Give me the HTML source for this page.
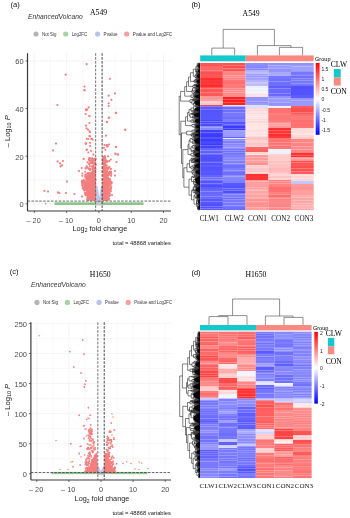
<!DOCTYPE html><html><head><meta charset="utf-8"><style>html,body{margin:0;padding:0;background:#fff;}svg{display:block;filter:blur(0.35px);}</style></head><body><svg width="350" height="518" viewBox="0 0 350 518"><rect width="350" height="518" fill="#fff"/><text x="10.5" y="7.3" font-size="7.6" font-family='"Liberation Sans", sans-serif' text-anchor="start" fill="#222" >(a)</text><text x="28" y="18.8" font-size="6.7" font-family='"Liberation Sans", sans-serif' text-anchor="start" fill="#333" font-style="italic" letter-spacing="0.05">EnhancedVolcano</text><text x="90" y="15.3" font-size="7.7" font-family='"Liberation Serif", serif' text-anchor="start" fill="#000" >A549</text><circle cx="36" cy="34" r="2.6" fill="#b5b5b5"/><text x="42" y="35.9" font-size="5.3" font-family='"Liberation Sans", sans-serif' text-anchor="start" fill="#333" textLength="14.4" lengthAdjust="spacingAndGlyphs">Not Sig</text><circle cx="65.7" cy="34" r="2.6" fill="#a6d2a6"/><text x="71.7" y="35.9" font-size="5.3" font-family='"Liberation Sans", sans-serif' text-anchor="start" fill="#333" textLength="15.5" lengthAdjust="spacingAndGlyphs">Log2FC</text><circle cx="97.6" cy="34" r="2.6" fill="#b6c4f2"/><text x="103.6" y="35.9" font-size="5.3" font-family='"Liberation Sans", sans-serif' text-anchor="start" fill="#333" textLength="13.9" lengthAdjust="spacingAndGlyphs">Pvalue</text><circle cx="126.7" cy="34" r="2.6" fill="#f5a0a0"/><text x="132.7" y="35.9" font-size="5.3" font-family='"Liberation Sans", sans-serif' text-anchor="start" fill="#333" textLength="39.4" lengthAdjust="spacingAndGlyphs">Pvalue and Log2FC</text><line x1="34.3" y1="53.2" x2="34.3" y2="211" stroke="#ebebeb" stroke-width="0.5" /><line x1="50.45" y1="53.2" x2="50.45" y2="211" stroke="#ebebeb" stroke-width="0.35" /><line x1="66.6" y1="53.2" x2="66.6" y2="211" stroke="#ebebeb" stroke-width="0.5" /><line x1="82.75" y1="53.2" x2="82.75" y2="211" stroke="#ebebeb" stroke-width="0.35" /><line x1="98.9" y1="53.2" x2="98.9" y2="211" stroke="#ebebeb" stroke-width="0.5" /><line x1="115.05" y1="53.2" x2="115.05" y2="211" stroke="#ebebeb" stroke-width="0.35" /><line x1="131.2" y1="53.2" x2="131.2" y2="211" stroke="#ebebeb" stroke-width="0.5" /><line x1="147.35" y1="53.2" x2="147.35" y2="211" stroke="#ebebeb" stroke-width="0.35" /><line x1="163.5" y1="53.2" x2="163.5" y2="211" stroke="#ebebeb" stroke-width="0.5" /><line x1="27.5" y1="203.8" x2="171" y2="203.8" stroke="#ebebeb" stroke-width="0.5" /><line x1="27.5" y1="180" x2="171" y2="180" stroke="#ebebeb" stroke-width="0.35" /><line x1="27.5" y1="156.2" x2="171" y2="156.2" stroke="#ebebeb" stroke-width="0.5" /><line x1="27.5" y1="132.4" x2="171" y2="132.4" stroke="#ebebeb" stroke-width="0.35" /><line x1="27.5" y1="108.6" x2="171" y2="108.6" stroke="#ebebeb" stroke-width="0.5" /><line x1="27.5" y1="84.8" x2="171" y2="84.8" stroke="#ebebeb" stroke-width="0.35" /><line x1="27.5" y1="61" x2="171" y2="61" stroke="#ebebeb" stroke-width="0.5" /><rect x="54.5" y="202.3" width="89" height="2.7" fill="#8cc48c"/><circle cx="45.6" cy="203.6" r="0.9" fill="#8cc48c"/><rect x="96" y="200.4" width="6.4" height="5" fill="#c6c6c6"/><polygon points="96.2,200.4 96.4,185.5 97.4,185.5 99.3,197.5 101.2,185.5 102.2,185.5 102.4,200.4" fill="#b8c6f2"/><polygon points="92.5,170 88,175 85,182 85.5,188 88,194 90.5,200 95.8,200 95.8,170" fill="#f47f7f"/><polygon points="105,166 107.5,172 109,180 108.5,190 106.5,200 102.8,200 102.8,166" fill="#f47f7f"/><circle cx="82.4" cy="185.02" r="1.05" fill="#f47f7f"/><circle cx="89.58" cy="184.45" r="1.05" fill="#f47f7f"/><circle cx="91.24" cy="195.33" r="1.05" fill="#f47f7f"/><circle cx="94.8" cy="168.93" r="1.05" fill="#f47f7f"/><circle cx="88.06" cy="198.15" r="1.05" fill="#f47f7f"/><circle cx="87.38" cy="199.32" r="1.05" fill="#f47f7f"/><circle cx="87.35" cy="175.82" r="1.05" fill="#f47f7f"/><circle cx="95.48" cy="199.82" r="1.05" fill="#f47f7f"/><circle cx="95.58" cy="195.14" r="1.05" fill="#f47f7f"/><circle cx="86.88" cy="184.52" r="1.05" fill="#f47f7f"/><circle cx="83.86" cy="182.09" r="1.05" fill="#f47f7f"/><circle cx="93.58" cy="175.41" r="1.05" fill="#f47f7f"/><circle cx="89.43" cy="158.13" r="1.05" fill="#f47f7f"/><circle cx="94.38" cy="173.2" r="1.05" fill="#f47f7f"/><circle cx="89.07" cy="191.63" r="1.05" fill="#f47f7f"/><circle cx="84.77" cy="187.22" r="1.05" fill="#f47f7f"/><circle cx="92.5" cy="160.28" r="1.05" fill="#f47f7f"/><circle cx="87.31" cy="194.49" r="1.05" fill="#f47f7f"/><circle cx="95.56" cy="159.07" r="1.05" fill="#f47f7f"/><circle cx="86.48" cy="176.99" r="1.05" fill="#f47f7f"/><circle cx="89.98" cy="198.24" r="1.05" fill="#f47f7f"/><circle cx="94.83" cy="170.7" r="1.05" fill="#f47f7f"/><circle cx="90.87" cy="197.87" r="1.05" fill="#f47f7f"/><circle cx="87.82" cy="195.56" r="1.05" fill="#f47f7f"/><circle cx="88.35" cy="195.13" r="1.05" fill="#f47f7f"/><circle cx="92.28" cy="176.31" r="1.05" fill="#f47f7f"/><circle cx="88.38" cy="194.38" r="1.05" fill="#f47f7f"/><circle cx="92.88" cy="168.4" r="1.05" fill="#f47f7f"/><circle cx="89.3" cy="194.45" r="1.05" fill="#f47f7f"/><circle cx="87.49" cy="176.4" r="1.05" fill="#f47f7f"/><circle cx="89.89" cy="194.37" r="1.05" fill="#f47f7f"/><circle cx="95.11" cy="190.1" r="1.05" fill="#f47f7f"/><circle cx="89.42" cy="198.16" r="1.05" fill="#f47f7f"/><circle cx="91.62" cy="178.32" r="1.05" fill="#f47f7f"/><circle cx="93.9" cy="160.22" r="1.05" fill="#f47f7f"/><circle cx="95.29" cy="165.14" r="1.05" fill="#f47f7f"/><circle cx="91.84" cy="162.93" r="1.05" fill="#f47f7f"/><circle cx="85.76" cy="195.16" r="1.05" fill="#f47f7f"/><circle cx="85.93" cy="194.93" r="1.05" fill="#f47f7f"/><circle cx="94.85" cy="178.21" r="1.05" fill="#f47f7f"/><circle cx="89.94" cy="199.39" r="1.05" fill="#f47f7f"/><circle cx="90.59" cy="173.36" r="1.05" fill="#f47f7f"/><circle cx="94.17" cy="178.55" r="1.05" fill="#f47f7f"/><circle cx="94.52" cy="172.58" r="1.05" fill="#f47f7f"/><circle cx="83.68" cy="180.26" r="1.05" fill="#f47f7f"/><circle cx="86.92" cy="191.96" r="1.05" fill="#f47f7f"/><circle cx="93.4" cy="199.8" r="1.05" fill="#f47f7f"/><circle cx="93.68" cy="198.91" r="1.05" fill="#f47f7f"/><circle cx="92.25" cy="179.67" r="1.05" fill="#f47f7f"/><circle cx="89.18" cy="163.85" r="1.05" fill="#f47f7f"/><circle cx="88.6" cy="174.01" r="1.05" fill="#f47f7f"/><circle cx="90.77" cy="199.46" r="1.05" fill="#f47f7f"/><circle cx="89.3" cy="173.54" r="1.05" fill="#f47f7f"/><circle cx="89.58" cy="176.67" r="1.05" fill="#f47f7f"/><circle cx="86.49" cy="190.49" r="1.05" fill="#f47f7f"/><circle cx="81.98" cy="180.87" r="1.05" fill="#f47f7f"/><circle cx="85.18" cy="171.75" r="1.05" fill="#f47f7f"/><circle cx="93.54" cy="162.58" r="1.05" fill="#f47f7f"/><circle cx="90.95" cy="163.33" r="1.05" fill="#f47f7f"/><circle cx="88.92" cy="169.06" r="1.05" fill="#f47f7f"/><circle cx="90.7" cy="177.2" r="1.05" fill="#f47f7f"/><circle cx="90" cy="177.96" r="1.05" fill="#f47f7f"/><circle cx="90" cy="158.36" r="1.05" fill="#f47f7f"/><circle cx="84.21" cy="187.72" r="1.05" fill="#f47f7f"/><circle cx="85.23" cy="185.53" r="1.05" fill="#f47f7f"/><circle cx="93.22" cy="171.09" r="1.05" fill="#f47f7f"/><circle cx="88.36" cy="183.78" r="1.05" fill="#f47f7f"/><circle cx="82.12" cy="183.06" r="1.05" fill="#f47f7f"/><circle cx="93.31" cy="192.86" r="1.05" fill="#f47f7f"/><circle cx="94.53" cy="174.65" r="1.05" fill="#f47f7f"/><circle cx="90.83" cy="163.07" r="1.05" fill="#f47f7f"/><circle cx="93.6" cy="163.81" r="1.05" fill="#f47f7f"/><circle cx="89.8" cy="194.87" r="1.05" fill="#f47f7f"/><circle cx="91.2" cy="162.62" r="1.05" fill="#f47f7f"/><circle cx="94.49" cy="179.17" r="1.05" fill="#f47f7f"/><circle cx="82.49" cy="183.1" r="1.05" fill="#f47f7f"/><circle cx="88.82" cy="173.03" r="1.05" fill="#f47f7f"/><circle cx="93.86" cy="195.83" r="1.05" fill="#f47f7f"/><circle cx="91.01" cy="194.34" r="1.05" fill="#f47f7f"/><circle cx="86.82" cy="183.21" r="1.05" fill="#f47f7f"/><circle cx="95.55" cy="158.98" r="1.05" fill="#f47f7f"/><circle cx="90.29" cy="199.53" r="1.05" fill="#f47f7f"/><circle cx="88.53" cy="173.16" r="1.05" fill="#f47f7f"/><circle cx="95.35" cy="169.01" r="1.05" fill="#f47f7f"/><circle cx="87.04" cy="184.92" r="1.05" fill="#f47f7f"/><circle cx="95.42" cy="193.52" r="1.05" fill="#f47f7f"/><circle cx="90.35" cy="177" r="1.05" fill="#f47f7f"/><circle cx="82.27" cy="175.77" r="1.05" fill="#f47f7f"/><circle cx="92.38" cy="174.34" r="1.05" fill="#f47f7f"/><circle cx="92.42" cy="195.52" r="1.05" fill="#f47f7f"/><circle cx="94.19" cy="172.89" r="1.05" fill="#f47f7f"/><circle cx="85.05" cy="189.44" r="1.05" fill="#f47f7f"/><circle cx="85.66" cy="177.7" r="1.05" fill="#f47f7f"/><circle cx="92.32" cy="168.99" r="1.05" fill="#f47f7f"/><circle cx="92.29" cy="161.64" r="1.05" fill="#f47f7f"/><circle cx="82.46" cy="184.97" r="1.05" fill="#f47f7f"/><circle cx="83.14" cy="188.19" r="1.05" fill="#f47f7f"/><circle cx="89.98" cy="168.74" r="1.05" fill="#f47f7f"/><circle cx="89.88" cy="175.95" r="1.05" fill="#f47f7f"/><circle cx="87.72" cy="167.64" r="1.05" fill="#f47f7f"/><circle cx="85.24" cy="194.36" r="1.05" fill="#f47f7f"/><circle cx="93.19" cy="159.23" r="1.05" fill="#f47f7f"/><circle cx="84.18" cy="190.44" r="1.05" fill="#f47f7f"/><circle cx="91.5" cy="189.33" r="1.05" fill="#f47f7f"/><circle cx="84.22" cy="180.68" r="1.05" fill="#f47f7f"/><circle cx="90.29" cy="199.59" r="1.05" fill="#f47f7f"/><circle cx="94.69" cy="168.58" r="1.05" fill="#f47f7f"/><circle cx="95.31" cy="169.19" r="1.05" fill="#f47f7f"/><circle cx="82.4" cy="182.21" r="1.05" fill="#f47f7f"/><circle cx="86.67" cy="174.1" r="1.05" fill="#f47f7f"/><circle cx="95.07" cy="160.75" r="1.05" fill="#f47f7f"/><circle cx="88.01" cy="181.75" r="1.05" fill="#f47f7f"/><circle cx="88.66" cy="176.54" r="1.05" fill="#f47f7f"/><circle cx="91.97" cy="180.24" r="1.05" fill="#f47f7f"/><circle cx="91.89" cy="166.25" r="1.05" fill="#f47f7f"/><circle cx="89.86" cy="165.96" r="1.05" fill="#f47f7f"/><circle cx="90.55" cy="179.64" r="1.05" fill="#f47f7f"/><circle cx="85.06" cy="182.8" r="1.05" fill="#f47f7f"/><circle cx="94.48" cy="159.66" r="1.05" fill="#f47f7f"/><circle cx="89.77" cy="168.52" r="1.05" fill="#f47f7f"/><circle cx="92.07" cy="174.02" r="1.05" fill="#f47f7f"/><circle cx="82.65" cy="186.66" r="1.05" fill="#f47f7f"/><circle cx="94.72" cy="192.37" r="1.05" fill="#f47f7f"/><circle cx="82.64" cy="185.82" r="1.05" fill="#f47f7f"/><circle cx="93.76" cy="183.98" r="1.05" fill="#f47f7f"/><circle cx="86.71" cy="177.54" r="1.05" fill="#f47f7f"/><circle cx="95.16" cy="169.63" r="1.05" fill="#f47f7f"/><circle cx="87.46" cy="193.88" r="1.05" fill="#f47f7f"/><circle cx="85.86" cy="189.06" r="1.05" fill="#f47f7f"/><circle cx="93.17" cy="172.06" r="1.05" fill="#f47f7f"/><circle cx="91.45" cy="193.05" r="1.05" fill="#f47f7f"/><circle cx="91.46" cy="185.69" r="1.05" fill="#f47f7f"/><circle cx="93.63" cy="181.63" r="1.05" fill="#f47f7f"/><circle cx="85.2" cy="176.9" r="1.05" fill="#f47f7f"/><circle cx="86.72" cy="165.93" r="1.05" fill="#f47f7f"/><circle cx="85.73" cy="193.69" r="1.05" fill="#f47f7f"/><circle cx="94.76" cy="163.23" r="1.05" fill="#f47f7f"/><circle cx="92.51" cy="162.17" r="1.05" fill="#f47f7f"/><circle cx="95.01" cy="164.03" r="1.05" fill="#f47f7f"/><circle cx="95.28" cy="172.27" r="1.05" fill="#f47f7f"/><circle cx="93.19" cy="166.92" r="1.05" fill="#f47f7f"/><circle cx="91.36" cy="197.16" r="1.05" fill="#f47f7f"/><circle cx="92.12" cy="199.78" r="1.05" fill="#f47f7f"/><circle cx="92.31" cy="162.77" r="1.05" fill="#f47f7f"/><circle cx="83.92" cy="182.69" r="1.05" fill="#f47f7f"/><circle cx="95.3" cy="174.28" r="1.05" fill="#f47f7f"/><circle cx="92.35" cy="197.72" r="1.05" fill="#f47f7f"/><circle cx="84.86" cy="182.28" r="1.05" fill="#f47f7f"/><circle cx="89.71" cy="195.33" r="1.05" fill="#f47f7f"/><circle cx="92.4" cy="158.53" r="1.05" fill="#f47f7f"/><circle cx="89.16" cy="198.87" r="1.05" fill="#f47f7f"/><circle cx="94.11" cy="170.37" r="1.05" fill="#f47f7f"/><circle cx="89.32" cy="182.26" r="1.05" fill="#f47f7f"/><circle cx="88.15" cy="199.85" r="1.05" fill="#f47f7f"/><circle cx="90.48" cy="195.44" r="1.05" fill="#f47f7f"/><circle cx="94.09" cy="187.02" r="1.05" fill="#f47f7f"/><circle cx="86.18" cy="182.38" r="1.05" fill="#f47f7f"/><circle cx="85.82" cy="168.49" r="1.05" fill="#f47f7f"/><circle cx="90.61" cy="176.99" r="1.05" fill="#f47f7f"/><circle cx="82.65" cy="182.75" r="1.05" fill="#f47f7f"/><circle cx="85.62" cy="192.77" r="1.05" fill="#f47f7f"/><circle cx="90.37" cy="169.7" r="1.05" fill="#f47f7f"/><circle cx="88.94" cy="163.56" r="1.05" fill="#f47f7f"/><circle cx="90.15" cy="170.24" r="1.05" fill="#f47f7f"/><circle cx="93.91" cy="172.47" r="1.05" fill="#f47f7f"/><circle cx="92.03" cy="184.31" r="1.05" fill="#f47f7f"/><circle cx="86.8" cy="176.55" r="1.05" fill="#f47f7f"/><circle cx="91.57" cy="161" r="1.05" fill="#f47f7f"/><circle cx="85.63" cy="175.54" r="1.05" fill="#f47f7f"/><circle cx="83.98" cy="187.67" r="1.05" fill="#f47f7f"/><circle cx="82.48" cy="173.52" r="1.05" fill="#f47f7f"/><circle cx="88.52" cy="199.69" r="1.05" fill="#f47f7f"/><circle cx="95.38" cy="192.83" r="1.05" fill="#f47f7f"/><circle cx="95.07" cy="194.97" r="1.05" fill="#f47f7f"/><circle cx="86.45" cy="193.04" r="1.05" fill="#f47f7f"/><circle cx="83.66" cy="182.6" r="1.05" fill="#f47f7f"/><circle cx="89.57" cy="158.27" r="1.05" fill="#f47f7f"/><circle cx="87.95" cy="198.52" r="1.05" fill="#f47f7f"/><circle cx="90.03" cy="199.25" r="1.05" fill="#f47f7f"/><circle cx="90.54" cy="184.18" r="1.05" fill="#f47f7f"/><circle cx="87.27" cy="177.86" r="1.05" fill="#f47f7f"/><circle cx="89.56" cy="186.37" r="1.05" fill="#f47f7f"/><circle cx="89.23" cy="188.65" r="1.05" fill="#f47f7f"/><circle cx="88.61" cy="180.21" r="1.05" fill="#f47f7f"/><circle cx="93.62" cy="191.37" r="1.05" fill="#f47f7f"/><circle cx="91.58" cy="199.3" r="1.05" fill="#f47f7f"/><circle cx="83.57" cy="187.65" r="1.05" fill="#f47f7f"/><circle cx="87.4" cy="199.14" r="1.05" fill="#f47f7f"/><circle cx="89.14" cy="198.59" r="1.05" fill="#f47f7f"/><circle cx="84.81" cy="183.93" r="1.05" fill="#f47f7f"/><circle cx="82.94" cy="181.9" r="1.05" fill="#f47f7f"/><circle cx="82.81" cy="184.33" r="1.05" fill="#f47f7f"/><circle cx="90.07" cy="178.21" r="1.05" fill="#f47f7f"/><circle cx="95.25" cy="184.88" r="1.05" fill="#f47f7f"/><circle cx="91.08" cy="181.69" r="1.05" fill="#f47f7f"/><circle cx="93.74" cy="175.15" r="1.05" fill="#f47f7f"/><circle cx="88.33" cy="179.21" r="1.05" fill="#f47f7f"/><circle cx="81.73" cy="181.57" r="1.05" fill="#f47f7f"/><circle cx="95.23" cy="171.89" r="1.05" fill="#f47f7f"/><circle cx="89.45" cy="163.76" r="1.05" fill="#f47f7f"/><circle cx="89" cy="188.9" r="1.05" fill="#f47f7f"/><circle cx="83.61" cy="180.01" r="1.05" fill="#f47f7f"/><circle cx="94.77" cy="170.94" r="1.05" fill="#f47f7f"/><circle cx="88.86" cy="159.1" r="1.05" fill="#f47f7f"/><circle cx="94.29" cy="199.37" r="1.05" fill="#f47f7f"/><circle cx="85.27" cy="186.18" r="1.05" fill="#f47f7f"/><circle cx="94.9" cy="181.07" r="1.05" fill="#f47f7f"/><circle cx="85.27" cy="174.74" r="1.05" fill="#f47f7f"/><circle cx="93.66" cy="188.34" r="1.05" fill="#f47f7f"/><circle cx="83.87" cy="189.52" r="1.05" fill="#f47f7f"/><circle cx="91.03" cy="198.57" r="1.05" fill="#f47f7f"/><circle cx="86.58" cy="177.26" r="1.05" fill="#f47f7f"/><circle cx="87.34" cy="186.22" r="1.05" fill="#f47f7f"/><circle cx="82.76" cy="188.51" r="1.05" fill="#f47f7f"/><circle cx="88.81" cy="190.24" r="1.05" fill="#f47f7f"/><circle cx="94.58" cy="162.27" r="1.05" fill="#f47f7f"/><circle cx="89.61" cy="197.98" r="1.05" fill="#f47f7f"/><circle cx="88.87" cy="198.35" r="1.05" fill="#f47f7f"/><circle cx="90.24" cy="174.3" r="1.05" fill="#f47f7f"/><circle cx="91.88" cy="198.52" r="1.05" fill="#f47f7f"/><circle cx="91.47" cy="198.38" r="1.05" fill="#f47f7f"/><circle cx="94.83" cy="173.88" r="1.05" fill="#f47f7f"/><circle cx="85.3" cy="188.96" r="1.05" fill="#f47f7f"/><circle cx="88.2" cy="197.41" r="1.05" fill="#f47f7f"/><circle cx="87.41" cy="162.39" r="1.05" fill="#f47f7f"/><circle cx="84.83" cy="185.64" r="1.05" fill="#f47f7f"/><circle cx="87.16" cy="190.54" r="1.05" fill="#f47f7f"/><circle cx="94.61" cy="163.65" r="1.05" fill="#f47f7f"/><circle cx="91.83" cy="188.65" r="1.05" fill="#f47f7f"/><circle cx="89.98" cy="187.75" r="1.05" fill="#f47f7f"/><circle cx="93.04" cy="168.72" r="1.05" fill="#f47f7f"/><circle cx="88.22" cy="180.11" r="1.05" fill="#f47f7f"/><circle cx="95.73" cy="164.38" r="1.05" fill="#f47f7f"/><circle cx="89.68" cy="182.25" r="1.05" fill="#f47f7f"/><circle cx="89.12" cy="159.82" r="1.05" fill="#f47f7f"/><circle cx="91.24" cy="198.82" r="1.05" fill="#f47f7f"/><circle cx="91.38" cy="198.32" r="1.05" fill="#f47f7f"/><circle cx="93.71" cy="163.43" r="1.05" fill="#f47f7f"/><circle cx="87.59" cy="196.62" r="1.05" fill="#f47f7f"/><circle cx="89.59" cy="193.24" r="1.05" fill="#f47f7f"/><circle cx="84.22" cy="181.98" r="1.05" fill="#f47f7f"/><circle cx="84.64" cy="189.75" r="1.05" fill="#f47f7f"/><circle cx="88.09" cy="183.22" r="1.05" fill="#f47f7f"/><circle cx="87.87" cy="173.18" r="1.05" fill="#f47f7f"/><circle cx="86.33" cy="167.23" r="1.05" fill="#f47f7f"/><circle cx="85.54" cy="168.27" r="1.05" fill="#f47f7f"/><circle cx="90.73" cy="160.29" r="1.05" fill="#f47f7f"/><circle cx="87.86" cy="173.09" r="1.05" fill="#f47f7f"/><circle cx="88.07" cy="186.38" r="1.05" fill="#f47f7f"/><circle cx="95.25" cy="158.49" r="1.05" fill="#f47f7f"/><circle cx="93.6" cy="194.67" r="1.05" fill="#f47f7f"/><circle cx="94.78" cy="159.64" r="1.05" fill="#f47f7f"/><circle cx="87.45" cy="197.48" r="1.05" fill="#f47f7f"/><circle cx="92.51" cy="195.5" r="1.05" fill="#f47f7f"/><circle cx="86.21" cy="179.12" r="1.05" fill="#f47f7f"/><circle cx="94.44" cy="197.65" r="1.05" fill="#f47f7f"/><circle cx="86.52" cy="193.59" r="1.05" fill="#f47f7f"/><circle cx="93.61" cy="194" r="1.05" fill="#f47f7f"/><circle cx="88.25" cy="195.72" r="1.05" fill="#f47f7f"/><circle cx="84.23" cy="180.77" r="1.05" fill="#f47f7f"/><circle cx="84.86" cy="192.69" r="1.05" fill="#f47f7f"/><circle cx="86.58" cy="189.59" r="1.05" fill="#f47f7f"/><circle cx="95.27" cy="183.71" r="1.05" fill="#f47f7f"/><circle cx="91.37" cy="160.84" r="1.05" fill="#f47f7f"/><circle cx="92.87" cy="181.71" r="1.05" fill="#f47f7f"/><circle cx="92.08" cy="158.53" r="1.05" fill="#f47f7f"/><circle cx="93.81" cy="199.88" r="1.05" fill="#f47f7f"/><circle cx="88.64" cy="168.74" r="1.05" fill="#f47f7f"/><circle cx="93.59" cy="196.21" r="1.05" fill="#f47f7f"/><circle cx="86.43" cy="192.73" r="1.05" fill="#f47f7f"/><circle cx="86.63" cy="176.63" r="1.05" fill="#f47f7f"/><circle cx="87.68" cy="181.39" r="1.05" fill="#f47f7f"/><circle cx="88.2" cy="199.99" r="1.05" fill="#f47f7f"/><circle cx="94.91" cy="167.44" r="1.05" fill="#f47f7f"/><circle cx="93.02" cy="172.77" r="1.05" fill="#f47f7f"/><circle cx="83.79" cy="184.32" r="1.05" fill="#f47f7f"/><circle cx="93.2" cy="165.62" r="1.05" fill="#f47f7f"/><circle cx="85.31" cy="186.53" r="1.05" fill="#f47f7f"/><circle cx="94.01" cy="167.22" r="1.05" fill="#f47f7f"/><circle cx="86.89" cy="181.8" r="1.05" fill="#f47f7f"/><circle cx="95.11" cy="190.78" r="1.05" fill="#f47f7f"/><circle cx="89.33" cy="191" r="1.05" fill="#f47f7f"/><circle cx="85.79" cy="188.88" r="1.05" fill="#f47f7f"/><circle cx="85.8" cy="187.48" r="1.05" fill="#f47f7f"/><circle cx="92.49" cy="167.05" r="1.05" fill="#f47f7f"/><circle cx="85.27" cy="188.18" r="1.05" fill="#f47f7f"/><circle cx="95.7" cy="180.05" r="1.05" fill="#f47f7f"/><circle cx="92.16" cy="158.46" r="1.05" fill="#f47f7f"/><circle cx="92.44" cy="177.62" r="1.05" fill="#f47f7f"/><circle cx="92.28" cy="181.16" r="1.05" fill="#f47f7f"/><circle cx="85.12" cy="187.56" r="1.05" fill="#f47f7f"/><circle cx="87.83" cy="194.82" r="1.05" fill="#f47f7f"/><circle cx="89.35" cy="160.98" r="1.05" fill="#f47f7f"/><circle cx="86.27" cy="190" r="1.05" fill="#f47f7f"/><circle cx="91.28" cy="196.72" r="1.05" fill="#f47f7f"/><circle cx="93.32" cy="173.18" r="1.05" fill="#f47f7f"/><circle cx="92.34" cy="166.68" r="1.05" fill="#f47f7f"/><circle cx="94.83" cy="193.9" r="1.05" fill="#f47f7f"/><circle cx="86.24" cy="186.95" r="1.05" fill="#f47f7f"/><circle cx="89.03" cy="186.11" r="1.05" fill="#f47f7f"/><circle cx="107.39" cy="168.84" r="1.05" fill="#f47f7f"/><circle cx="102.89" cy="189.53" r="1.05" fill="#f47f7f"/><circle cx="111.35" cy="186.6" r="1.05" fill="#f47f7f"/><circle cx="108.36" cy="167.63" r="1.05" fill="#f47f7f"/><circle cx="104.08" cy="199.75" r="1.05" fill="#f47f7f"/><circle cx="104.78" cy="174.83" r="1.05" fill="#f47f7f"/><circle cx="111" cy="181.69" r="1.05" fill="#f47f7f"/><circle cx="107.09" cy="176.79" r="1.05" fill="#f47f7f"/><circle cx="103.58" cy="161.47" r="1.05" fill="#f47f7f"/><circle cx="107.15" cy="182.11" r="1.05" fill="#f47f7f"/><circle cx="104.37" cy="156.75" r="1.05" fill="#f47f7f"/><circle cx="104.88" cy="165.17" r="1.05" fill="#f47f7f"/><circle cx="103.25" cy="176.01" r="1.05" fill="#f47f7f"/><circle cx="109.39" cy="192.95" r="1.05" fill="#f47f7f"/><circle cx="109.05" cy="189.62" r="1.05" fill="#f47f7f"/><circle cx="108.65" cy="183.83" r="1.05" fill="#f47f7f"/><circle cx="108.12" cy="196.72" r="1.05" fill="#f47f7f"/><circle cx="109.22" cy="179.26" r="1.05" fill="#f47f7f"/><circle cx="109.41" cy="161.11" r="1.05" fill="#f47f7f"/><circle cx="107.49" cy="177.28" r="1.05" fill="#f47f7f"/><circle cx="108.52" cy="191.25" r="1.05" fill="#f47f7f"/><circle cx="108.96" cy="178.64" r="1.05" fill="#f47f7f"/><circle cx="103" cy="179.88" r="1.05" fill="#f47f7f"/><circle cx="109.8" cy="195.26" r="1.05" fill="#f47f7f"/><circle cx="106.26" cy="174.45" r="1.05" fill="#f47f7f"/><circle cx="105.18" cy="170.37" r="1.05" fill="#f47f7f"/><circle cx="103.31" cy="166.87" r="1.05" fill="#f47f7f"/><circle cx="105.13" cy="183.6" r="1.05" fill="#f47f7f"/><circle cx="105.91" cy="178.84" r="1.05" fill="#f47f7f"/><circle cx="108.51" cy="192.22" r="1.05" fill="#f47f7f"/><circle cx="106.37" cy="175.28" r="1.05" fill="#f47f7f"/><circle cx="108.35" cy="196.43" r="1.05" fill="#f47f7f"/><circle cx="106.56" cy="183.52" r="1.05" fill="#f47f7f"/><circle cx="110.43" cy="172.87" r="1.05" fill="#f47f7f"/><circle cx="110.99" cy="182.79" r="1.05" fill="#f47f7f"/><circle cx="103.75" cy="164.1" r="1.05" fill="#f47f7f"/><circle cx="109.93" cy="179.01" r="1.05" fill="#f47f7f"/><circle cx="108.36" cy="180.96" r="1.05" fill="#f47f7f"/><circle cx="106.94" cy="189.97" r="1.05" fill="#f47f7f"/><circle cx="107.69" cy="161.62" r="1.05" fill="#f47f7f"/><circle cx="105" cy="169.63" r="1.05" fill="#f47f7f"/><circle cx="104.58" cy="198.62" r="1.05" fill="#f47f7f"/><circle cx="103.12" cy="182.01" r="1.05" fill="#f47f7f"/><circle cx="103.95" cy="172.59" r="1.05" fill="#f47f7f"/><circle cx="104.12" cy="190.55" r="1.05" fill="#f47f7f"/><circle cx="109.16" cy="198.65" r="1.05" fill="#f47f7f"/><circle cx="108.95" cy="174.08" r="1.05" fill="#f47f7f"/><circle cx="104.69" cy="166.8" r="1.05" fill="#f47f7f"/><circle cx="108.88" cy="178.97" r="1.05" fill="#f47f7f"/><circle cx="104.32" cy="167.49" r="1.05" fill="#f47f7f"/><circle cx="103.34" cy="158.78" r="1.05" fill="#f47f7f"/><circle cx="103.15" cy="190.83" r="1.05" fill="#f47f7f"/><circle cx="106.4" cy="161.9" r="1.05" fill="#f47f7f"/><circle cx="108.6" cy="188.49" r="1.05" fill="#f47f7f"/><circle cx="106.98" cy="199.52" r="1.05" fill="#f47f7f"/><circle cx="111.62" cy="182.2" r="1.05" fill="#f47f7f"/><circle cx="104.58" cy="183.39" r="1.05" fill="#f47f7f"/><circle cx="105.44" cy="160.37" r="1.05" fill="#f47f7f"/><circle cx="103.84" cy="165.04" r="1.05" fill="#f47f7f"/><circle cx="109.96" cy="195.54" r="1.05" fill="#f47f7f"/><circle cx="107.79" cy="194.5" r="1.05" fill="#f47f7f"/><circle cx="103.03" cy="162.73" r="1.05" fill="#f47f7f"/><circle cx="106.65" cy="170.99" r="1.05" fill="#f47f7f"/><circle cx="105.25" cy="163.31" r="1.05" fill="#f47f7f"/><circle cx="108.81" cy="172.53" r="1.05" fill="#f47f7f"/><circle cx="104.04" cy="198.38" r="1.05" fill="#f47f7f"/><circle cx="103.63" cy="171.78" r="1.05" fill="#f47f7f"/><circle cx="109.65" cy="193.29" r="1.05" fill="#f47f7f"/><circle cx="110.86" cy="187.81" r="1.05" fill="#f47f7f"/><circle cx="104.54" cy="177.85" r="1.05" fill="#f47f7f"/><circle cx="105.77" cy="160.14" r="1.05" fill="#f47f7f"/><circle cx="108.04" cy="175.37" r="1.05" fill="#f47f7f"/><circle cx="105.96" cy="184.85" r="1.05" fill="#f47f7f"/><circle cx="106.99" cy="199.21" r="1.05" fill="#f47f7f"/><circle cx="108.01" cy="192.71" r="1.05" fill="#f47f7f"/><circle cx="108.51" cy="191.39" r="1.05" fill="#f47f7f"/><circle cx="103.8" cy="191.63" r="1.05" fill="#f47f7f"/><circle cx="105.03" cy="161.8" r="1.05" fill="#f47f7f"/><circle cx="109.41" cy="183.89" r="1.05" fill="#f47f7f"/><circle cx="103.2" cy="160" r="1.05" fill="#f47f7f"/><circle cx="109.49" cy="179.49" r="1.05" fill="#f47f7f"/><circle cx="109.42" cy="174.45" r="1.05" fill="#f47f7f"/><circle cx="110.45" cy="181.87" r="1.05" fill="#f47f7f"/><circle cx="109.11" cy="181.17" r="1.05" fill="#f47f7f"/><circle cx="104.69" cy="168.16" r="1.05" fill="#f47f7f"/><circle cx="106.7" cy="193.29" r="1.05" fill="#f47f7f"/><circle cx="106.33" cy="167.8" r="1.05" fill="#f47f7f"/><circle cx="106.32" cy="182.63" r="1.05" fill="#f47f7f"/><circle cx="106.44" cy="182.18" r="1.05" fill="#f47f7f"/><circle cx="111.02" cy="171.57" r="1.05" fill="#f47f7f"/><circle cx="102.88" cy="195.26" r="1.05" fill="#f47f7f"/><circle cx="105.49" cy="182.31" r="1.05" fill="#f47f7f"/><circle cx="108.09" cy="192.25" r="1.05" fill="#f47f7f"/><circle cx="107.3" cy="161.23" r="1.05" fill="#f47f7f"/><circle cx="103.21" cy="167.53" r="1.05" fill="#f47f7f"/><circle cx="104.57" cy="190.36" r="1.05" fill="#f47f7f"/><circle cx="104.26" cy="176.31" r="1.05" fill="#f47f7f"/><circle cx="107.57" cy="177.9" r="1.05" fill="#f47f7f"/><circle cx="103.53" cy="195.55" r="1.05" fill="#f47f7f"/><circle cx="110.63" cy="172.8" r="1.05" fill="#f47f7f"/><circle cx="104.23" cy="198.84" r="1.05" fill="#f47f7f"/><circle cx="107.72" cy="193.99" r="1.05" fill="#f47f7f"/><circle cx="111.63" cy="182.61" r="1.05" fill="#f47f7f"/><circle cx="106.09" cy="196.44" r="1.05" fill="#f47f7f"/><circle cx="106.21" cy="199.35" r="1.05" fill="#f47f7f"/><circle cx="104.11" cy="196.54" r="1.05" fill="#f47f7f"/><circle cx="103" cy="185.56" r="1.05" fill="#f47f7f"/><circle cx="108.08" cy="156.22" r="1.05" fill="#f47f7f"/><circle cx="105.56" cy="193.49" r="1.05" fill="#f47f7f"/><circle cx="107.55" cy="193.06" r="1.05" fill="#f47f7f"/><circle cx="108.48" cy="188.17" r="1.05" fill="#f47f7f"/><circle cx="105.06" cy="176.81" r="1.05" fill="#f47f7f"/><circle cx="104.6" cy="174.88" r="1.05" fill="#f47f7f"/><circle cx="109.51" cy="172.6" r="1.05" fill="#f47f7f"/><circle cx="103.66" cy="162.39" r="1.05" fill="#f47f7f"/><circle cx="104.52" cy="164.76" r="1.05" fill="#f47f7f"/><circle cx="103.7" cy="194.02" r="1.05" fill="#f47f7f"/><circle cx="104.05" cy="179.79" r="1.05" fill="#f47f7f"/><circle cx="104.31" cy="194.05" r="1.05" fill="#f47f7f"/><circle cx="110.28" cy="184.55" r="1.05" fill="#f47f7f"/><circle cx="103.64" cy="163.68" r="1.05" fill="#f47f7f"/><circle cx="107.29" cy="198.54" r="1.05" fill="#f47f7f"/><circle cx="103.77" cy="191.8" r="1.05" fill="#f47f7f"/><circle cx="107.64" cy="192.27" r="1.05" fill="#f47f7f"/><circle cx="104.43" cy="171.54" r="1.05" fill="#f47f7f"/><circle cx="107.77" cy="196.15" r="1.05" fill="#f47f7f"/><circle cx="110.92" cy="168.9" r="1.05" fill="#f47f7f"/><circle cx="104.24" cy="199.72" r="1.05" fill="#f47f7f"/><circle cx="107.27" cy="198.26" r="1.05" fill="#f47f7f"/><circle cx="102.98" cy="168.64" r="1.05" fill="#f47f7f"/><circle cx="103.04" cy="186.89" r="1.05" fill="#f47f7f"/><circle cx="107.26" cy="196.24" r="1.05" fill="#f47f7f"/><circle cx="105.87" cy="190.31" r="1.05" fill="#f47f7f"/><circle cx="107.46" cy="196.71" r="1.05" fill="#f47f7f"/><circle cx="107.31" cy="171.01" r="1.05" fill="#f47f7f"/><circle cx="106.24" cy="194.4" r="1.05" fill="#f47f7f"/><circle cx="107.89" cy="186.4" r="1.05" fill="#f47f7f"/><circle cx="104.52" cy="193.63" r="1.05" fill="#f47f7f"/><circle cx="102.92" cy="194.01" r="1.05" fill="#f47f7f"/><circle cx="111.01" cy="175.85" r="1.05" fill="#f47f7f"/><circle cx="104.28" cy="157.39" r="1.05" fill="#f47f7f"/><circle cx="104.32" cy="160.57" r="1.05" fill="#f47f7f"/><circle cx="111.27" cy="174.03" r="1.05" fill="#f47f7f"/><circle cx="107.89" cy="193.32" r="1.05" fill="#f47f7f"/><circle cx="103.16" cy="185.41" r="1.05" fill="#f47f7f"/><circle cx="105.7" cy="187.35" r="1.05" fill="#f47f7f"/><circle cx="104.97" cy="191.6" r="1.05" fill="#f47f7f"/><circle cx="106.82" cy="183.27" r="1.05" fill="#f47f7f"/><circle cx="104.53" cy="193.12" r="1.05" fill="#f47f7f"/><circle cx="106.25" cy="185.65" r="1.05" fill="#f47f7f"/><circle cx="110.05" cy="172.25" r="1.05" fill="#f47f7f"/><circle cx="104.17" cy="199.67" r="1.05" fill="#f47f7f"/><circle cx="103.02" cy="198.79" r="1.05" fill="#f47f7f"/><circle cx="109.72" cy="182.34" r="1.05" fill="#f47f7f"/><circle cx="102.93" cy="189.77" r="1.05" fill="#f47f7f"/><circle cx="109.65" cy="188.88" r="1.05" fill="#f47f7f"/><circle cx="108.22" cy="192.29" r="1.05" fill="#f47f7f"/><circle cx="111.43" cy="183.55" r="1.05" fill="#f47f7f"/><circle cx="111.07" cy="188.23" r="1.05" fill="#f47f7f"/><circle cx="108.7" cy="168.6" r="1.05" fill="#f47f7f"/><circle cx="104.43" cy="186.15" r="1.05" fill="#f47f7f"/><circle cx="106.38" cy="165.49" r="1.05" fill="#f47f7f"/><circle cx="103.1" cy="161.1" r="1.05" fill="#f47f7f"/><circle cx="105" cy="181.8" r="1.05" fill="#f47f7f"/><circle cx="103.22" cy="157.31" r="1.05" fill="#f47f7f"/><circle cx="108.05" cy="193.54" r="1.05" fill="#f47f7f"/><circle cx="104.26" cy="199.99" r="1.05" fill="#f47f7f"/><circle cx="106.1" cy="193.14" r="1.05" fill="#f47f7f"/><circle cx="110.12" cy="179.86" r="1.05" fill="#f47f7f"/><circle cx="106.11" cy="165.41" r="1.05" fill="#f47f7f"/><circle cx="108.98" cy="188.9" r="1.05" fill="#f47f7f"/><circle cx="109.83" cy="171.5" r="1.05" fill="#f47f7f"/><circle cx="105.29" cy="158.05" r="1.05" fill="#f47f7f"/><circle cx="105.9" cy="176.28" r="1.05" fill="#f47f7f"/><circle cx="107.15" cy="187.94" r="1.05" fill="#f47f7f"/><circle cx="104.34" cy="180.54" r="1.05" fill="#f47f7f"/><circle cx="105.73" cy="189.79" r="1.05" fill="#f47f7f"/><circle cx="103.1" cy="197.02" r="1.05" fill="#f47f7f"/><circle cx="107.03" cy="197.73" r="1.05" fill="#f47f7f"/><circle cx="109.65" cy="184.35" r="1.05" fill="#f47f7f"/><circle cx="109.4" cy="195.85" r="1.05" fill="#f47f7f"/><circle cx="104.78" cy="199.02" r="1.05" fill="#f47f7f"/><circle cx="104.75" cy="167.27" r="1.05" fill="#f47f7f"/><circle cx="108.41" cy="192.67" r="1.05" fill="#f47f7f"/><circle cx="110.59" cy="189.43" r="1.05" fill="#f47f7f"/><circle cx="106.61" cy="165.54" r="1.05" fill="#f47f7f"/><circle cx="110.81" cy="171.97" r="1.05" fill="#f47f7f"/><circle cx="103.79" cy="167.01" r="1.05" fill="#f47f7f"/><circle cx="103.73" cy="173.89" r="1.05" fill="#f47f7f"/><circle cx="108.8" cy="199.83" r="1.05" fill="#f47f7f"/><circle cx="104.31" cy="157.68" r="1.05" fill="#f47f7f"/><circle cx="109.34" cy="185.79" r="1.05" fill="#f47f7f"/><circle cx="105.05" cy="159.77" r="1.05" fill="#f47f7f"/><circle cx="102.99" cy="171.64" r="1.05" fill="#f47f7f"/><circle cx="110.87" cy="191.35" r="1.05" fill="#f47f7f"/><circle cx="102.91" cy="197.2" r="1.05" fill="#f47f7f"/><circle cx="105.11" cy="180.13" r="1.05" fill="#f47f7f"/><circle cx="110.44" cy="190.43" r="1.05" fill="#f47f7f"/><circle cx="106.14" cy="191.44" r="1.05" fill="#f47f7f"/><circle cx="107.43" cy="168.92" r="1.05" fill="#f47f7f"/><circle cx="106.66" cy="172.63" r="1.05" fill="#f47f7f"/><circle cx="103.27" cy="196.36" r="1.05" fill="#f47f7f"/><circle cx="103.87" cy="159.76" r="1.05" fill="#f47f7f"/><circle cx="102.88" cy="197.19" r="1.05" fill="#f47f7f"/><circle cx="106.56" cy="179.01" r="1.05" fill="#f47f7f"/><circle cx="105.37" cy="191.82" r="1.05" fill="#f47f7f"/><circle cx="103.1" cy="188.09" r="1.05" fill="#f47f7f"/><circle cx="107.14" cy="198.76" r="1.05" fill="#f47f7f"/><circle cx="104.74" cy="198.39" r="1.05" fill="#f47f7f"/><circle cx="104.71" cy="156.16" r="1.05" fill="#f47f7f"/><circle cx="107.69" cy="182.86" r="1.05" fill="#f47f7f"/><circle cx="106.03" cy="186.81" r="1.05" fill="#f47f7f"/><circle cx="108.51" cy="174.52" r="1.05" fill="#f47f7f"/><circle cx="110.81" cy="159.46" r="1.05" fill="#f47f7f"/><circle cx="110.43" cy="184.72" r="1.05" fill="#f47f7f"/><circle cx="103.58" cy="195.41" r="1.05" fill="#f47f7f"/><circle cx="104.33" cy="197.24" r="1.05" fill="#f47f7f"/><circle cx="104.69" cy="169.54" r="1.05" fill="#f47f7f"/><circle cx="106.37" cy="199.88" r="1.05" fill="#f47f7f"/><circle cx="105.82" cy="199.87" r="1.05" fill="#f47f7f"/><circle cx="107" cy="167.49" r="1.05" fill="#f47f7f"/><circle cx="109.42" cy="166.91" r="1.05" fill="#f47f7f"/><circle cx="104.89" cy="156.8" r="1.05" fill="#f47f7f"/><circle cx="108.97" cy="186.53" r="1.05" fill="#f47f7f"/><circle cx="104.07" cy="161.1" r="1.05" fill="#f47f7f"/><circle cx="104.64" cy="193.59" r="1.05" fill="#f47f7f"/><circle cx="108.81" cy="174.52" r="1.05" fill="#f47f7f"/><circle cx="104.29" cy="175.47" r="1.05" fill="#f47f7f"/><circle cx="103.01" cy="161.35" r="1.05" fill="#f47f7f"/><circle cx="108.76" cy="189.39" r="1.05" fill="#f47f7f"/><circle cx="105.45" cy="170.09" r="1.05" fill="#f47f7f"/><circle cx="103.46" cy="195.36" r="1.05" fill="#f47f7f"/><circle cx="102.85" cy="188.75" r="1.05" fill="#f47f7f"/><circle cx="104.76" cy="182.01" r="1.05" fill="#f47f7f"/><circle cx="109.21" cy="180.39" r="1.05" fill="#f47f7f"/><circle cx="104.46" cy="162.71" r="1.05" fill="#f47f7f"/><circle cx="107.65" cy="197.55" r="1.05" fill="#f47f7f"/><circle cx="103.7" cy="158.12" r="1.05" fill="#f47f7f"/><circle cx="104.09" cy="172.01" r="1.05" fill="#f47f7f"/><circle cx="108.48" cy="173.49" r="1.05" fill="#f47f7f"/><circle cx="88.35" cy="152.5" r="1.05" fill="#f47f7f"/><circle cx="86.53" cy="128.32" r="1.05" fill="#f47f7f"/><circle cx="88.33" cy="138.96" r="1.05" fill="#f47f7f"/><circle cx="86.93" cy="138.68" r="1.05" fill="#f47f7f"/><circle cx="92.69" cy="139.51" r="1.05" fill="#f47f7f"/><circle cx="90.12" cy="132.31" r="1.05" fill="#f47f7f"/><circle cx="90.1" cy="142.85" r="1.05" fill="#f47f7f"/><circle cx="93.44" cy="154.58" r="1.05" fill="#f47f7f"/><circle cx="106.92" cy="144.96" r="1.05" fill="#f47f7f"/><circle cx="106.7" cy="145.35" r="1.05" fill="#f47f7f"/><circle cx="105.43" cy="149.85" r="1.05" fill="#f47f7f"/><circle cx="107.81" cy="146.39" r="1.05" fill="#f47f7f"/><circle cx="103.99" cy="147.76" r="1.05" fill="#f47f7f"/><circle cx="106.91" cy="145.96" r="1.05" fill="#f47f7f"/><circle cx="86.7" cy="64.2" r="1.1" fill="#f47f7f"/><circle cx="65.7" cy="74.7" r="1.1" fill="#f47f7f"/><circle cx="84.5" cy="86.6" r="1.1" fill="#f47f7f"/><circle cx="84.5" cy="90" r="1.1" fill="#f47f7f"/><circle cx="109.8" cy="78.8" r="1.1" fill="#f47f7f"/><circle cx="114.9" cy="93.4" r="1.1" fill="#f47f7f"/><circle cx="108.7" cy="95.7" r="1.1" fill="#f47f7f"/><circle cx="111.4" cy="99.8" r="1.1" fill="#f47f7f"/><circle cx="108.7" cy="103.3" r="1.1" fill="#f47f7f"/><circle cx="108.7" cy="106" r="1.1" fill="#f47f7f"/><circle cx="88.6" cy="107.4" r="1.1" fill="#f47f7f"/><circle cx="86" cy="109.4" r="1.1" fill="#f47f7f"/><circle cx="87.2" cy="109.6" r="1.1" fill="#f47f7f"/><circle cx="85.6" cy="114" r="1.1" fill="#f47f7f"/><circle cx="89.4" cy="116" r="1.1" fill="#f47f7f"/><circle cx="116" cy="112.9" r="1.1" fill="#f47f7f"/><circle cx="108.7" cy="117.9" r="1.1" fill="#f47f7f"/><circle cx="106.9" cy="122" r="1.1" fill="#f47f7f"/><circle cx="89.4" cy="123" r="1.1" fill="#f47f7f"/><circle cx="86" cy="125.6" r="1.1" fill="#f47f7f"/><circle cx="88" cy="129.6" r="1.1" fill="#f47f7f"/><circle cx="125.1" cy="129.5" r="1.1" fill="#f47f7f"/><circle cx="57.4" cy="105" r="1.1" fill="#f47f7f"/><circle cx="84.4" cy="90.4" r="1.1" fill="#f47f7f"/><circle cx="89.4" cy="131.4" r="1.1" fill="#f47f7f"/><circle cx="90" cy="136.4" r="1.1" fill="#f47f7f"/><circle cx="91.6" cy="139" r="1.1" fill="#f47f7f"/><circle cx="56" cy="143.6" r="1.1" fill="#f47f7f"/><circle cx="85.6" cy="143.6" r="1.1" fill="#f47f7f"/><circle cx="86.3" cy="110.3" r="1.1" fill="#f47f7f"/><circle cx="89.4" cy="116" r="1.1" fill="#f47f7f"/><circle cx="115.8" cy="112.9" r="1.1" fill="#f47f7f"/><circle cx="109.1" cy="117.7" r="1.1" fill="#f47f7f"/><circle cx="107.2" cy="122" r="1.1" fill="#f47f7f"/><circle cx="125.4" cy="130" r="1.1" fill="#f47f7f"/><circle cx="106" cy="135.7" r="1.1" fill="#f47f7f"/><circle cx="89.4" cy="136" r="1.1" fill="#f47f7f"/><circle cx="91.4" cy="139.1" r="1.1" fill="#f47f7f"/><circle cx="86" cy="143.4" r="1.1" fill="#f47f7f"/><circle cx="116" cy="146.9" r="1.1" fill="#f47f7f"/><circle cx="90.2" cy="146" r="1.1" fill="#f47f7f"/><circle cx="86.6" cy="149.8" r="1.1" fill="#f47f7f"/><circle cx="91" cy="151" r="1.1" fill="#f47f7f"/><circle cx="115.4" cy="153.7" r="1.1" fill="#f47f7f"/><circle cx="118" cy="154.6" r="1.1" fill="#f47f7f"/><circle cx="83.7" cy="158.9" r="1.1" fill="#f47f7f"/><circle cx="53" cy="150.4" r="1.1" fill="#f47f7f"/><circle cx="57.6" cy="161.4" r="1.1" fill="#f47f7f"/><circle cx="60" cy="163.4" r="1.1" fill="#f47f7f"/><circle cx="63" cy="161" r="1.1" fill="#f47f7f"/><circle cx="62" cy="165.4" r="1.1" fill="#f47f7f"/><circle cx="60.6" cy="166.4" r="1.1" fill="#f47f7f"/><circle cx="67" cy="181.6" r="1.1" fill="#f47f7f"/><circle cx="44.4" cy="191" r="1.1" fill="#f47f7f"/><circle cx="48" cy="191.6" r="1.1" fill="#f47f7f"/><circle cx="58" cy="192.4" r="1.1" fill="#f47f7f"/><circle cx="59.4" cy="193" r="1.1" fill="#f47f7f"/><circle cx="66" cy="193" r="1.1" fill="#f47f7f"/><circle cx="74.4" cy="194" r="1.1" fill="#f47f7f"/><circle cx="82" cy="196.6" r="1.1" fill="#f47f7f"/><circle cx="79" cy="171" r="1.1" fill="#f47f7f"/><circle cx="81.6" cy="168" r="1.1" fill="#f47f7f"/><circle cx="86" cy="143.6" r="1.1" fill="#f47f7f"/><circle cx="87" cy="149.6" r="1.1" fill="#f47f7f"/><circle cx="116" cy="147" r="1.1" fill="#f47f7f"/><circle cx="115.6" cy="154" r="1.1" fill="#f47f7f"/><circle cx="118" cy="154.4" r="1.1" fill="#f47f7f"/><circle cx="116.6" cy="162" r="1.1" fill="#f47f7f"/><circle cx="115" cy="171" r="1.1" fill="#f47f7f"/><circle cx="115" cy="175.6" r="1.1" fill="#f47f7f"/><circle cx="112" cy="195" r="1.1" fill="#f47f7f"/><circle cx="104.5" cy="145" r="1.1" fill="#f47f7f"/><circle cx="107" cy="146.5" r="1.1" fill="#f47f7f"/><circle cx="109" cy="144.5" r="1.1" fill="#f47f7f"/><line x1="95.67" y1="53.2" x2="95.67" y2="211" stroke="#5a5a5a" stroke-width="0.85" stroke-dasharray="2.6 1.3"/><line x1="102.13" y1="53.2" x2="102.13" y2="211" stroke="#262626" stroke-width="0.85" stroke-dasharray="2.6 1.3"/><line x1="27.5" y1="201.1" x2="171" y2="201.1" stroke="#444" stroke-width="0.8" stroke-dasharray="2.6 1.3"/><line x1="27.5" y1="53.2" x2="27.5" y2="211" stroke="#3a3a3a" stroke-width="1.2" /><line x1="27.5" y1="211" x2="171" y2="211" stroke="#3a3a3a" stroke-width="1.2" /><line x1="34.3" y1="211" x2="34.3" y2="213" stroke="#333" stroke-width="0.7" /><text x="33.6" y="223.1" font-size="7.3" font-family='"Liberation Sans", sans-serif' text-anchor="middle" fill="#4d4d4d" >&#8211; 20</text><line x1="66.6" y1="211" x2="66.6" y2="213" stroke="#333" stroke-width="0.7" /><text x="65.9" y="223.1" font-size="7.3" font-family='"Liberation Sans", sans-serif' text-anchor="middle" fill="#4d4d4d" >&#8211; 10</text><line x1="98.9" y1="211" x2="98.9" y2="213" stroke="#333" stroke-width="0.7" /><text x="98.9" y="223.1" font-size="7.3" font-family='"Liberation Sans", sans-serif' text-anchor="middle" fill="#4d4d4d" >0</text><line x1="131.2" y1="211" x2="131.2" y2="213" stroke="#333" stroke-width="0.7" /><text x="131.2" y="223.1" font-size="7.3" font-family='"Liberation Sans", sans-serif' text-anchor="middle" fill="#4d4d4d" >10</text><line x1="163.5" y1="211" x2="163.5" y2="213" stroke="#333" stroke-width="0.7" /><text x="163.5" y="223.1" font-size="7.3" font-family='"Liberation Sans", sans-serif' text-anchor="middle" fill="#4d4d4d" >20</text><line x1="25.5" y1="203.8" x2="27.5" y2="203.8" stroke="#333" stroke-width="0.7" /><text x="23.6" y="207.2" font-size="7.5" font-family='"Liberation Sans", sans-serif' text-anchor="end" fill="#4d4d4d" >0</text><line x1="25.5" y1="156.2" x2="27.5" y2="156.2" stroke="#333" stroke-width="0.7" /><text x="23.6" y="159.6" font-size="7.5" font-family='"Liberation Sans", sans-serif' text-anchor="end" fill="#4d4d4d" >20</text><line x1="25.5" y1="108.6" x2="27.5" y2="108.6" stroke="#333" stroke-width="0.7" /><text x="23.6" y="112" font-size="7.5" font-family='"Liberation Sans", sans-serif' text-anchor="end" fill="#4d4d4d" >40</text><line x1="25.5" y1="61" x2="27.5" y2="61" stroke="#333" stroke-width="0.7" /><text x="23.6" y="64.4" font-size="7.5" font-family='"Liberation Sans", sans-serif' text-anchor="end" fill="#4d4d4d" >60</text><text x="72.5" y="230.8" font-size="7.3" font-family='"Liberation Sans", sans-serif' text-anchor="start" fill="#222" >Log<tspan font-size="5" dy="1.5">2</tspan><tspan dy="-1.5"> fold change</tspan></text><text transform="translate(9.9,131.3) rotate(-90)" font-size="7.6" font-family='"Liberation Sans", sans-serif' text-anchor="middle" fill="#222">&#8211; Log<tspan font-size="5.4" dy="1.3">10</tspan><tspan dy="-1.3"> </tspan><tspan font-style="italic">P</tspan></text><text x="171" y="245.3" font-size="5.8" font-family='"Liberation Sans", sans-serif' text-anchor="end" fill="#222" >total = 48868 variables</text><text x="9.8" y="274.1" font-size="7.6" font-family='"Liberation Sans", sans-serif' text-anchor="start" fill="#222" >(c)</text><text x="30.9" y="287.3" font-size="6.7" font-family='"Liberation Sans", sans-serif' text-anchor="start" fill="#333" font-style="italic" letter-spacing="0.05">EnhancedVolcano</text><text x="89.7" y="277.4" font-size="7.7" font-family='"Liberation Serif", serif' text-anchor="start" fill="#000" >H1650</text><circle cx="37" cy="302.4" r="2.6" fill="#b5b5b5"/><text x="43" y="304.3" font-size="5.3" font-family='"Liberation Sans", sans-serif' text-anchor="start" fill="#333" textLength="15" lengthAdjust="spacingAndGlyphs">Not Sig</text><circle cx="67.4" cy="302.4" r="2.6" fill="#a6d2a6"/><text x="73.4" y="304.3" font-size="5.3" font-family='"Liberation Sans", sans-serif' text-anchor="start" fill="#333" textLength="15.5" lengthAdjust="spacingAndGlyphs">Log2FC</text><circle cx="99.1" cy="302.4" r="2.6" fill="#b6c4f2"/><text x="105.1" y="304.3" font-size="5.3" font-family='"Liberation Sans", sans-serif' text-anchor="start" fill="#333" textLength="13.6" lengthAdjust="spacingAndGlyphs">Pvalue</text><circle cx="128.2" cy="302.4" r="2.6" fill="#f5a0a0"/><text x="134.2" y="304.3" font-size="5.3" font-family='"Liberation Sans", sans-serif' text-anchor="start" fill="#333" textLength="37.8" lengthAdjust="spacingAndGlyphs">Pvalue and Log2FC</text><line x1="36.8" y1="322.3" x2="36.8" y2="480" stroke="#ebebeb" stroke-width="0.5" /><line x1="52.85" y1="322.3" x2="52.85" y2="480" stroke="#ebebeb" stroke-width="0.35" /><line x1="68.9" y1="322.3" x2="68.9" y2="480" stroke="#ebebeb" stroke-width="0.5" /><line x1="84.95" y1="322.3" x2="84.95" y2="480" stroke="#ebebeb" stroke-width="0.35" /><line x1="101" y1="322.3" x2="101" y2="480" stroke="#ebebeb" stroke-width="0.5" /><line x1="117.05" y1="322.3" x2="117.05" y2="480" stroke="#ebebeb" stroke-width="0.35" /><line x1="133.1" y1="322.3" x2="133.1" y2="480" stroke="#ebebeb" stroke-width="0.5" /><line x1="149.15" y1="322.3" x2="149.15" y2="480" stroke="#ebebeb" stroke-width="0.35" /><line x1="165.2" y1="322.3" x2="165.2" y2="480" stroke="#ebebeb" stroke-width="0.5" /><line x1="30.9" y1="473.8" x2="171" y2="473.8" stroke="#ebebeb" stroke-width="0.5" /><line x1="30.9" y1="458.76" x2="171" y2="458.76" stroke="#ebebeb" stroke-width="0.35" /><line x1="30.9" y1="443.72" x2="171" y2="443.72" stroke="#ebebeb" stroke-width="0.5" /><line x1="30.9" y1="428.68" x2="171" y2="428.68" stroke="#ebebeb" stroke-width="0.35" /><line x1="30.9" y1="413.64" x2="171" y2="413.64" stroke="#ebebeb" stroke-width="0.5" /><line x1="30.9" y1="398.6" x2="171" y2="398.6" stroke="#ebebeb" stroke-width="0.35" /><line x1="30.9" y1="383.56" x2="171" y2="383.56" stroke="#ebebeb" stroke-width="0.5" /><line x1="30.9" y1="368.52" x2="171" y2="368.52" stroke="#ebebeb" stroke-width="0.35" /><line x1="30.9" y1="353.48" x2="171" y2="353.48" stroke="#ebebeb" stroke-width="0.5" /><line x1="30.9" y1="338.44" x2="171" y2="338.44" stroke="#ebebeb" stroke-width="0.35" /><line x1="30.9" y1="323.4" x2="171" y2="323.4" stroke="#ebebeb" stroke-width="0.5" /><rect x="51.5" y="471.9" width="96" height="2.2" fill="#8cc48c"/><rect x="98" y="471.5" width="6" height="3" fill="#a9a9a9"/><polygon points="97.6,472.4 97.8,466 98.6,466 100.9,471 103.2,466 104,466 104.2,472.4" fill="#c2ccf2"/><polygon points="97.2,452 95.5,454 91.5,460 89.5,466 90,472 97.2,472" fill="#f47f7f"/><polygon points="104.6,452 106.5,454 110,460 111.5,466 111,472 104.6,472" fill="#f47f7f"/><circle cx="86.11" cy="462.33" r="0.9" fill="#f47f7f"/><circle cx="88.39" cy="435.6" r="0.9" fill="#f47f7f"/><circle cx="89.94" cy="472" r="0.9" fill="#f47f7f"/><circle cx="89.17" cy="460.97" r="0.9" fill="#f47f7f"/><circle cx="92.78" cy="468.1" r="0.9" fill="#f47f7f"/><circle cx="95.11" cy="464.56" r="0.9" fill="#f47f7f"/><circle cx="86.52" cy="471.26" r="0.9" fill="#f47f7f"/><circle cx="89.3" cy="471.88" r="0.9" fill="#f47f7f"/><circle cx="96.66" cy="462.59" r="0.9" fill="#f47f7f"/><circle cx="93.75" cy="443.68" r="0.9" fill="#f47f7f"/><circle cx="90.29" cy="430.43" r="0.9" fill="#f47f7f"/><circle cx="91.5" cy="433.2" r="0.9" fill="#f47f7f"/><circle cx="86.99" cy="471.72" r="0.9" fill="#f47f7f"/><circle cx="90.33" cy="432.54" r="0.9" fill="#f47f7f"/><circle cx="95.98" cy="470.31" r="0.9" fill="#f47f7f"/><circle cx="92.56" cy="471.99" r="0.9" fill="#f47f7f"/><circle cx="88.71" cy="472" r="0.9" fill="#f47f7f"/><circle cx="88.04" cy="470.96" r="0.9" fill="#f47f7f"/><circle cx="91.71" cy="470.9" r="0.9" fill="#f47f7f"/><circle cx="89.49" cy="472" r="0.9" fill="#f47f7f"/><circle cx="89.94" cy="454.49" r="0.9" fill="#f47f7f"/><circle cx="92.55" cy="451.49" r="0.9" fill="#f47f7f"/><circle cx="95.81" cy="472" r="0.9" fill="#f47f7f"/><circle cx="91.36" cy="434.01" r="0.9" fill="#f47f7f"/><circle cx="90.35" cy="437.16" r="0.9" fill="#f47f7f"/><circle cx="91.13" cy="470.4" r="0.9" fill="#f47f7f"/><circle cx="86.37" cy="471.96" r="0.9" fill="#f47f7f"/><circle cx="90.87" cy="444.88" r="0.9" fill="#f47f7f"/><circle cx="92.5" cy="471.98" r="0.9" fill="#f47f7f"/><circle cx="91.16" cy="438.53" r="0.9" fill="#f47f7f"/><circle cx="94.4" cy="465.69" r="0.9" fill="#f47f7f"/><circle cx="96.04" cy="471.83" r="0.9" fill="#f47f7f"/><circle cx="89.31" cy="458.63" r="0.9" fill="#f47f7f"/><circle cx="87.85" cy="472" r="0.9" fill="#f47f7f"/><circle cx="92.48" cy="469.54" r="0.9" fill="#f47f7f"/><circle cx="93.23" cy="448.11" r="0.9" fill="#f47f7f"/><circle cx="89.48" cy="472" r="0.9" fill="#f47f7f"/><circle cx="89.04" cy="467.41" r="0.9" fill="#f47f7f"/><circle cx="87.86" cy="455.81" r="0.9" fill="#f47f7f"/><circle cx="93.36" cy="451.47" r="0.9" fill="#f47f7f"/><circle cx="88.86" cy="471.9" r="0.9" fill="#f47f7f"/><circle cx="85.8" cy="468.51" r="0.9" fill="#f47f7f"/><circle cx="91.8" cy="431.29" r="0.9" fill="#f47f7f"/><circle cx="94.42" cy="455.96" r="0.9" fill="#f47f7f"/><circle cx="94.16" cy="469.58" r="0.9" fill="#f47f7f"/><circle cx="89.54" cy="429.61" r="0.9" fill="#f47f7f"/><circle cx="96.25" cy="467.23" r="0.9" fill="#f47f7f"/><circle cx="85.87" cy="471.32" r="0.9" fill="#f47f7f"/><circle cx="86.4" cy="470.31" r="0.9" fill="#f47f7f"/><circle cx="86.86" cy="458.29" r="0.9" fill="#f47f7f"/><circle cx="88.8" cy="470.27" r="0.9" fill="#f47f7f"/><circle cx="86.74" cy="467.64" r="0.9" fill="#f47f7f"/><circle cx="87.19" cy="471.13" r="0.9" fill="#f47f7f"/><circle cx="92.53" cy="464.27" r="0.9" fill="#f47f7f"/><circle cx="88.15" cy="471.47" r="0.9" fill="#f47f7f"/><circle cx="87.77" cy="448.98" r="0.9" fill="#f47f7f"/><circle cx="86.64" cy="470.5" r="0.9" fill="#f47f7f"/><circle cx="91.19" cy="447.93" r="0.9" fill="#f47f7f"/><circle cx="87.44" cy="443.83" r="0.9" fill="#f47f7f"/><circle cx="91.91" cy="433.83" r="0.9" fill="#f47f7f"/><circle cx="85.43" cy="471.86" r="0.9" fill="#f47f7f"/><circle cx="86.58" cy="467.88" r="0.9" fill="#f47f7f"/><circle cx="91.24" cy="455.9" r="0.9" fill="#f47f7f"/><circle cx="87.89" cy="464.27" r="0.9" fill="#f47f7f"/><circle cx="87.03" cy="462.28" r="0.9" fill="#f47f7f"/><circle cx="95.29" cy="456.59" r="0.9" fill="#f47f7f"/><circle cx="88.9" cy="468.79" r="0.9" fill="#f47f7f"/><circle cx="89.49" cy="458.83" r="0.9" fill="#f47f7f"/><circle cx="96.56" cy="468.03" r="0.9" fill="#f47f7f"/><circle cx="95.8" cy="471.93" r="0.9" fill="#f47f7f"/><circle cx="93.6" cy="471.77" r="0.9" fill="#f47f7f"/><circle cx="87.44" cy="470.01" r="0.9" fill="#f47f7f"/><circle cx="89.47" cy="471.56" r="0.9" fill="#f47f7f"/><circle cx="93.9" cy="469.55" r="0.9" fill="#f47f7f"/><circle cx="88.56" cy="471.96" r="0.9" fill="#f47f7f"/><circle cx="89.4" cy="472" r="0.9" fill="#f47f7f"/><circle cx="92.35" cy="465.68" r="0.9" fill="#f47f7f"/><circle cx="90.1" cy="433.61" r="0.9" fill="#f47f7f"/><circle cx="89.58" cy="449.32" r="0.9" fill="#f47f7f"/><circle cx="87.7" cy="471.91" r="0.9" fill="#f47f7f"/><circle cx="89.58" cy="433.75" r="0.9" fill="#f47f7f"/><circle cx="89.4" cy="470.46" r="0.9" fill="#f47f7f"/><circle cx="87.43" cy="471.96" r="0.9" fill="#f47f7f"/><circle cx="85.75" cy="471.92" r="0.9" fill="#f47f7f"/><circle cx="95.35" cy="470.08" r="0.9" fill="#f47f7f"/><circle cx="88.49" cy="471.15" r="0.9" fill="#f47f7f"/><circle cx="89.62" cy="433.24" r="0.9" fill="#f47f7f"/><circle cx="88" cy="471.41" r="0.9" fill="#f47f7f"/><circle cx="89.46" cy="469.35" r="0.9" fill="#f47f7f"/><circle cx="93.26" cy="467.46" r="0.9" fill="#f47f7f"/><circle cx="88.27" cy="471.95" r="0.9" fill="#f47f7f"/><circle cx="86.13" cy="471.13" r="0.9" fill="#f47f7f"/><circle cx="95.09" cy="472" r="0.9" fill="#f47f7f"/><circle cx="90.55" cy="436.48" r="0.9" fill="#f47f7f"/><circle cx="89.55" cy="471.35" r="0.9" fill="#f47f7f"/><circle cx="88.08" cy="471.13" r="0.9" fill="#f47f7f"/><circle cx="86.57" cy="461.19" r="0.9" fill="#f47f7f"/><circle cx="88.84" cy="471.95" r="0.9" fill="#f47f7f"/><circle cx="94.57" cy="466.11" r="0.9" fill="#f47f7f"/><circle cx="94.09" cy="466.24" r="0.9" fill="#f47f7f"/><circle cx="89.9" cy="454.85" r="0.9" fill="#f47f7f"/><circle cx="90.11" cy="471.46" r="0.9" fill="#f47f7f"/><circle cx="94.25" cy="441.92" r="0.9" fill="#f47f7f"/><circle cx="92.59" cy="452.26" r="0.9" fill="#f47f7f"/><circle cx="88.36" cy="457.41" r="0.9" fill="#f47f7f"/><circle cx="92.76" cy="439.27" r="0.9" fill="#f47f7f"/><circle cx="93.62" cy="445.65" r="0.9" fill="#f47f7f"/><circle cx="91.23" cy="447.76" r="0.9" fill="#f47f7f"/><circle cx="94.47" cy="458.29" r="0.9" fill="#f47f7f"/><circle cx="89.97" cy="452.07" r="0.9" fill="#f47f7f"/><circle cx="93.12" cy="467.84" r="0.9" fill="#f47f7f"/><circle cx="92.61" cy="470.72" r="0.9" fill="#f47f7f"/><circle cx="94.29" cy="449.42" r="0.9" fill="#f47f7f"/><circle cx="88.46" cy="448.72" r="0.9" fill="#f47f7f"/><circle cx="85.15" cy="472" r="0.9" fill="#f47f7f"/><circle cx="90.49" cy="428.23" r="0.9" fill="#f47f7f"/><circle cx="92.13" cy="446.62" r="0.9" fill="#f47f7f"/><circle cx="90.66" cy="434.38" r="0.9" fill="#f47f7f"/><circle cx="89.23" cy="471.14" r="0.9" fill="#f47f7f"/><circle cx="95.47" cy="462.92" r="0.9" fill="#f47f7f"/><circle cx="95.85" cy="462.35" r="0.9" fill="#f47f7f"/><circle cx="96.65" cy="470.02" r="0.9" fill="#f47f7f"/><circle cx="85.37" cy="464.5" r="0.9" fill="#f47f7f"/><circle cx="94.77" cy="471.93" r="0.9" fill="#f47f7f"/><circle cx="89.53" cy="463.41" r="0.9" fill="#f47f7f"/><circle cx="91.72" cy="470.11" r="0.9" fill="#f47f7f"/><circle cx="87.98" cy="471.9" r="0.9" fill="#f47f7f"/><circle cx="89.51" cy="439.41" r="0.9" fill="#f47f7f"/><circle cx="88.96" cy="471.39" r="0.9" fill="#f47f7f"/><circle cx="95.39" cy="454.43" r="0.9" fill="#f47f7f"/><circle cx="91.5" cy="471.58" r="0.9" fill="#f47f7f"/><circle cx="87.2" cy="471.82" r="0.9" fill="#f47f7f"/><circle cx="89.4" cy="471.98" r="0.9" fill="#f47f7f"/><circle cx="89.04" cy="471.94" r="0.9" fill="#f47f7f"/><circle cx="93.29" cy="443.1" r="0.9" fill="#f47f7f"/><circle cx="91.73" cy="450.76" r="0.9" fill="#f47f7f"/><circle cx="89.87" cy="472" r="0.9" fill="#f47f7f"/><circle cx="95.67" cy="459.12" r="0.9" fill="#f47f7f"/><circle cx="88.93" cy="431.73" r="0.9" fill="#f47f7f"/><circle cx="88.64" cy="471.92" r="0.9" fill="#f47f7f"/><circle cx="92.45" cy="471.57" r="0.9" fill="#f47f7f"/><circle cx="96.06" cy="470.49" r="0.9" fill="#f47f7f"/><circle cx="87.88" cy="447.66" r="0.9" fill="#f47f7f"/><circle cx="87.74" cy="468.97" r="0.9" fill="#f47f7f"/><circle cx="86.25" cy="463.75" r="0.9" fill="#f47f7f"/><circle cx="96.82" cy="469.74" r="0.9" fill="#f47f7f"/><circle cx="90.34" cy="471.73" r="0.9" fill="#f47f7f"/><circle cx="89.24" cy="467.77" r="0.9" fill="#f47f7f"/><circle cx="87.16" cy="468.07" r="0.9" fill="#f47f7f"/><circle cx="96.27" cy="469.07" r="0.9" fill="#f47f7f"/><circle cx="94.31" cy="471.89" r="0.9" fill="#f47f7f"/><circle cx="89.15" cy="469.91" r="0.9" fill="#f47f7f"/><circle cx="95.93" cy="471.45" r="0.9" fill="#f47f7f"/><circle cx="93.44" cy="471.19" r="0.9" fill="#f47f7f"/><circle cx="88.59" cy="472" r="0.9" fill="#f47f7f"/><circle cx="89.34" cy="436.16" r="0.9" fill="#f47f7f"/><circle cx="89.1" cy="468.03" r="0.9" fill="#f47f7f"/><circle cx="91.73" cy="459.87" r="0.9" fill="#f47f7f"/><circle cx="95" cy="455.98" r="0.9" fill="#f47f7f"/><circle cx="96.6" cy="472" r="0.9" fill="#f47f7f"/><circle cx="88.46" cy="469.64" r="0.9" fill="#f47f7f"/><circle cx="94.96" cy="470.94" r="0.9" fill="#f47f7f"/><circle cx="89.6" cy="455.76" r="0.9" fill="#f47f7f"/><circle cx="85.39" cy="471.54" r="0.9" fill="#f47f7f"/><circle cx="89.47" cy="461.14" r="0.9" fill="#f47f7f"/><circle cx="91.2" cy="472" r="0.9" fill="#f47f7f"/><circle cx="92.83" cy="469.46" r="0.9" fill="#f47f7f"/><circle cx="91.94" cy="429.45" r="0.9" fill="#f47f7f"/><circle cx="90.28" cy="471.98" r="0.9" fill="#f47f7f"/><circle cx="89.18" cy="467.48" r="0.9" fill="#f47f7f"/><circle cx="94.11" cy="471.52" r="0.9" fill="#f47f7f"/><circle cx="94.06" cy="471.99" r="0.9" fill="#f47f7f"/><circle cx="96.85" cy="471.01" r="0.9" fill="#f47f7f"/><circle cx="91.8" cy="431.87" r="0.9" fill="#f47f7f"/><circle cx="96.42" cy="469.61" r="0.9" fill="#f47f7f"/><circle cx="92.96" cy="470.92" r="0.9" fill="#f47f7f"/><circle cx="88.57" cy="438.15" r="0.9" fill="#f47f7f"/><circle cx="93.03" cy="471.68" r="0.9" fill="#f47f7f"/><circle cx="88.28" cy="467.61" r="0.9" fill="#f47f7f"/><circle cx="85.37" cy="462.22" r="0.9" fill="#f47f7f"/><circle cx="90.77" cy="470.99" r="0.9" fill="#f47f7f"/><circle cx="94.78" cy="471.63" r="0.9" fill="#f47f7f"/><circle cx="86.23" cy="471.98" r="0.9" fill="#f47f7f"/><circle cx="96.51" cy="470.93" r="0.9" fill="#f47f7f"/><circle cx="93.87" cy="471.51" r="0.9" fill="#f47f7f"/><circle cx="96.3" cy="464.43" r="0.9" fill="#f47f7f"/><circle cx="95.06" cy="457.91" r="0.9" fill="#f47f7f"/><circle cx="96.4" cy="471.2" r="0.9" fill="#f47f7f"/><circle cx="91.24" cy="469.25" r="0.9" fill="#f47f7f"/><circle cx="86.8" cy="465.27" r="0.9" fill="#f47f7f"/><circle cx="88.94" cy="453.74" r="0.9" fill="#f47f7f"/><circle cx="86.91" cy="448.97" r="0.9" fill="#f47f7f"/><circle cx="89.3" cy="456.07" r="0.9" fill="#f47f7f"/><circle cx="94.81" cy="449.4" r="0.9" fill="#f47f7f"/><circle cx="95.18" cy="471.99" r="0.9" fill="#f47f7f"/><circle cx="96.05" cy="459.44" r="0.9" fill="#f47f7f"/><circle cx="90.03" cy="453.42" r="0.9" fill="#f47f7f"/><circle cx="94.45" cy="472" r="0.9" fill="#f47f7f"/><circle cx="89.07" cy="444.87" r="0.9" fill="#f47f7f"/><circle cx="94.39" cy="471.59" r="0.9" fill="#f47f7f"/><circle cx="92.62" cy="470.73" r="0.9" fill="#f47f7f"/><circle cx="90.34" cy="448.05" r="0.9" fill="#f47f7f"/><circle cx="91.39" cy="466.22" r="0.9" fill="#f47f7f"/><circle cx="86.18" cy="468.67" r="0.9" fill="#f47f7f"/><circle cx="90.15" cy="471.95" r="0.9" fill="#f47f7f"/><circle cx="93.58" cy="468.31" r="0.9" fill="#f47f7f"/><circle cx="88.62" cy="453.13" r="0.9" fill="#f47f7f"/><circle cx="90.61" cy="432.13" r="0.9" fill="#f47f7f"/><circle cx="95.18" cy="449.2" r="0.9" fill="#f47f7f"/><circle cx="91.58" cy="431.02" r="0.9" fill="#f47f7f"/><circle cx="88.23" cy="467.74" r="0.9" fill="#f47f7f"/><circle cx="95.63" cy="471.68" r="0.9" fill="#f47f7f"/><circle cx="90.99" cy="465.02" r="0.9" fill="#f47f7f"/><circle cx="95.26" cy="471.53" r="0.9" fill="#f47f7f"/><circle cx="88.87" cy="430.43" r="0.9" fill="#f47f7f"/><circle cx="95.6" cy="462.56" r="0.9" fill="#f47f7f"/><circle cx="95.02" cy="447.6" r="0.9" fill="#f47f7f"/><circle cx="91.66" cy="471.85" r="0.9" fill="#f47f7f"/><circle cx="91.59" cy="440.57" r="0.9" fill="#f47f7f"/><circle cx="85.87" cy="470.8" r="0.9" fill="#f47f7f"/><circle cx="88.24" cy="462.32" r="0.9" fill="#f47f7f"/><circle cx="92.68" cy="472" r="0.9" fill="#f47f7f"/><circle cx="94.75" cy="471.8" r="0.9" fill="#f47f7f"/><circle cx="94.25" cy="472" r="0.9" fill="#f47f7f"/><circle cx="88.21" cy="467.91" r="0.9" fill="#f47f7f"/><circle cx="88.62" cy="430.43" r="0.9" fill="#f47f7f"/><circle cx="88" cy="458.4" r="0.9" fill="#f47f7f"/><circle cx="92.45" cy="450.57" r="0.9" fill="#f47f7f"/><circle cx="94.5" cy="459.22" r="0.9" fill="#f47f7f"/><circle cx="94.46" cy="471.99" r="0.9" fill="#f47f7f"/><circle cx="86.39" cy="464.28" r="0.9" fill="#f47f7f"/><circle cx="88.87" cy="471" r="0.9" fill="#f47f7f"/><circle cx="91.35" cy="456.89" r="0.9" fill="#f47f7f"/><circle cx="85.82" cy="459.79" r="0.9" fill="#f47f7f"/><circle cx="86.92" cy="458.72" r="0.9" fill="#f47f7f"/><circle cx="92.78" cy="462.91" r="0.9" fill="#f47f7f"/><circle cx="91.01" cy="441.02" r="0.9" fill="#f47f7f"/><circle cx="96.83" cy="465.73" r="0.9" fill="#f47f7f"/><circle cx="92.04" cy="469.84" r="0.9" fill="#f47f7f"/><circle cx="89.47" cy="440.64" r="0.9" fill="#f47f7f"/><circle cx="91.77" cy="469.9" r="0.9" fill="#f47f7f"/><circle cx="88.15" cy="465.37" r="0.9" fill="#f47f7f"/><circle cx="93.26" cy="442.05" r="0.9" fill="#f47f7f"/><circle cx="85.68" cy="471.35" r="0.9" fill="#f47f7f"/><circle cx="86.55" cy="471.86" r="0.9" fill="#f47f7f"/><circle cx="92.82" cy="471.63" r="0.9" fill="#f47f7f"/><circle cx="88.26" cy="447.74" r="0.9" fill="#f47f7f"/><circle cx="92.97" cy="469.32" r="0.9" fill="#f47f7f"/><circle cx="93.16" cy="440.06" r="0.9" fill="#f47f7f"/><circle cx="88.78" cy="463.17" r="0.9" fill="#f47f7f"/><circle cx="108.2" cy="472" r="0.9" fill="#f47f7f"/><circle cx="105.95" cy="463.66" r="0.9" fill="#f47f7f"/><circle cx="113.43" cy="464.05" r="0.9" fill="#f47f7f"/><circle cx="107.17" cy="456.73" r="0.9" fill="#f47f7f"/><circle cx="110.01" cy="448.45" r="0.9" fill="#f47f7f"/><circle cx="112.82" cy="447" r="0.9" fill="#f47f7f"/><circle cx="114.04" cy="471.62" r="0.9" fill="#f47f7f"/><circle cx="105.91" cy="468.08" r="0.9" fill="#f47f7f"/><circle cx="105.57" cy="471.89" r="0.9" fill="#f47f7f"/><circle cx="109.36" cy="463.1" r="0.9" fill="#f47f7f"/><circle cx="112.33" cy="456.24" r="0.9" fill="#f47f7f"/><circle cx="113.62" cy="457.77" r="0.9" fill="#f47f7f"/><circle cx="110.85" cy="462.66" r="0.9" fill="#f47f7f"/><circle cx="105.92" cy="471.97" r="0.9" fill="#f47f7f"/><circle cx="108.97" cy="470.19" r="0.9" fill="#f47f7f"/><circle cx="106.73" cy="455.77" r="0.9" fill="#f47f7f"/><circle cx="105.47" cy="466.03" r="0.9" fill="#f47f7f"/><circle cx="109.02" cy="463.94" r="0.9" fill="#f47f7f"/><circle cx="114.86" cy="467.56" r="0.9" fill="#f47f7f"/><circle cx="113.37" cy="471.99" r="0.9" fill="#f47f7f"/><circle cx="107.68" cy="471.15" r="0.9" fill="#f47f7f"/><circle cx="114.56" cy="470.48" r="0.9" fill="#f47f7f"/><circle cx="107.81" cy="470.07" r="0.9" fill="#f47f7f"/><circle cx="111.69" cy="458.78" r="0.9" fill="#f47f7f"/><circle cx="110.03" cy="471.15" r="0.9" fill="#f47f7f"/><circle cx="107.36" cy="466.84" r="0.9" fill="#f47f7f"/><circle cx="111.06" cy="471.58" r="0.9" fill="#f47f7f"/><circle cx="107.66" cy="471.36" r="0.9" fill="#f47f7f"/><circle cx="109.45" cy="432.03" r="0.9" fill="#f47f7f"/><circle cx="108.09" cy="438.25" r="0.9" fill="#f47f7f"/><circle cx="108.34" cy="450.53" r="0.9" fill="#f47f7f"/><circle cx="106.23" cy="470.39" r="0.9" fill="#f47f7f"/><circle cx="107.94" cy="468.54" r="0.9" fill="#f47f7f"/><circle cx="110.84" cy="472" r="0.9" fill="#f47f7f"/><circle cx="105.21" cy="468.91" r="0.9" fill="#f47f7f"/><circle cx="113.21" cy="471.29" r="0.9" fill="#f47f7f"/><circle cx="107.18" cy="467.2" r="0.9" fill="#f47f7f"/><circle cx="107.45" cy="453.16" r="0.9" fill="#f47f7f"/><circle cx="111.6" cy="441.77" r="0.9" fill="#f47f7f"/><circle cx="109.53" cy="472" r="0.9" fill="#f47f7f"/><circle cx="114.04" cy="469.52" r="0.9" fill="#f47f7f"/><circle cx="109.97" cy="440.35" r="0.9" fill="#f47f7f"/><circle cx="109.35" cy="454.82" r="0.9" fill="#f47f7f"/><circle cx="108.96" cy="452.96" r="0.9" fill="#f47f7f"/><circle cx="109.82" cy="430.78" r="0.9" fill="#f47f7f"/><circle cx="106.44" cy="471.36" r="0.9" fill="#f47f7f"/><circle cx="105.78" cy="460.53" r="0.9" fill="#f47f7f"/><circle cx="107.09" cy="468.56" r="0.9" fill="#f47f7f"/><circle cx="110.1" cy="442.3" r="0.9" fill="#f47f7f"/><circle cx="114.75" cy="472" r="0.9" fill="#f47f7f"/><circle cx="106.25" cy="463.86" r="0.9" fill="#f47f7f"/><circle cx="110.05" cy="439.82" r="0.9" fill="#f47f7f"/><circle cx="106.31" cy="471.81" r="0.9" fill="#f47f7f"/><circle cx="108.25" cy="454.99" r="0.9" fill="#f47f7f"/><circle cx="110.84" cy="471.9" r="0.9" fill="#f47f7f"/><circle cx="105.45" cy="458.46" r="0.9" fill="#f47f7f"/><circle cx="106.94" cy="461.75" r="0.9" fill="#f47f7f"/><circle cx="114.97" cy="468.05" r="0.9" fill="#f47f7f"/><circle cx="111.47" cy="471.56" r="0.9" fill="#f47f7f"/><circle cx="111.17" cy="465.97" r="0.9" fill="#f47f7f"/><circle cx="111" cy="467.96" r="0.9" fill="#f47f7f"/><circle cx="107.04" cy="453.72" r="0.9" fill="#f47f7f"/><circle cx="110.91" cy="463.34" r="0.9" fill="#f47f7f"/><circle cx="107.13" cy="467.41" r="0.9" fill="#f47f7f"/><circle cx="106.53" cy="470.6" r="0.9" fill="#f47f7f"/><circle cx="114.67" cy="468.74" r="0.9" fill="#f47f7f"/><circle cx="109.18" cy="470.25" r="0.9" fill="#f47f7f"/><circle cx="113.86" cy="437.86" r="0.9" fill="#f47f7f"/><circle cx="110.57" cy="471.09" r="0.9" fill="#f47f7f"/><circle cx="109.31" cy="471.99" r="0.9" fill="#f47f7f"/><circle cx="110.53" cy="466.53" r="0.9" fill="#f47f7f"/><circle cx="114" cy="471.12" r="0.9" fill="#f47f7f"/><circle cx="107.76" cy="471.93" r="0.9" fill="#f47f7f"/><circle cx="107.59" cy="465.21" r="0.9" fill="#f47f7f"/><circle cx="106.79" cy="471.99" r="0.9" fill="#f47f7f"/><circle cx="111.47" cy="471.92" r="0.9" fill="#f47f7f"/><circle cx="113.5" cy="471.32" r="0.9" fill="#f47f7f"/><circle cx="112.9" cy="471.42" r="0.9" fill="#f47f7f"/><circle cx="111.43" cy="469.96" r="0.9" fill="#f47f7f"/><circle cx="112.08" cy="471.41" r="0.9" fill="#f47f7f"/><circle cx="106.74" cy="442.31" r="0.9" fill="#f47f7f"/><circle cx="112.59" cy="472" r="0.9" fill="#f47f7f"/><circle cx="109.87" cy="472" r="0.9" fill="#f47f7f"/><circle cx="111.02" cy="467.59" r="0.9" fill="#f47f7f"/><circle cx="109.26" cy="464.29" r="0.9" fill="#f47f7f"/><circle cx="111.25" cy="463.3" r="0.9" fill="#f47f7f"/><circle cx="107.43" cy="436.48" r="0.9" fill="#f47f7f"/><circle cx="105.23" cy="459.54" r="0.9" fill="#f47f7f"/><circle cx="114.48" cy="468.49" r="0.9" fill="#f47f7f"/><circle cx="107.97" cy="457.26" r="0.9" fill="#f47f7f"/><circle cx="108.53" cy="447.63" r="0.9" fill="#f47f7f"/><circle cx="104.62" cy="471.45" r="0.9" fill="#f47f7f"/><circle cx="108.73" cy="454.68" r="0.9" fill="#f47f7f"/><circle cx="106.05" cy="468.36" r="0.9" fill="#f47f7f"/><circle cx="111.32" cy="471.41" r="0.9" fill="#f47f7f"/><circle cx="105.11" cy="471.98" r="0.9" fill="#f47f7f"/><circle cx="113.08" cy="469.28" r="0.9" fill="#f47f7f"/><circle cx="107.75" cy="471.84" r="0.9" fill="#f47f7f"/><circle cx="107.86" cy="459.36" r="0.9" fill="#f47f7f"/><circle cx="107.37" cy="440.71" r="0.9" fill="#f47f7f"/><circle cx="110.37" cy="467.61" r="0.9" fill="#f47f7f"/><circle cx="112.08" cy="465.61" r="0.9" fill="#f47f7f"/><circle cx="109.65" cy="452.7" r="0.9" fill="#f47f7f"/><circle cx="106.89" cy="471.97" r="0.9" fill="#f47f7f"/><circle cx="108.44" cy="443.11" r="0.9" fill="#f47f7f"/><circle cx="110.72" cy="461.9" r="0.9" fill="#f47f7f"/><circle cx="105.43" cy="453.81" r="0.9" fill="#f47f7f"/><circle cx="112.49" cy="462.33" r="0.9" fill="#f47f7f"/><circle cx="111.87" cy="472" r="0.9" fill="#f47f7f"/><circle cx="111.13" cy="462.11" r="0.9" fill="#f47f7f"/><circle cx="105.26" cy="469.61" r="0.9" fill="#f47f7f"/><circle cx="111.96" cy="471.99" r="0.9" fill="#f47f7f"/><circle cx="107.06" cy="445.13" r="0.9" fill="#f47f7f"/><circle cx="113.75" cy="471.83" r="0.9" fill="#f47f7f"/><circle cx="106.62" cy="442.41" r="0.9" fill="#f47f7f"/><circle cx="104.83" cy="469.46" r="0.9" fill="#f47f7f"/><circle cx="105.42" cy="465.24" r="0.9" fill="#f47f7f"/><circle cx="114.88" cy="467.08" r="0.9" fill="#f47f7f"/><circle cx="109.54" cy="468.35" r="0.9" fill="#f47f7f"/><circle cx="105.14" cy="471.96" r="0.9" fill="#f47f7f"/><circle cx="109.69" cy="431.69" r="0.9" fill="#f47f7f"/><circle cx="114.86" cy="471.35" r="0.9" fill="#f47f7f"/><circle cx="107.92" cy="469.22" r="0.9" fill="#f47f7f"/><circle cx="108.72" cy="440.03" r="0.9" fill="#f47f7f"/><circle cx="109.34" cy="439.98" r="0.9" fill="#f47f7f"/><circle cx="105.06" cy="466.53" r="0.9" fill="#f47f7f"/><circle cx="108.52" cy="437.66" r="0.9" fill="#f47f7f"/><circle cx="111.15" cy="440.1" r="0.9" fill="#f47f7f"/><circle cx="111.46" cy="471.25" r="0.9" fill="#f47f7f"/><circle cx="112.87" cy="468.24" r="0.9" fill="#f47f7f"/><circle cx="109.05" cy="471.93" r="0.9" fill="#f47f7f"/><circle cx="109.53" cy="456.72" r="0.9" fill="#f47f7f"/><circle cx="105.18" cy="471.93" r="0.9" fill="#f47f7f"/><circle cx="114.25" cy="468.82" r="0.9" fill="#f47f7f"/><circle cx="111.11" cy="471.87" r="0.9" fill="#f47f7f"/><circle cx="106.99" cy="464.64" r="0.9" fill="#f47f7f"/><circle cx="111.14" cy="472" r="0.9" fill="#f47f7f"/><circle cx="107.39" cy="454.24" r="0.9" fill="#f47f7f"/><circle cx="109.87" cy="461.98" r="0.9" fill="#f47f7f"/><circle cx="107.69" cy="439.9" r="0.9" fill="#f47f7f"/><circle cx="107.56" cy="444.41" r="0.9" fill="#f47f7f"/><circle cx="111.15" cy="469.49" r="0.9" fill="#f47f7f"/><circle cx="113.01" cy="461.15" r="0.9" fill="#f47f7f"/><circle cx="111.62" cy="472" r="0.9" fill="#f47f7f"/><circle cx="110.45" cy="446.74" r="0.9" fill="#f47f7f"/><circle cx="110.09" cy="448.17" r="0.9" fill="#f47f7f"/><circle cx="108.19" cy="456.53" r="0.9" fill="#f47f7f"/><circle cx="111.06" cy="463.16" r="0.9" fill="#f47f7f"/><circle cx="109.68" cy="467.59" r="0.9" fill="#f47f7f"/><circle cx="109.05" cy="453.69" r="0.9" fill="#f47f7f"/><circle cx="105.48" cy="466.32" r="0.9" fill="#f47f7f"/><circle cx="114.11" cy="471.75" r="0.9" fill="#f47f7f"/><circle cx="113.02" cy="471.57" r="0.9" fill="#f47f7f"/><circle cx="111.39" cy="470.02" r="0.9" fill="#f47f7f"/><circle cx="108.81" cy="471.33" r="0.9" fill="#f47f7f"/><circle cx="112.46" cy="464.59" r="0.9" fill="#f47f7f"/><circle cx="109.32" cy="469.08" r="0.9" fill="#f47f7f"/><circle cx="113.62" cy="470.21" r="0.9" fill="#f47f7f"/><circle cx="111.05" cy="468.86" r="0.9" fill="#f47f7f"/><circle cx="111.19" cy="471.43" r="0.9" fill="#f47f7f"/><circle cx="109.5" cy="472" r="0.9" fill="#f47f7f"/><circle cx="107.41" cy="471.97" r="0.9" fill="#f47f7f"/><circle cx="107.34" cy="451.19" r="0.9" fill="#f47f7f"/><circle cx="113.62" cy="472" r="0.9" fill="#f47f7f"/><circle cx="112.74" cy="462.74" r="0.9" fill="#f47f7f"/><circle cx="111.63" cy="457.58" r="0.9" fill="#f47f7f"/><circle cx="114.93" cy="472" r="0.9" fill="#f47f7f"/><circle cx="106.78" cy="471.75" r="0.9" fill="#f47f7f"/><circle cx="105.17" cy="471.97" r="0.9" fill="#f47f7f"/><circle cx="107.35" cy="471.67" r="0.9" fill="#f47f7f"/><circle cx="111.89" cy="471.11" r="0.9" fill="#f47f7f"/><circle cx="114.35" cy="471.87" r="0.9" fill="#f47f7f"/><circle cx="106.96" cy="459.24" r="0.9" fill="#f47f7f"/><circle cx="104.84" cy="468.71" r="0.9" fill="#f47f7f"/><circle cx="113.32" cy="468.6" r="0.9" fill="#f47f7f"/><circle cx="111.98" cy="446.05" r="0.9" fill="#f47f7f"/><circle cx="112.18" cy="445.03" r="0.9" fill="#f47f7f"/><circle cx="113.11" cy="469.46" r="0.9" fill="#f47f7f"/><circle cx="110.72" cy="443.82" r="0.9" fill="#f47f7f"/><circle cx="106.21" cy="471.79" r="0.9" fill="#f47f7f"/><circle cx="110.43" cy="459.66" r="0.9" fill="#f47f7f"/><circle cx="111.86" cy="466.38" r="0.9" fill="#f47f7f"/><circle cx="111.79" cy="471.98" r="0.9" fill="#f47f7f"/><circle cx="104.65" cy="471.92" r="0.9" fill="#f47f7f"/><circle cx="105.27" cy="471.91" r="0.9" fill="#f47f7f"/><circle cx="110.73" cy="472" r="0.9" fill="#f47f7f"/><circle cx="109.11" cy="448.5" r="0.9" fill="#f47f7f"/><circle cx="104.64" cy="471.99" r="0.9" fill="#f47f7f"/><circle cx="113.56" cy="472" r="0.9" fill="#f47f7f"/><circle cx="112.18" cy="468.05" r="0.9" fill="#f47f7f"/><circle cx="111.3" cy="439.98" r="0.9" fill="#f47f7f"/><circle cx="107.42" cy="471.85" r="0.9" fill="#f47f7f"/><circle cx="106.61" cy="449.5" r="0.9" fill="#f47f7f"/><circle cx="107.5" cy="450.04" r="0.9" fill="#f47f7f"/><circle cx="112.75" cy="471.67" r="0.9" fill="#f47f7f"/><circle cx="111.95" cy="471.98" r="0.9" fill="#f47f7f"/><circle cx="113.72" cy="470.9" r="0.9" fill="#f47f7f"/><circle cx="111.14" cy="471.01" r="0.9" fill="#f47f7f"/><circle cx="108.74" cy="466.85" r="0.9" fill="#f47f7f"/><circle cx="110" cy="440.28" r="0.9" fill="#f47f7f"/><circle cx="107.5" cy="467.03" r="0.9" fill="#f47f7f"/><circle cx="107.48" cy="471.9" r="0.9" fill="#f47f7f"/><circle cx="111.42" cy="471.99" r="0.9" fill="#f47f7f"/><circle cx="106.55" cy="471.2" r="0.9" fill="#f47f7f"/><circle cx="107.12" cy="438.57" r="0.9" fill="#f47f7f"/><circle cx="111.08" cy="470.6" r="0.9" fill="#f47f7f"/><circle cx="108.97" cy="470.64" r="0.9" fill="#f47f7f"/><circle cx="110.13" cy="468.46" r="0.9" fill="#f47f7f"/><circle cx="112.14" cy="470.81" r="0.9" fill="#f47f7f"/><circle cx="106.81" cy="444.93" r="0.9" fill="#f47f7f"/><circle cx="39.1" cy="335.7" r="0.75" fill="#f47f7f"/><circle cx="82.8" cy="340" r="0.75" fill="#f47f7f"/><circle cx="69.9" cy="351.7" r="0.75" fill="#f47f7f"/><circle cx="84.1" cy="354.2" r="0.75" fill="#f47f7f"/><circle cx="73.8" cy="367.1" r="0.75" fill="#f47f7f"/><circle cx="81" cy="373" r="0.75" fill="#f47f7f"/><circle cx="85.6" cy="380.7" r="0.75" fill="#f47f7f"/><circle cx="84.9" cy="384" r="0.75" fill="#f47f7f"/><circle cx="84.3" cy="386.6" r="0.75" fill="#f47f7f"/><circle cx="82.6" cy="340" r="0.75" fill="#f47f7f"/><circle cx="69.6" cy="351.6" r="0.75" fill="#f47f7f"/><circle cx="84" cy="354" r="0.75" fill="#f47f7f"/><circle cx="73.6" cy="367" r="0.75" fill="#f47f7f"/><circle cx="81" cy="373" r="0.75" fill="#f47f7f"/><circle cx="86" cy="381" r="0.75" fill="#f47f7f"/><circle cx="85" cy="384.4" r="0.75" fill="#f47f7f"/><circle cx="84.4" cy="387.6" r="0.75" fill="#f47f7f"/><circle cx="88.4" cy="407.6" r="0.75" fill="#f47f7f"/><circle cx="79.4" cy="415.6" r="0.75" fill="#f47f7f"/><circle cx="90" cy="415.6" r="0.75" fill="#f47f7f"/><circle cx="88" cy="418" r="0.75" fill="#f47f7f"/><circle cx="86.6" cy="419.6" r="0.75" fill="#f47f7f"/><circle cx="84" cy="425.6" r="0.75" fill="#f47f7f"/><circle cx="91" cy="425" r="0.75" fill="#f47f7f"/><circle cx="86" cy="429" r="0.75" fill="#f47f7f"/><circle cx="90" cy="432" r="0.75" fill="#f47f7f"/><circle cx="92" cy="434" r="0.75" fill="#f47f7f"/><circle cx="88" cy="435" r="0.75" fill="#f47f7f"/><circle cx="84" cy="439" r="0.75" fill="#f47f7f"/><circle cx="81" cy="446" r="0.75" fill="#f47f7f"/><circle cx="71" cy="443.6" r="0.75" fill="#f47f7f"/><circle cx="112" cy="414" r="0.75" fill="#f47f7f"/><circle cx="113" cy="417" r="0.75" fill="#f47f7f"/><circle cx="111" cy="423" r="0.75" fill="#f47f7f"/><circle cx="114" cy="430" r="0.75" fill="#f47f7f"/><circle cx="111" cy="431.6" r="0.75" fill="#f47f7f"/><circle cx="112" cy="435" r="0.75" fill="#f47f7f"/><circle cx="114.4" cy="439.6" r="0.75" fill="#f47f7f"/><circle cx="111.5" cy="423" r="0.75" fill="#f47f7f"/><circle cx="114.6" cy="430.3" r="0.75" fill="#f47f7f"/><circle cx="110.7" cy="432.3" r="0.75" fill="#f47f7f"/><circle cx="113.8" cy="439.3" r="0.75" fill="#f47f7f"/><circle cx="88.4" cy="408" r="0.75" fill="#f47f7f"/><circle cx="79" cy="415" r="0.75" fill="#f47f7f"/><circle cx="90.6" cy="415" r="0.75" fill="#f47f7f"/><circle cx="86.6" cy="419.4" r="0.75" fill="#f47f7f"/><circle cx="89.2" cy="418.6" r="0.75" fill="#f47f7f"/><circle cx="83.6" cy="426" r="0.75" fill="#f47f7f"/><circle cx="90.6" cy="425" r="0.75" fill="#f47f7f"/><circle cx="85" cy="429" r="0.75" fill="#f47f7f"/><circle cx="56" cy="440.6" r="0.75" fill="#f47f7f"/><circle cx="80" cy="446.6" r="0.75" fill="#f47f7f"/><circle cx="84" cy="438" r="0.75" fill="#f47f7f"/><circle cx="79" cy="453" r="0.75" fill="#f47f7f"/><circle cx="81" cy="457" r="0.75" fill="#f47f7f"/><circle cx="71" cy="462" r="0.75" fill="#f47f7f"/><circle cx="73" cy="466.4" r="0.75" fill="#f47f7f"/><circle cx="68" cy="469.4" r="0.75" fill="#f47f7f"/><circle cx="60" cy="469.4" r="0.75" fill="#f47f7f"/><circle cx="80" cy="465" r="0.75" fill="#f47f7f"/><circle cx="72.6" cy="461.7" r="0.75" fill="#f47f7f"/><circle cx="73" cy="466.9" r="0.75" fill="#f47f7f"/><circle cx="80.3" cy="465" r="0.75" fill="#f47f7f"/><circle cx="79.4" cy="454" r="0.75" fill="#f47f7f"/><circle cx="80.6" cy="446.6" r="0.75" fill="#f47f7f"/><circle cx="86.3" cy="436" r="0.75" fill="#f47f7f"/><circle cx="84.6" cy="454.9" r="0.75" fill="#f47f7f"/><circle cx="116.6" cy="463.4" r="0.75" fill="#f47f7f"/><circle cx="123" cy="463.4" r="0.75" fill="#f47f7f"/><circle cx="126.6" cy="461.7" r="0.75" fill="#f47f7f"/><circle cx="116.4" cy="464" r="0.75" fill="#f47f7f"/><circle cx="131" cy="463.4" r="0.75" fill="#f47f7f"/><circle cx="139" cy="462" r="0.75" fill="#f47f7f"/><circle cx="141.6" cy="463" r="0.75" fill="#f47f7f"/><circle cx="135" cy="469" r="0.75" fill="#f47f7f"/><circle cx="139" cy="469.4" r="0.75" fill="#f47f7f"/><circle cx="148" cy="468.6" r="0.75" fill="#f47f7f"/><circle cx="70.7" cy="443.9" r="0.75" fill="#f47f7f"/><circle cx="84" cy="425.7" r="0.75" fill="#f47f7f"/><line x1="97.79" y1="322.3" x2="97.79" y2="480" stroke="#5a5a5a" stroke-width="0.85" stroke-dasharray="2.6 1.3"/><line x1="104.21" y1="322.3" x2="104.21" y2="480" stroke="#262626" stroke-width="0.85" stroke-dasharray="2.6 1.3"/><line x1="30.9" y1="472.5" x2="171" y2="472.5" stroke="#444" stroke-width="0.8" stroke-dasharray="2.6 1.3"/><line x1="30.9" y1="322.3" x2="30.9" y2="480" stroke="#3a3a3a" stroke-width="1.2" /><line x1="30.9" y1="480" x2="171" y2="480" stroke="#3a3a3a" stroke-width="1.2" /><line x1="36.8" y1="480" x2="36.8" y2="482" stroke="#333" stroke-width="0.7" /><text x="36.1" y="492.1" font-size="7.3" font-family='"Liberation Sans", sans-serif' text-anchor="middle" fill="#4d4d4d" >&#8211; 20</text><line x1="68.9" y1="480" x2="68.9" y2="482" stroke="#333" stroke-width="0.7" /><text x="68.2" y="492.1" font-size="7.3" font-family='"Liberation Sans", sans-serif' text-anchor="middle" fill="#4d4d4d" >&#8211; 10</text><line x1="101" y1="480" x2="101" y2="482" stroke="#333" stroke-width="0.7" /><text x="101" y="492.1" font-size="7.3" font-family='"Liberation Sans", sans-serif' text-anchor="middle" fill="#4d4d4d" >0</text><line x1="133.1" y1="480" x2="133.1" y2="482" stroke="#333" stroke-width="0.7" /><text x="133.1" y="492.1" font-size="7.3" font-family='"Liberation Sans", sans-serif' text-anchor="middle" fill="#4d4d4d" >10</text><line x1="165.2" y1="480" x2="165.2" y2="482" stroke="#333" stroke-width="0.7" /><text x="165.2" y="492.1" font-size="7.3" font-family='"Liberation Sans", sans-serif' text-anchor="middle" fill="#4d4d4d" >20</text><line x1="28.9" y1="473.8" x2="30.9" y2="473.8" stroke="#333" stroke-width="0.7" /><text x="27" y="477.2" font-size="7.5" font-family='"Liberation Sans", sans-serif' text-anchor="end" fill="#4d4d4d" >0</text><line x1="28.9" y1="443.72" x2="30.9" y2="443.72" stroke="#333" stroke-width="0.7" /><text x="27" y="447.12" font-size="7.5" font-family='"Liberation Sans", sans-serif' text-anchor="end" fill="#4d4d4d" >50</text><line x1="28.9" y1="413.64" x2="30.9" y2="413.64" stroke="#333" stroke-width="0.7" /><text x="27" y="417.04" font-size="7.5" font-family='"Liberation Sans", sans-serif' text-anchor="end" fill="#4d4d4d" >100</text><line x1="28.9" y1="383.56" x2="30.9" y2="383.56" stroke="#333" stroke-width="0.7" /><text x="27" y="386.96" font-size="7.5" font-family='"Liberation Sans", sans-serif' text-anchor="end" fill="#4d4d4d" >150</text><line x1="28.9" y1="353.48" x2="30.9" y2="353.48" stroke="#333" stroke-width="0.7" /><text x="27" y="356.88" font-size="7.5" font-family='"Liberation Sans", sans-serif' text-anchor="end" fill="#4d4d4d" >200</text><line x1="28.9" y1="323.4" x2="30.9" y2="323.4" stroke="#333" stroke-width="0.7" /><text x="27" y="326.8" font-size="7.5" font-family='"Liberation Sans", sans-serif' text-anchor="end" fill="#4d4d4d" >250</text><text x="74.6" y="501.3" font-size="7.3" font-family='"Liberation Sans", sans-serif' text-anchor="start" fill="#222" >Log<tspan font-size="5" dy="1.5">2</tspan><tspan dy="-1.5"> fold change</tspan></text><text transform="translate(9.9,400) rotate(-90)" font-size="7.6" font-family='"Liberation Sans", sans-serif' text-anchor="middle" fill="#222">&#8211; Log<tspan font-size="5.4" dy="1.3">10</tspan><tspan dy="-1.3"> </tspan><tspan font-style="italic">P</tspan></text><text x="171" y="514.5" font-size="5.8" font-family='"Liberation Sans", sans-serif' text-anchor="end" fill="#222" >total = 48868 variables</text><text x="191.4" y="7.2" font-size="7.3" font-family='"Liberation Sans", sans-serif' text-anchor="start" fill="#000" >(b)</text><text x="242.6" y="15.5" font-size="7.7" font-family='"Liberation Serif", serif' text-anchor="start" fill="#000" >A549</text><path d="M223.2 48.1V29.4H274.4V45.6 M211.8 55.4V48.1H234.7V55.4 M257.4 55.4V45.6H291V47.4 M279.4 55.4V47.4H302.6V55.4" stroke="#555" stroke-width="0.65" fill="none"/><rect x="200.2" y="55.4" width="45.5" height="5.9" fill="#16c8cc"/><rect x="245.7" y="55.4" width="68" height="5.9" fill="#f88a80"/><rect x="200.2" y="63" width="22.7" height="2.05" fill="rgb(255,86,86)"/><rect x="200.2" y="65" width="22.7" height="1.05" fill="rgb(255,82,82)"/><rect x="200.2" y="66" width="22.7" height="3.05" fill="rgb(255,104,104)"/><rect x="200.2" y="69" width="22.7" height="1.55" fill="rgb(255,103,103)"/><rect x="200.2" y="70.5" width="22.7" height="1.55" fill="rgb(255,97,97)"/><rect x="200.2" y="72" width="22.7" height="2.05" fill="rgb(255,79,79)"/><rect x="200.2" y="74" width="22.7" height="3.05" fill="rgb(255,85,85)"/><rect x="200.2" y="77" width="22.7" height="1.05" fill="rgb(255,83,83)"/><rect x="200.2" y="78" width="22.7" height="2.05" fill="rgb(255,46,46)"/><rect x="200.2" y="80" width="22.7" height="2.05" fill="rgb(255,57,57)"/><rect x="200.2" y="82" width="22.7" height="3.05" fill="rgb(255,55,55)"/><rect x="200.2" y="85" width="22.7" height="2.05" fill="rgb(255,44,44)"/><rect x="200.2" y="87" width="22.7" height="1.55" fill="rgb(255,81,81)"/><rect x="200.2" y="88.5" width="22.7" height="1.55" fill="rgb(255,90,90)"/><rect x="200.2" y="90" width="22.7" height="2.55" fill="rgb(255,84,84)"/><rect x="200.2" y="92.5" width="22.7" height="3.55" fill="rgb(255,88,88)"/><rect x="200.2" y="96" width="22.7" height="3.05" fill="rgb(255,151,151)"/><rect x="200.2" y="99" width="22.7" height="2.05" fill="rgb(255,161,161)"/><rect x="200.2" y="101" width="22.7" height="2.05" fill="rgb(255,210,210)"/><rect x="200.2" y="103" width="22.7" height="2.05" fill="rgb(255,195,195)"/><rect x="200.2" y="105" width="22.7" height="1.55" fill="rgb(204,79,113)"/><rect x="200.2" y="106.5" width="22.7" height="3.05" fill="rgb(90,90,255)"/><rect x="200.2" y="109.5" width="22.7" height="2.55" fill="rgb(83,83,255)"/><rect x="200.2" y="112" width="22.7" height="2.05" fill="rgb(86,86,255)"/><rect x="200.2" y="114" width="22.7" height="3.05" fill="rgb(86,86,255)"/><rect x="200.2" y="117" width="22.7" height="3.05" fill="rgb(88,88,255)"/><rect x="200.2" y="120" width="22.7" height="1.55" fill="rgb(74,74,255)"/><rect x="200.2" y="121.5" width="22.7" height="2.05" fill="rgb(71,71,255)"/><rect x="200.2" y="123.5" width="22.7" height="2.55" fill="rgb(76,76,255)"/><rect x="200.2" y="126" width="22.7" height="1.55" fill="rgb(139,139,255)"/><rect x="200.2" y="127.5" width="22.7" height="2.55" fill="rgb(138,138,255)"/><rect x="200.2" y="130" width="22.7" height="2.55" fill="rgb(64,64,255)"/><rect x="200.2" y="132.5" width="22.7" height="1.55" fill="rgb(67,67,255)"/><rect x="200.2" y="134" width="22.7" height="3.05" fill="rgb(60,60,255)"/><rect x="200.2" y="137" width="22.7" height="2.05" fill="rgb(83,83,255)"/><rect x="200.2" y="139" width="22.7" height="2.05" fill="rgb(59,59,255)"/><rect x="200.2" y="141" width="22.7" height="3.05" fill="rgb(72,72,255)"/><rect x="200.2" y="144" width="22.7" height="1.55" fill="rgb(59,59,255)"/><rect x="200.2" y="145.5" width="22.7" height="1.55" fill="rgb(65,65,255)"/><rect x="200.2" y="147" width="22.7" height="1.05" fill="rgb(68,68,255)"/><rect x="200.2" y="148" width="22.7" height="2.55" fill="rgb(102,102,255)"/><rect x="200.2" y="150.5" width="22.7" height="1.55" fill="rgb(98,98,255)"/><rect x="200.2" y="152" width="22.7" height="1.55" fill="rgb(94,94,255)"/><rect x="200.2" y="153.5" width="22.7" height="1.55" fill="rgb(110,110,255)"/><rect x="200.2" y="155" width="22.7" height="3.05" fill="rgb(81,81,255)"/><rect x="200.2" y="158" width="22.7" height="3.05" fill="rgb(78,78,255)"/><rect x="200.2" y="161" width="22.7" height="1.55" fill="rgb(93,93,255)"/><rect x="200.2" y="162.5" width="22.7" height="2.55" fill="rgb(81,81,255)"/><rect x="200.2" y="165" width="22.7" height="2.05" fill="rgb(92,92,255)"/><rect x="200.2" y="167" width="22.7" height="3.05" fill="rgb(82,82,255)"/><rect x="200.2" y="170" width="22.7" height="3.05" fill="rgb(87,87,255)"/><rect x="200.2" y="173" width="22.7" height="2.05" fill="rgb(87,87,255)"/><rect x="200.2" y="175" width="22.7" height="2.55" fill="rgb(100,100,255)"/><rect x="200.2" y="177.5" width="22.7" height="2.05" fill="rgb(109,109,255)"/><rect x="200.2" y="179.5" width="22.7" height="1.55" fill="rgb(110,110,255)"/><rect x="200.2" y="181" width="22.7" height="2.55" fill="rgb(85,85,255)"/><rect x="200.2" y="183.5" width="22.7" height="1.55" fill="rgb(90,90,255)"/><rect x="200.2" y="185" width="22.7" height="2.05" fill="rgb(76,76,255)"/><rect x="200.2" y="187" width="22.7" height="2.05" fill="rgb(94,94,255)"/><rect x="200.2" y="189" width="22.7" height="2.55" fill="rgb(101,101,255)"/><rect x="200.2" y="191.5" width="22.7" height="2.55" fill="rgb(103,103,255)"/><rect x="200.2" y="194" width="22.7" height="2.55" fill="rgb(106,106,255)"/><rect x="200.2" y="196.5" width="22.7" height="1.55" fill="rgb(103,103,255)"/><rect x="200.2" y="198" width="22.7" height="1.05" fill="rgb(110,110,255)"/><rect x="200.2" y="199" width="22.7" height="2.55" fill="rgb(87,87,255)"/><rect x="200.2" y="201.5" width="22.7" height="2.55" fill="rgb(86,86,255)"/><rect x="200.2" y="204" width="22.7" height="2.55" fill="rgb(79,79,255)"/><rect x="200.2" y="206.5" width="22.7" height="2.05" fill="rgb(81,81,255)"/><rect x="200.2" y="208.5" width="22.7" height="1.55" fill="rgb(91,91,255)"/><rect x="222.9" y="63" width="22.7" height="2.55" fill="rgb(255,81,81)"/><rect x="222.9" y="65.5" width="22.7" height="3.05" fill="rgb(255,77,77)"/><rect x="222.9" y="68.5" width="22.7" height="1.55" fill="rgb(255,93,93)"/><rect x="222.9" y="70" width="22.7" height="1.05" fill="rgb(255,81,81)"/><rect x="222.9" y="71" width="22.7" height="2.05" fill="rgb(255,138,138)"/><rect x="222.9" y="73" width="22.7" height="2.55" fill="rgb(255,131,131)"/><rect x="222.9" y="75.5" width="22.7" height="2.05" fill="rgb(255,139,139)"/><rect x="222.9" y="77.5" width="22.7" height="1.55" fill="rgb(255,128,128)"/><rect x="222.9" y="79" width="22.7" height="1.05" fill="rgb(255,144,144)"/><rect x="222.9" y="80" width="22.7" height="2.05" fill="rgb(255,117,117)"/><rect x="222.9" y="82" width="22.7" height="2.05" fill="rgb(255,111,111)"/><rect x="222.9" y="84" width="22.7" height="2.05" fill="rgb(255,125,125)"/><rect x="222.9" y="86" width="22.7" height="1.05" fill="rgb(255,114,114)"/><rect x="222.9" y="87" width="22.7" height="1.55" fill="rgb(255,127,127)"/><rect x="222.9" y="88.5" width="22.7" height="2.05" fill="rgb(255,132,132)"/><rect x="222.9" y="90.5" width="22.7" height="2.05" fill="rgb(255,142,142)"/><rect x="222.9" y="92.5" width="22.7" height="2.55" fill="rgb(255,141,141)"/><rect x="222.9" y="95" width="22.7" height="2.05" fill="rgb(255,141,141)"/><rect x="222.9" y="97" width="22.7" height="2.55" fill="rgb(255,35,35)"/><rect x="222.9" y="99.5" width="22.7" height="3.05" fill="rgb(255,30,30)"/><rect x="222.9" y="102.5" width="22.7" height="2.55" fill="rgb(255,33,33)"/><rect x="222.9" y="105" width="22.7" height="1.55" fill="rgb(238,234,234)"/><rect x="222.9" y="106.5" width="22.7" height="3.05" fill="rgb(110,110,255)"/><rect x="222.9" y="109.5" width="22.7" height="3.05" fill="rgb(112,112,255)"/><rect x="222.9" y="112.5" width="22.7" height="1.55" fill="rgb(118,118,255)"/><rect x="222.9" y="114" width="22.7" height="3.05" fill="rgb(120,120,255)"/><rect x="222.9" y="117" width="22.7" height="2.05" fill="rgb(110,110,255)"/><rect x="222.9" y="119" width="22.7" height="3.05" fill="rgb(125,125,255)"/><rect x="222.9" y="122" width="22.7" height="2.55" fill="rgb(85,85,255)"/><rect x="222.9" y="124.5" width="22.7" height="1.55" fill="rgb(91,91,255)"/><rect x="222.9" y="126" width="22.7" height="2.55" fill="rgb(61,61,255)"/><rect x="222.9" y="128.5" width="22.7" height="1.55" fill="rgb(59,59,255)"/><rect x="222.9" y="130" width="22.7" height="2.05" fill="rgb(160,160,255)"/><rect x="222.9" y="132" width="22.7" height="3.05" fill="rgb(154,154,255)"/><rect x="222.9" y="135" width="22.7" height="2.05" fill="rgb(152,152,255)"/><rect x="222.9" y="137" width="22.7" height="1.05" fill="rgb(96,96,255)"/><rect x="222.9" y="138" width="22.7" height="1.05" fill="rgb(233,233,255)"/><rect x="222.9" y="139" width="22.7" height="1.55" fill="rgb(136,136,255)"/><rect x="222.9" y="140.5" width="22.7" height="3.05" fill="rgb(127,127,255)"/><rect x="222.9" y="143.5" width="22.7" height="1.55" fill="rgb(133,133,255)"/><rect x="222.9" y="145" width="22.7" height="2.55" fill="rgb(144,144,255)"/><rect x="222.9" y="147.5" width="22.7" height="1.55" fill="rgb(141,141,255)"/><rect x="222.9" y="149" width="22.7" height="1.55" fill="rgb(116,116,255)"/><rect x="222.9" y="150.5" width="22.7" height="2.05" fill="rgb(112,112,255)"/><rect x="222.9" y="152.5" width="22.7" height="1.55" fill="rgb(113,113,255)"/><rect x="222.9" y="154" width="22.7" height="3.05" fill="rgb(126,126,255)"/><rect x="222.9" y="157" width="22.7" height="2.05" fill="rgb(141,141,255)"/><rect x="222.9" y="159" width="22.7" height="1.55" fill="rgb(135,135,255)"/><rect x="222.9" y="160.5" width="22.7" height="3.05" fill="rgb(127,127,255)"/><rect x="222.9" y="163.5" width="22.7" height="1.55" fill="rgb(131,131,255)"/><rect x="222.9" y="165" width="22.7" height="3.05" fill="rgb(110,110,255)"/><rect x="222.9" y="168" width="22.7" height="2.55" fill="rgb(123,123,255)"/><rect x="222.9" y="170.5" width="22.7" height="1.55" fill="rgb(125,125,255)"/><rect x="222.9" y="172" width="22.7" height="2.05" fill="rgb(110,110,255)"/><rect x="222.9" y="174" width="22.7" height="1.05" fill="rgb(111,111,255)"/><rect x="222.9" y="175" width="22.7" height="1.55" fill="rgb(142,142,255)"/><rect x="222.9" y="176.5" width="22.7" height="1.55" fill="rgb(136,136,255)"/><rect x="222.9" y="178" width="22.7" height="3.05" fill="rgb(132,132,255)"/><rect x="222.9" y="181" width="22.7" height="2.05" fill="rgb(128,128,255)"/><rect x="222.9" y="183" width="22.7" height="3.05" fill="rgb(87,87,255)"/><rect x="222.9" y="186" width="22.7" height="2.55" fill="rgb(82,82,255)"/><rect x="222.9" y="188.5" width="22.7" height="2.05" fill="rgb(93,93,255)"/><rect x="222.9" y="190.5" width="22.7" height="2.55" fill="rgb(78,78,255)"/><rect x="222.9" y="193" width="22.7" height="1.55" fill="rgb(122,122,255)"/><rect x="222.9" y="194.5" width="22.7" height="3.05" fill="rgb(124,124,255)"/><rect x="222.9" y="197.5" width="22.7" height="2.05" fill="rgb(110,110,255)"/><rect x="222.9" y="199.5" width="22.7" height="3.05" fill="rgb(120,120,255)"/><rect x="222.9" y="202.5" width="22.7" height="3.05" fill="rgb(121,121,255)"/><rect x="222.9" y="205.5" width="22.7" height="1.55" fill="rgb(121,121,255)"/><rect x="222.9" y="207" width="22.7" height="3.05" fill="rgb(110,110,255)"/><rect x="245.6" y="63" width="22.7" height="3.05" fill="rgb(140,140,255)"/><rect x="245.6" y="66" width="22.7" height="2.55" fill="rgb(134,134,255)"/><rect x="245.6" y="68.5" width="22.7" height="1.55" fill="rgb(135,135,255)"/><rect x="245.6" y="70" width="22.7" height="2.05" fill="rgb(181,181,255)"/><rect x="245.6" y="72" width="22.7" height="2.05" fill="rgb(190,190,255)"/><rect x="245.6" y="74" width="22.7" height="1.55" fill="rgb(158,158,255)"/><rect x="245.6" y="75.5" width="22.7" height="2.05" fill="rgb(151,151,255)"/><rect x="245.6" y="77.5" width="22.7" height="1.55" fill="rgb(160,160,255)"/><rect x="245.6" y="79" width="22.7" height="1.05" fill="rgb(161,161,255)"/><rect x="245.6" y="80" width="22.7" height="2.55" fill="rgb(180,180,255)"/><rect x="245.6" y="82.5" width="22.7" height="1.55" fill="rgb(194,194,255)"/><rect x="245.6" y="84" width="22.7" height="2.05" fill="rgb(190,190,255)"/><rect x="245.6" y="86" width="22.7" height="2.55" fill="rgb(239,239,255)"/><rect x="245.6" y="88.5" width="22.7" height="1.55" fill="rgb(243,243,255)"/><rect x="245.6" y="90" width="22.7" height="1.55" fill="rgb(237,237,255)"/><rect x="245.6" y="91.5" width="22.7" height="2.55" fill="rgb(242,242,255)"/><rect x="245.6" y="94" width="22.7" height="1.55" fill="rgb(255,221,221)"/><rect x="245.6" y="95.5" width="22.7" height="1.55" fill="rgb(255,223,223)"/><rect x="245.6" y="97" width="22.7" height="3.05" fill="rgb(147,147,255)"/><rect x="245.6" y="100" width="22.7" height="1.55" fill="rgb(150,150,255)"/><rect x="245.6" y="101.5" width="22.7" height="1.55" fill="rgb(144,144,255)"/><rect x="245.6" y="103" width="22.7" height="2.05" fill="rgb(156,156,255)"/><rect x="245.6" y="105" width="22.7" height="3.05" fill="rgb(222,222,255)"/><rect x="245.6" y="108" width="22.7" height="1.55" fill="rgb(255,212,212)"/><rect x="245.6" y="109.5" width="22.7" height="2.05" fill="rgb(255,213,213)"/><rect x="245.6" y="111.5" width="22.7" height="1.55" fill="rgb(255,228,228)"/><rect x="245.6" y="113" width="22.7" height="1.55" fill="rgb(255,221,221)"/><rect x="245.6" y="114.5" width="22.7" height="2.05" fill="rgb(255,226,226)"/><rect x="245.6" y="116.5" width="22.7" height="2.05" fill="rgb(255,229,229)"/><rect x="245.6" y="118.5" width="22.7" height="2.05" fill="rgb(255,220,220)"/><rect x="245.6" y="120.5" width="22.7" height="3.05" fill="rgb(255,216,216)"/><rect x="245.6" y="123.5" width="22.7" height="3.05" fill="rgb(255,228,228)"/><rect x="245.6" y="126.5" width="22.7" height="3.05" fill="rgb(255,229,229)"/><rect x="245.6" y="129.5" width="22.7" height="3.05" fill="rgb(255,221,221)"/><rect x="245.6" y="132.5" width="22.7" height="3.05" fill="rgb(255,227,227)"/><rect x="245.6" y="135.5" width="22.7" height="1.55" fill="rgb(255,219,219)"/><rect x="245.6" y="137" width="22.7" height="3.05" fill="rgb(255,197,197)"/><rect x="245.6" y="140" width="22.7" height="3.05" fill="rgb(255,211,211)"/><rect x="245.6" y="143" width="22.7" height="2.05" fill="rgb(255,197,197)"/><rect x="245.6" y="145" width="22.7" height="2.05" fill="rgb(255,208,208)"/><rect x="245.6" y="147" width="22.7" height="3.05" fill="rgb(255,103,103)"/><rect x="245.6" y="150" width="22.7" height="2.05" fill="rgb(255,95,95)"/><rect x="245.6" y="152" width="22.7" height="2.05" fill="rgb(255,214,214)"/><rect x="245.6" y="154" width="22.7" height="1.05" fill="rgb(255,228,228)"/><rect x="245.6" y="155" width="22.7" height="2.55" fill="rgb(255,156,156)"/><rect x="245.6" y="157.5" width="22.7" height="3.05" fill="rgb(255,154,154)"/><rect x="245.6" y="160.5" width="22.7" height="2.55" fill="rgb(255,160,160)"/><rect x="245.6" y="163" width="22.7" height="2.05" fill="rgb(255,144,144)"/><rect x="245.6" y="165" width="22.7" height="3.05" fill="rgb(255,209,209)"/><rect x="245.6" y="168" width="22.7" height="2.05" fill="rgb(255,198,198)"/><rect x="245.6" y="170" width="22.7" height="2.55" fill="rgb(255,199,199)"/><rect x="245.6" y="172.5" width="22.7" height="1.55" fill="rgb(255,208,208)"/><rect x="245.6" y="174" width="22.7" height="2.05" fill="rgb(255,49,49)"/><rect x="245.6" y="176" width="22.7" height="3.05" fill="rgb(255,54,54)"/><rect x="245.6" y="179" width="22.7" height="1.05" fill="rgb(255,50,50)"/><rect x="245.6" y="180" width="22.7" height="1.55" fill="rgb(255,152,152)"/><rect x="245.6" y="181.5" width="22.7" height="1.55" fill="rgb(255,159,159)"/><rect x="245.6" y="183" width="22.7" height="3.05" fill="rgb(255,158,158)"/><rect x="245.6" y="186" width="22.7" height="1.55" fill="rgb(255,152,152)"/><rect x="245.6" y="187.5" width="22.7" height="1.55" fill="rgb(255,160,160)"/><rect x="245.6" y="189" width="22.7" height="1.55" fill="rgb(255,178,178)"/><rect x="245.6" y="190.5" width="22.7" height="2.55" fill="rgb(255,165,165)"/><rect x="245.6" y="193" width="22.7" height="2.05" fill="rgb(255,174,174)"/><rect x="245.6" y="195" width="22.7" height="2.05" fill="rgb(255,164,164)"/><rect x="245.6" y="197" width="22.7" height="2.05" fill="rgb(255,177,177)"/><rect x="245.6" y="199" width="22.7" height="2.55" fill="rgb(255,147,147)"/><rect x="245.6" y="201.5" width="22.7" height="1.55" fill="rgb(255,149,149)"/><rect x="245.6" y="203" width="22.7" height="3.05" fill="rgb(255,145,145)"/><rect x="245.6" y="206" width="22.7" height="1.55" fill="rgb(255,146,146)"/><rect x="245.6" y="207.5" width="22.7" height="2.55" fill="rgb(255,159,159)"/><rect x="268.3" y="63" width="22.7" height="2.55" fill="rgb(144,144,255)"/><rect x="268.3" y="65.5" width="22.7" height="3.05" fill="rgb(154,154,255)"/><rect x="268.3" y="68.5" width="22.7" height="2.55" fill="rgb(144,144,255)"/><rect x="268.3" y="71" width="22.7" height="1.05" fill="rgb(149,149,255)"/><rect x="268.3" y="72" width="22.7" height="3.05" fill="rgb(169,169,255)"/><rect x="268.3" y="75" width="22.7" height="1.05" fill="rgb(172,172,255)"/><rect x="268.3" y="76" width="22.7" height="3.05" fill="rgb(117,117,255)"/><rect x="268.3" y="79" width="22.7" height="2.55" fill="rgb(112,112,255)"/><rect x="268.3" y="81.5" width="22.7" height="2.55" fill="rgb(111,111,255)"/><rect x="268.3" y="84" width="22.7" height="2.05" fill="rgb(112,112,255)"/><rect x="268.3" y="86" width="22.7" height="2.55" fill="rgb(94,94,255)"/><rect x="268.3" y="88.5" width="22.7" height="2.55" fill="rgb(105,105,255)"/><rect x="268.3" y="91" width="22.7" height="2.55" fill="rgb(106,106,255)"/><rect x="268.3" y="93.5" width="22.7" height="2.55" fill="rgb(104,104,255)"/><rect x="268.3" y="96" width="22.7" height="2.55" fill="rgb(145,145,255)"/><rect x="268.3" y="98.5" width="22.7" height="2.55" fill="rgb(156,156,255)"/><rect x="268.3" y="101" width="22.7" height="1.55" fill="rgb(156,156,255)"/><rect x="268.3" y="102.5" width="22.7" height="2.55" fill="rgb(145,145,255)"/><rect x="268.3" y="105" width="22.7" height="1.05" fill="rgb(156,156,255)"/><rect x="268.3" y="106" width="22.7" height="2.05" fill="rgb(240,240,255)"/><rect x="268.3" y="108" width="22.7" height="2.05" fill="rgb(255,113,113)"/><rect x="268.3" y="110" width="22.7" height="3.05" fill="rgb(255,112,112)"/><rect x="268.3" y="113" width="22.7" height="2.05" fill="rgb(255,126,126)"/><rect x="268.3" y="115" width="22.7" height="3.05" fill="rgb(255,119,119)"/><rect x="268.3" y="118" width="22.7" height="2.05" fill="rgb(255,118,118)"/><rect x="268.3" y="120" width="22.7" height="2.05" fill="rgb(255,124,124)"/><rect x="268.3" y="122" width="22.7" height="1.55" fill="rgb(255,145,145)"/><rect x="268.3" y="123.5" width="22.7" height="2.05" fill="rgb(255,157,157)"/><rect x="268.3" y="125.5" width="22.7" height="2.55" fill="rgb(255,150,150)"/><rect x="268.3" y="128" width="22.7" height="2.55" fill="rgb(255,46,46)"/><rect x="268.3" y="130.5" width="22.7" height="1.55" fill="rgb(255,57,57)"/><rect x="268.3" y="132" width="22.7" height="1.55" fill="rgb(255,50,50)"/><rect x="268.3" y="133.5" width="22.7" height="2.55" fill="rgb(255,46,46)"/><rect x="268.3" y="136" width="22.7" height="2.05" fill="rgb(255,57,57)"/><rect x="268.3" y="138" width="22.7" height="3.05" fill="rgb(255,118,118)"/><rect x="268.3" y="141" width="22.7" height="1.55" fill="rgb(255,116,116)"/><rect x="268.3" y="142.5" width="22.7" height="1.55" fill="rgb(255,112,112)"/><rect x="268.3" y="144" width="22.7" height="1.55" fill="rgb(255,122,122)"/><rect x="268.3" y="145.5" width="22.7" height="1.55" fill="rgb(255,113,113)"/><rect x="268.3" y="147" width="22.7" height="2.05" fill="rgb(255,120,120)"/><rect x="268.3" y="149" width="22.7" height="3.05" fill="rgb(243,243,255)"/><rect x="268.3" y="152" width="22.7" height="2.05" fill="rgb(239,239,255)"/><rect x="268.3" y="154" width="22.7" height="2.05" fill="rgb(255,210,210)"/><rect x="268.3" y="156" width="22.7" height="2.05" fill="rgb(255,204,204)"/><rect x="268.3" y="158" width="22.7" height="2.05" fill="rgb(255,205,205)"/><rect x="268.3" y="160" width="22.7" height="1.05" fill="rgb(255,210,210)"/><rect x="268.3" y="161" width="22.7" height="2.55" fill="rgb(255,192,192)"/><rect x="268.3" y="163.5" width="22.7" height="1.55" fill="rgb(255,193,193)"/><rect x="268.3" y="165" width="22.7" height="3.05" fill="rgb(255,194,194)"/><rect x="268.3" y="168" width="22.7" height="3.05" fill="rgb(255,183,183)"/><rect x="268.3" y="171" width="22.7" height="2.05" fill="rgb(255,189,189)"/><rect x="268.3" y="173" width="22.7" height="2.55" fill="rgb(255,211,211)"/><rect x="268.3" y="175.5" width="22.7" height="3.05" fill="rgb(255,195,195)"/><rect x="268.3" y="178.5" width="22.7" height="1.55" fill="rgb(255,208,208)"/><rect x="268.3" y="180" width="22.7" height="1.55" fill="rgb(255,128,128)"/><rect x="268.3" y="181.5" width="22.7" height="2.05" fill="rgb(255,135,135)"/><rect x="268.3" y="183.5" width="22.7" height="3.55" fill="rgb(255,130,130)"/><rect x="268.3" y="187" width="22.7" height="2.05" fill="rgb(255,110,110)"/><rect x="268.3" y="189" width="22.7" height="3.05" fill="rgb(255,112,112)"/><rect x="268.3" y="192" width="22.7" height="2.55" fill="rgb(255,127,127)"/><rect x="268.3" y="194.5" width="22.7" height="2.55" fill="rgb(255,112,112)"/><rect x="268.3" y="197" width="22.7" height="1.55" fill="rgb(255,138,138)"/><rect x="268.3" y="198.5" width="22.7" height="1.55" fill="rgb(255,127,127)"/><rect x="268.3" y="200" width="22.7" height="2.05" fill="rgb(255,136,136)"/><rect x="268.3" y="202" width="22.7" height="3.05" fill="rgb(255,136,136)"/><rect x="268.3" y="205" width="22.7" height="2.55" fill="rgb(255,132,132)"/><rect x="268.3" y="207.5" width="22.7" height="2.55" fill="rgb(255,139,139)"/><rect x="291" y="63" width="22.7" height="2.05" fill="rgb(145,145,255)"/><rect x="291" y="65" width="22.7" height="1.55" fill="rgb(156,156,255)"/><rect x="291" y="66.5" width="22.7" height="2.55" fill="rgb(161,161,255)"/><rect x="291" y="69" width="22.7" height="2.05" fill="rgb(160,160,255)"/><rect x="291" y="71" width="22.7" height="1.05" fill="rgb(151,151,255)"/><rect x="291" y="72" width="22.7" height="2.05" fill="rgb(118,118,255)"/><rect x="291" y="74" width="22.7" height="1.55" fill="rgb(124,124,255)"/><rect x="291" y="75.5" width="22.7" height="3.05" fill="rgb(111,111,255)"/><rect x="291" y="78.5" width="22.7" height="2.05" fill="rgb(122,122,255)"/><rect x="291" y="80.5" width="22.7" height="3.05" fill="rgb(118,118,255)"/><rect x="291" y="83.5" width="22.7" height="1.55" fill="rgb(119,119,255)"/><rect x="291" y="85" width="22.7" height="1.05" fill="rgb(113,113,255)"/><rect x="291" y="86" width="22.7" height="3.05" fill="rgb(81,81,255)"/><rect x="291" y="89" width="22.7" height="3.05" fill="rgb(84,84,255)"/><rect x="291" y="92" width="22.7" height="3.05" fill="rgb(83,83,255)"/><rect x="291" y="95" width="22.7" height="3.05" fill="rgb(92,92,255)"/><rect x="291" y="98" width="22.7" height="2.55" fill="rgb(150,150,255)"/><rect x="291" y="100.5" width="22.7" height="2.55" fill="rgb(152,152,255)"/><rect x="291" y="103" width="22.7" height="3.05" fill="rgb(154,154,255)"/><rect x="291" y="106" width="22.7" height="2.05" fill="rgb(255,93,93)"/><rect x="291" y="108" width="22.7" height="2.05" fill="rgb(255,80,80)"/><rect x="291" y="110" width="22.7" height="2.55" fill="rgb(255,78,78)"/><rect x="291" y="112.5" width="22.7" height="1.55" fill="rgb(255,85,85)"/><rect x="291" y="114" width="22.7" height="2.05" fill="rgb(255,113,113)"/><rect x="291" y="116" width="22.7" height="2.05" fill="rgb(255,120,120)"/><rect x="291" y="118" width="22.7" height="2.05" fill="rgb(255,121,121)"/><rect x="291" y="120" width="22.7" height="2.05" fill="rgb(255,111,111)"/><rect x="291" y="122" width="22.7" height="2.05" fill="rgb(255,117,117)"/><rect x="291" y="124" width="22.7" height="2.05" fill="rgb(255,111,111)"/><rect x="291" y="126" width="22.7" height="2.05" fill="rgb(255,117,117)"/><rect x="291" y="128" width="22.7" height="2.55" fill="rgb(255,219,219)"/><rect x="291" y="130.5" width="22.7" height="1.55" fill="rgb(255,216,216)"/><rect x="291" y="132" width="22.7" height="1.55" fill="rgb(255,219,219)"/><rect x="291" y="133.5" width="22.7" height="1.55" fill="rgb(255,228,228)"/><rect x="291" y="135" width="22.7" height="2.05" fill="rgb(255,216,216)"/><rect x="291" y="137" width="22.7" height="2.05" fill="rgb(255,203,203)"/><rect x="291" y="139" width="22.7" height="2.05" fill="rgb(255,132,132)"/><rect x="291" y="141" width="22.7" height="1.55" fill="rgb(255,133,133)"/><rect x="291" y="142.5" width="22.7" height="1.55" fill="rgb(255,137,137)"/><rect x="291" y="144" width="22.7" height="2.55" fill="rgb(255,131,131)"/><rect x="291" y="146.5" width="22.7" height="3.05" fill="rgb(255,141,141)"/><rect x="291" y="149.5" width="22.7" height="2.55" fill="rgb(255,135,135)"/><rect x="291" y="152" width="22.7" height="1.05" fill="rgb(255,127,127)"/><rect x="291" y="153" width="22.7" height="2.55" fill="rgb(255,53,53)"/><rect x="291" y="155.5" width="22.7" height="1.55" fill="rgb(255,47,47)"/><rect x="291" y="157" width="22.7" height="1.55" fill="rgb(255,156,156)"/><rect x="291" y="158.5" width="22.7" height="1.55" fill="rgb(255,154,154)"/><rect x="291" y="160" width="22.7" height="1.05" fill="rgb(255,145,145)"/><rect x="291" y="161" width="22.7" height="1.55" fill="rgb(255,76,76)"/><rect x="291" y="162.5" width="22.7" height="1.55" fill="rgb(255,84,84)"/><rect x="291" y="164" width="22.7" height="2.05" fill="rgb(255,87,87)"/><rect x="291" y="166" width="22.7" height="2.55" fill="rgb(255,79,79)"/><rect x="291" y="168.5" width="22.7" height="3.05" fill="rgb(255,82,82)"/><rect x="291" y="171.5" width="22.7" height="2.55" fill="rgb(255,92,92)"/><rect x="291" y="174" width="22.7" height="1.55" fill="rgb(255,218,218)"/><rect x="291" y="175.5" width="22.7" height="3.05" fill="rgb(255,213,213)"/><rect x="291" y="178.5" width="22.7" height="2.55" fill="rgb(255,215,215)"/><rect x="291" y="181" width="22.7" height="3.05" fill="rgb(197,197,255)"/><rect x="291" y="184" width="22.7" height="3.05" fill="rgb(255,153,153)"/><rect x="291" y="187" width="22.7" height="3.05" fill="rgb(255,147,147)"/><rect x="291" y="190" width="22.7" height="3.05" fill="rgb(255,159,159)"/><rect x="291" y="193" width="22.7" height="2.05" fill="rgb(255,160,160)"/><rect x="291" y="195" width="22.7" height="2.55" fill="rgb(255,175,175)"/><rect x="291" y="197.5" width="22.7" height="3.05" fill="rgb(255,165,165)"/><rect x="291" y="200.5" width="22.7" height="3.05" fill="rgb(255,167,167)"/><rect x="291" y="203.5" width="22.7" height="2.05" fill="rgb(255,170,170)"/><rect x="291" y="205.5" width="22.7" height="3.05" fill="rgb(255,178,178)"/><rect x="291" y="208.5" width="22.7" height="1.55" fill="rgb(255,163,163)"/><path d="M200 63L198.35 65.1L198.2 66.85L198.5 67.2L200 69ZM200 69L197.8 70.4L197.6 71.66L198 71.8L200 73ZM200 73L197.25 75.1L197 76.31L197.5 77.2L200 79ZM200 79L196.7 80.75L196.4 81.42L197 82.5L200 84ZM200 84L196.15 85.4L195.8 86.39L196.5 86.8L200 88ZM200 88L195.6 90.1L195.2 91.48L196 92.2L200 94ZM200 94L195.05 95.75L194.6 96.17L195.5 97.5L200 99ZM200 99L194.5 101.62L194 101.11L195 104.25L200 106.5ZM200 106.5L195.05 108.42L194.6 109.48L195.5 110.35L200 112ZM200 112L194.5 114.1L194 115.49L195 116.2L200 118ZM200 118L195.05 120.1L194.6 121.07L195.5 122.2L200 124ZM200 124L195.6 125.75L195.2 125.61L196 127.5L200 129ZM200 129L195.6 130.4L195.2 131.19L196 131.8L200 133ZM200 133L195.05 134.4L194.6 134.82L195.5 135.8L200 137ZM200 137L194.5 139.8L194 140.38L195 142.6L200 145ZM200 145L195.05 147.45L194.6 148.84L195.5 149.9L200 152ZM200 152L195.05 154.1L194.6 154.61L195.5 156.2L200 158ZM200 158L195.05 159.75L194.6 160.04L195.5 161.5L200 163ZM200 163L195.05 165.1L194.6 167.52L195.5 167.2L200 169ZM200 169L195.6 171.1L195.2 171.87L196 173.2L200 175ZM200 204L198.62 206.1L198.5 206.74L198.75 208.2L200 210ZM200 199L198.07 200.75L197.9 201.62L198.25 202.5L200 204ZM200 193L197.25 195.1L197 195.61L197.5 197.2L200 199ZM200 186L196.15 188.45L195.8 190.44L196.5 190.9L200 193ZM200 175L195.32 178.85L194.9 179.11L195.75 182.7L200 186Z" fill="#111"/><path d="M198.4 63.21V63.64M198.4 63.21H200M198.4 63.64H200M197.79 63.43V64.07M197.79 63.43H198.4M197.79 64.07H200M198.35 64.5V64.93M198.35 64.5H200M198.35 64.93H200M197.92 64.71V65.36M197.92 64.71H198.35M197.92 65.36H200M198.99 65.79V66.21M198.99 65.79H200M198.99 66.21H200M198.85 66.64V67.07M198.85 66.64H200M198.85 67.07H200M198.72 66V66.86M198.72 66H198.99M198.72 66.86H198.85M198.89 67.93V68.36M198.89 67.93H200M198.89 68.36H200M198.74 67.5V68.14M198.74 67.5H200M198.74 68.14H198.89M198.29 66.43V67.82M198.29 66.43H198.72M198.29 67.82H198.74M197.81 65.04V67.12M197.81 65.04H197.92M197.81 67.12H198.29M197.19 63.75V66.08M197.19 63.75H197.79M197.19 66.08H197.81M197 64.92V68.79M197 64.92H197.19M197 68.79H200M197.23 69.2V69.6M197.23 69.2H200M197.23 69.6H200M198.4 70V70.4M198.4 70H200M198.4 70.4H200M198.57 70.8V71.2M198.57 70.8H200M198.57 71.2H200M198.03 70.2V71M198.03 70.2H198.4M198.03 71H198.57M197.59 70.6V71.6M197.59 70.6H198.03M197.59 71.6H200M197.53 72V72.4M197.53 72H200M197.53 72.4H200M196.72 71.1V72.2M196.72 71.1H197.59M196.72 72.2H197.53M196.18 69.4V71.65M196.18 69.4H197.23M196.18 71.65H196.72M196 70.53V72.8M196 70.53H196.18M196 72.8H200M197.12 73.21V73.64M197.12 73.21H200M197.12 73.64H200M197.5 74.07V74.5M197.5 74.07H200M197.5 74.5H200M197.18 74.29V74.93M197.18 74.29H197.5M197.18 74.93H200M196.17 73.43V74.61M196.17 73.43H197.12M196.17 74.61H197.18M197.15 75.36V75.79M197.15 75.36H200M197.15 75.79H200M196.75 76.21V76.64M196.75 76.21H200M196.75 76.64H200M196.16 75.57V76.43M196.16 75.57H197.15M196.16 76.43H196.75M195.89 74.02V76M195.89 74.02H196.17M195.89 76H196.16M196.83 77.5V77.93M196.83 77.5H200M196.83 77.93H200M197.42 78.36V78.79M197.42 78.36H200M197.42 78.79H200M196.51 77.71V78.57M196.51 77.71H196.83M196.51 78.57H197.42M195.68 77.07V78.14M195.68 77.07H200M195.68 78.14H196.51M195 75.01V77.61M195 75.01H195.89M195 77.61H195.68M195.79 79.21V79.62M195.79 79.21H200M195.79 79.62H200M196.91 80.46V80.88M196.91 80.46H200M196.91 80.88H200M195.93 80.04V80.67M195.93 80.04H200M195.93 80.67H196.91M195.48 79.42V80.35M195.48 79.42H195.79M195.48 80.35H195.93M194.34 79.89V81.29M194.34 79.89H195.48M194.34 81.29H200M197.29 82.12V82.54M197.29 82.12H200M197.29 82.54H200M197.48 83.38V83.79M197.48 83.38H200M197.48 83.79H200M197.37 82.96V83.58M197.37 82.96H200M197.37 83.58H197.48M196.61 82.33V83.27M196.61 82.33H197.29M196.61 83.27H197.37M195.64 81.71V82.8M195.64 81.71H200M195.64 82.8H196.61M194 80.59V82.26M194 80.59H194.34M194 82.26H195.64M195.95 84.6V85M195.95 84.6H200M195.95 85H200M195.2 84.8V85.4M195.2 84.8H195.95M195.2 85.4H200M194.42 84.2V85.1M194.42 84.2H200M194.42 85.1H195.2M194.77 85.8V86.2M194.77 85.8H200M194.77 86.2H200M194.03 84.65V86M194.03 84.65H194.42M194.03 86H194.77M196.83 86.6V87M196.83 86.6H200M196.83 87H200M196.07 86.8V87.4M196.07 86.8H196.83M196.07 87.4H200M194.66 87.1V87.8M194.66 87.1H196.07M194.66 87.8H200M193 85.33V87.45M193 85.33H194.03M193 87.45H194.66M196.33 89.07V89.5M196.33 89.07H200M196.33 89.5H200M195.64 88.64V89.29M195.64 88.64H200M195.64 89.29H196.33M197.39 89.93V90.36M197.39 89.93H200M197.39 90.36H200M197 90.14V90.79M197 90.14H197.39M197 90.79H200M196.74 90.46V91.21M196.74 90.46H197M196.74 91.21H200M195.87 90.84V91.64M195.87 90.84H196.74M195.87 91.64H200M195.21 88.96V91.24M195.21 88.96H195.64M195.21 91.24H195.87M193.92 90.1V92.07M193.92 90.1H195.21M193.92 92.07H200M192.5 88.21V91.09M192.5 88.21H200M192.5 91.09H193.92M195.72 92.93V93.36M195.72 92.93H200M195.72 93.36H200M194.37 92.5V93.14M194.37 92.5H200M194.37 93.14H195.72M193.45 92.82V93.79M193.45 92.82H194.37M193.45 93.79H200M192 89.65V93.3M192 89.65H192.5M192 93.3H193.45M194.93 94.21V94.62M194.93 94.21H200M194.93 94.62H200M194.89 95.04V95.46M194.89 95.04H200M194.89 95.46H200M193.96 95.25V95.88M193.96 95.25H194.89M193.96 95.88H200M193.46 94.42V95.56M193.46 94.42H194.93M193.46 95.56H193.96M194.4 96.29V96.71M194.4 96.29H200M194.4 96.71H200M196.38 97.54V97.96M196.38 97.54H200M196.38 97.96H200M196.09 97.75V98.38M196.09 97.75H196.38M196.09 98.38H200M194.72 97.12V98.06M194.72 97.12H200M194.72 98.06H196.09M194.09 97.59V98.79M194.09 97.59H194.72M194.09 98.79H200M192.99 96.5V98.19M192.99 96.5H194.4M192.99 98.19H194.09M191 94.99V97.35M191 94.99H193.46M191 97.35H192.99M192.68 99.21V99.62M192.68 99.21H200M192.68 99.62H200M191.87 99.42V100.04M191.87 99.42H192.68M191.87 100.04H200M195.35 101.29V101.71M195.35 101.29H200M195.35 101.71H200M195.04 100.88V101.5M195.04 100.88H200M195.04 101.5H195.35M193.45 100.46V101.19M193.45 100.46H200M193.45 101.19H195.04M194.92 102.12V102.54M194.92 102.12H200M194.92 102.54H200M194.66 102.33V102.96M194.66 102.33H194.92M194.66 102.96H200M193.97 102.65V103.38M193.97 102.65H194.66M193.97 103.38H200M196.76 103.79V104.21M196.76 103.79H200M196.76 104.21H200M196.32 104V104.62M196.32 104H196.76M196.32 104.62H200M195.94 104.31V105.04M195.94 104.31H196.32M195.94 105.04H200M196.67 105.46V105.88M196.67 105.46H200M196.67 105.88H200M195.61 105.67V106.29M195.61 105.67H196.67M195.61 106.29H200M194.94 104.68V105.98M194.94 104.68H195.94M194.94 105.98H195.61M193.56 103.01V105.33M193.56 103.01H193.97M193.56 105.33H194.94M191.91 100.82V104.17M191.91 100.82H193.45M191.91 104.17H193.56M190 99.73V102.5M190 99.73H191.87M190 102.5H191.91M195.8 66.85V71.66M195.8 66.85H197M195.8 71.66H196M193.3 69.26V76.31M193.3 69.26H195.8M193.3 76.31H195M190.4 72.78V81.42M190.4 72.78H193.3M190.4 81.42H194M188.5 77.1V86.39M188.5 77.1H190.4M188.5 86.39H193M186.6 81.74V91.48M186.6 81.74H188.5M186.6 91.48H192M184.7 86.61V96.17M184.7 86.61H186.6M184.7 96.17H191M180.6 91.39V101.11M180.6 91.39H184.7M180.6 101.11H190M196.48 107.13V107.56M196.48 107.13H200M196.48 107.56H200M197 107.98V108.4M197 107.98H200M197 108.4H200M196.29 107.35V108.19M196.29 107.35H196.48M196.29 108.19H197M195.65 107.77V108.83M195.65 107.77H196.29M195.65 108.83H200M195.46 108.3V109.25M195.46 108.3H195.65M195.46 109.25H200M194.25 108.77V109.67M194.25 108.77H195.46M194.25 109.67H200M193.46 106.71V109.22M193.46 106.71H200M193.46 109.22H194.25M194.18 110.52V110.94M194.18 110.52H200M194.18 110.94H200M193.28 110.1V110.73M193.28 110.1H200M193.28 110.73H194.18M194.07 111.37V111.79M194.07 111.37H200M194.07 111.79H200M191.82 110.41V111.58M191.82 110.41H193.28M191.82 111.58H194.07M191 107.97V111M191 107.97H193.46M191 111H191.82M193.94 112.21V112.64M193.94 112.21H200M193.94 112.64H200M193.63 112.43V113.07M193.63 112.43H193.94M193.63 113.07H200M192.32 112.75V113.5M192.32 112.75H193.63M192.32 113.5H200M193.74 114.79V115.21M193.74 114.79H200M193.74 115.21H200M192.39 114.36V115M192.39 114.36H200M192.39 115H193.74M191.97 113.93V114.68M191.97 113.93H200M191.97 114.68H192.39M191.58 113.12V114.3M191.58 113.12H192.32M191.58 114.3H191.97M195.29 116.07V116.5M195.29 116.07H200M195.29 116.5H200M194.43 116.29V116.93M194.43 116.29H195.29M194.43 116.93H200M194.13 115.64V116.61M194.13 115.64H200M194.13 116.61H194.43M192.81 116.12V117.36M192.81 116.12H194.13M192.81 117.36H200M192.15 116.74V117.79M192.15 116.74H192.81M192.15 117.79H200M190 113.71V117.26M190 113.71H191.58M190 117.26H192.15M195.4 118.21V118.64M195.4 118.21H200M195.4 118.64H200M196.85 119.93V120.36M196.85 119.93H200M196.85 120.36H200M195.96 119.5V120.14M195.96 119.5H200M195.96 120.14H196.85M195.68 119.07V119.82M195.68 119.07H200M195.68 119.82H195.96M194.06 118.43V119.45M194.06 118.43H195.4M194.06 119.45H195.68M193.4 120.79V121.21M193.4 120.79H200M193.4 121.21H200M192.9 118.94V121M192.9 118.94H194.06M192.9 121H193.4M196.55 122.93V123.36M196.55 122.93H200M196.55 123.36H200M196.36 122.5V123.14M196.36 122.5H200M196.36 123.14H196.55M195.84 122.82V123.79M195.84 122.82H196.36M195.84 123.79H200M195.12 122.07V123.3M195.12 122.07H200M195.12 123.3H195.84M193.24 121.64V122.69M193.24 121.64H200M193.24 122.69H195.12M191 119.97V122.17M191 119.97H192.9M191 122.17H193.24M193.93 124.21V124.62M193.93 124.21H200M193.93 124.62H200M196.35 125.04V125.46M196.35 125.04H200M196.35 125.46H200M195.81 125.88V126.29M195.81 125.88H200M195.81 126.29H200M195.46 125.25V126.08M195.46 125.25H196.35M195.46 126.08H195.81M195.76 126.71V127.12M195.76 126.71H200M195.76 127.12H200M196.74 127.54V127.96M196.74 127.54H200M196.74 127.96H200M195.51 126.92V127.75M195.51 126.92H195.76M195.51 127.75H196.74M196.26 128.38V128.79M196.26 128.38H200M196.26 128.79H200M195.06 127.33V128.58M195.06 127.33H195.51M195.06 128.58H196.26M194.11 125.67V127.96M194.11 125.67H195.46M194.11 127.96H195.06M192 124.42V126.81M192 124.42H193.93M192 126.81H194.11M189 109.48V115.49M189 109.48H191M189 115.49H190M187.5 112.49V121.07M187.5 112.49H189M187.5 121.07H191M185.6 116.78V125.61M185.6 116.78H187.5M185.6 125.61H192M197.06 129.6V130M197.06 129.6H200M197.06 130H200M196.19 129.8V130.4M196.19 129.8H197.06M196.19 130.4H200M195.18 129.2V130.1M195.18 129.2H200M195.18 130.1H196.19M193.95 129.65V130.8M193.95 129.65H195.18M193.95 130.8H200M196.06 131.2V131.6M196.06 131.2H200M196.06 131.6H200M195.21 131.4V132M195.21 131.4H196.06M195.21 132H200M195.75 132.4V132.8M195.75 132.4H200M195.75 132.8H200M194.23 131.7V132.6M194.23 131.7H195.21M194.23 132.6H195.75M192 130.23V132.15M192 130.23H193.95M192 132.15H194.23M192.94 133.2V133.6M192.94 133.2H200M192.94 133.6H200M194.72 134V134.4M194.72 134H200M194.72 134.4H200M193.12 134.2V134.8M193.12 134.2H194.72M193.12 134.8H200M191.92 133.4V134.5M191.92 133.4H192.94M191.92 134.5H193.12M194.9 135.6V136M194.9 135.6H200M194.9 136H200M193.69 136.4V136.8M193.69 136.4H200M193.69 136.8H200M192.99 135.8V136.6M192.99 135.8H194.9M192.99 136.6H193.69M191.45 135.2V136.2M191.45 135.2H200M191.45 136.2H192.99M191 133.95V135.7M191 133.95H191.92M191 135.7H191.45M186.7 131.19V134.82M186.7 131.19H192M186.7 134.82H191M194.2 137.21V137.63M194.2 137.21H200M194.2 137.63H200M194.57 138.05V138.47M194.57 138.05H200M194.57 138.47H200M193.89 137.42V138.26M193.89 137.42H194.2M193.89 138.26H194.57M194.14 138.89V139.32M194.14 138.89H200M194.14 139.32H200M192.55 139.11V139.74M192.55 139.11H194.14M192.55 139.74H200M191.97 137.84V139.42M191.97 137.84H193.89M191.97 139.42H192.55M196 140.58V141M196 140.58H200M196 141H200M195.46 140.16V140.79M195.46 140.16H200M195.46 140.79H196M193.74 140.47V141.42M193.74 140.47H195.46M193.74 141.42H200M195.63 141.84V142.26M195.63 141.84H200M195.63 142.26H200M195.36 142.05V142.68M195.36 142.05H195.63M195.36 142.68H200M194.95 142.37V143.11M194.95 142.37H195.36M194.95 143.11H200M196.65 144.37V144.79M196.65 144.37H200M196.65 144.79H200M196.05 143.95V144.58M196.05 143.95H200M196.05 144.58H196.65M194.67 143.53V144.26M194.67 143.53H200M194.67 144.26H196.05M193.07 142.74V143.89M193.07 142.74H194.95M193.07 143.89H194.67M192.4 140.95V143.32M192.4 140.95H193.74M192.4 143.32H193.07M190 138.63V142.13M190 138.63H191.97M190 142.13H192.4M195.08 145.62V146.03M195.08 145.62H200M195.08 146.03H200M193.57 145.21V145.82M193.57 145.21H200M193.57 145.82H195.08M196.03 146.85V147.26M196.03 146.85H200M196.03 147.26H200M194.72 146.44V147.06M194.72 146.44H200M194.72 147.06H196.03M197.71 147.68V148.09M197.71 147.68H200M197.71 148.09H200M198.12 148.5V148.91M198.12 148.5H200M198.12 148.91H200M197.5 147.88V148.71M197.5 147.88H197.71M197.5 148.71H198.12M196.8 148.29V149.32M196.8 148.29H197.5M196.8 149.32H200M195.73 148.81V149.74M195.73 148.81H196.8M195.73 149.74H200M194.16 146.75V149.27M194.16 146.75H194.72M194.16 149.27H195.73M192.42 145.51V148.01M192.42 145.51H193.57M192.42 148.01H194.16M192.96 150.15V150.56M192.96 150.15H200M192.96 150.56H200M194.33 150.97V151.38M194.33 150.97H200M194.33 151.38H200M193.87 151.18V151.79M193.87 151.18H194.33M193.87 151.79H200M191.49 150.35V151.49M191.49 150.35H192.96M191.49 151.49H193.87M191 146.76V150.92M191 146.76H192.42M191 150.92H191.49M194.19 152.64V153.07M194.19 152.64H200M194.19 153.07H200M193.51 152.21V152.86M193.51 152.21H200M193.51 152.86H194.19M195.5 153.5V153.93M195.5 153.5H200M195.5 153.93H200M194.05 153.71V154.36M194.05 153.71H195.5M194.05 154.36H200M193.1 152.54V154.04M193.1 152.54H193.51M193.1 154.04H194.05M195.3 155.21V155.64M195.3 155.21H200M195.3 155.64H200M193.82 154.79V155.43M193.82 154.79H200M193.82 155.43H195.3M195.91 156.07V156.5M195.91 156.07H200M195.91 156.5H200M196.31 157.36V157.79M196.31 157.36H200M196.31 157.79H200M195.28 156.93V157.57M195.28 156.93H200M195.28 157.57H196.31M194.6 156.29V157.25M194.6 156.29H195.91M194.6 157.25H195.28M192.96 155.11V156.77M192.96 155.11H193.82M192.96 156.77H194.6M191 153.29V155.94M191 153.29H193.1M191 155.94H192.96M189 140.38V148.84M189 140.38H190M189 148.84H191M188 144.61V154.61M188 144.61H189M188 154.61H191M193.5 158.62V159.04M193.5 158.62H200M193.5 159.04H200M192.14 158.83V159.46M192.14 158.83H193.5M192.14 159.46H200M191.47 158.21V159.15M191.47 158.21H200M191.47 159.15H192.14M195.86 160.29V160.71M195.86 160.29H200M195.86 160.71H200M194.28 160.5V161.12M194.28 160.5H195.86M194.28 161.12H200M193.9 160.81V161.54M193.9 160.81H194.28M193.9 161.54H200M192.58 159.88V161.18M192.58 159.88H200M192.58 161.18H193.9M193.28 162.38V162.79M193.28 162.38H200M193.28 162.79H200M192.03 161.96V162.58M192.03 161.96H200M192.03 162.58H193.28M191.4 160.53V162.27M191.4 160.53H192.58M191.4 162.27H192.03M191 158.68V161.4M191 158.68H191.47M191 161.4H191.4M196.11 163.21V163.64M196.11 163.21H200M196.11 163.64H200M195.76 163.43V164.07M195.76 163.43H196.11M195.76 164.07H200M195.98 164.5V164.93M195.98 164.5H200M195.98 164.93H200M194.79 163.75V164.71M194.79 163.75H195.76M194.79 164.71H195.98M195.48 165.36V165.79M195.48 165.36H200M195.48 165.79H200M194.64 165.57V166.21M194.64 165.57H195.48M194.64 166.21H200M194.4 164.23V165.89M194.4 164.23H194.79M194.4 165.89H194.64M194.52 166.64V167.07M194.52 166.64H200M194.52 167.07H200M194.55 167.5V167.93M194.55 167.5H200M194.55 167.93H200M194.01 167.71V168.36M194.01 167.71H194.55M194.01 168.36H200M193.46 166.86V168.04M193.46 166.86H194.52M193.46 168.04H194.01M192.8 165.06V167.45M192.8 165.06H194.4M192.8 167.45H193.46M191 166.25V168.79M191 166.25H192.8M191 168.79H200M194.04 169.21V169.64M194.04 169.21H200M194.04 169.64H200M196.04 170.5V170.93M196.04 170.5H200M196.04 170.93H200M194.74 170.07V170.71M194.74 170.07H200M194.74 170.71H196.04M196.02 171.36V171.79M196.02 171.36H200M196.02 171.79H200M195.43 171.57V172.21M195.43 171.57H196.02M195.43 172.21H200M193.82 170.39V171.89M193.82 170.39H194.74M193.82 171.89H195.43M193.02 169.43V171.14M193.02 169.43H194.04M193.02 171.14H193.82M196.31 173.07V173.5M196.31 173.07H200M196.31 173.5H200M196.49 173.93V174.36M196.49 173.93H200M196.49 174.36H200M195.41 173.29V174.14M195.41 173.29H196.31M195.41 174.14H196.49M194.08 173.71V174.79M194.08 173.71H195.41M194.08 174.79H200M192.44 172.64V174.25M192.44 172.64H200M192.44 174.25H194.08M192 170.29V173.45M192 170.29H193.02M192 173.45H192.44M189.5 160.04V167.52M189.5 160.04H191M189.5 167.52H191M187 163.78V171.87M187 163.78H189.5M187 171.87H192M198.33 204.21V204.64M198.33 204.21H200M198.33 204.64H200M198.14 204.43V205.07M198.14 204.43H198.33M198.14 205.07H200M199.12 205.93V206.36M199.12 205.93H200M199.12 206.36H200M198.99 205.5V206.14M198.99 205.5H200M198.99 206.14H199.12M198.77 205.82V206.79M198.77 205.82H198.99M198.77 206.79H200M198.55 207.21V207.64M198.55 207.21H200M198.55 207.64H200M198.41 207.43V208.07M198.41 207.43H198.55M198.41 208.07H200M198.3 206.3V207.75M198.3 206.3H198.77M198.3 207.75H198.41M198.2 208.5V208.93M198.2 208.5H200M198.2 208.93H200M198.06 207.03V208.71M198.06 207.03H198.3M198.06 208.71H198.2M198.01 209.36V209.79M198.01 209.36H200M198.01 209.79H200M197.85 207.87V209.57M197.85 207.87H198.06M197.85 209.57H198.01M197.5 204.75V208.72M197.5 204.75H198.14M197.5 208.72H197.85M198.2 199.62V200.04M198.2 199.62H200M198.2 200.04H200M198.64 200.46V200.88M198.64 200.46H200M198.64 200.88H200M198.55 200.67V201.29M198.55 200.67H198.64M198.55 201.29H200M198.78 201.71V202.12M198.78 201.71H200M198.78 202.12H200M198.48 201.92V202.54M198.48 201.92H198.78M198.48 202.54H200M198.12 200.98V202.23M198.12 200.98H198.55M198.12 202.23H198.48M197.66 199.83V201.6M197.66 199.83H198.2M197.66 201.6H198.12M197.16 199.21V200.72M197.16 199.21H200M197.16 200.72H197.66M197.57 203.38V203.79M197.57 203.38H200M197.57 203.79H200M197.35 202.96V203.58M197.35 202.96H200M197.35 203.58H197.57M196.5 199.96V203.27M196.5 199.96H197.16M196.5 203.27H197.35M196.58 194.07V194.5M196.58 194.07H200M196.58 194.5H200M195.96 193.64V194.29M195.96 193.64H200M195.96 194.29H196.58M195.53 193.21V193.96M195.53 193.21H200M195.53 193.96H195.96M198.01 195.36V195.79M198.01 195.36H200M198.01 195.79H200M197.43 195.57V196.21M197.43 195.57H198.01M197.43 196.21H200M197.08 194.93V195.89M197.08 194.93H200M197.08 195.89H197.43M197.2 197.07V197.5M197.2 197.07H200M197.2 197.5H200M196.99 196.64V197.29M196.99 196.64H200M196.99 197.29H197.2M197.47 197.93V198.36M197.47 197.93H200M197.47 198.36H200M196.63 196.96V198.14M196.63 196.96H196.99M196.63 198.14H197.47M196.44 195.41V197.55M196.44 195.41H197.08M196.44 197.55H196.63M195.91 196.48V198.79M195.91 196.48H196.44M195.91 198.79H200M195 193.59V197.63M195 193.59H195.53M195 197.63H195.91M194.57 186.21V186.62M194.57 186.21H200M194.57 186.62H200M196.96 187.85V188.26M196.96 187.85H200M196.96 188.26H200M196.14 187.44V188.06M196.14 187.44H200M196.14 188.06H196.96M195.54 187.03V187.75M195.54 187.03H200M195.54 187.75H196.14M194.14 186.41V187.39M194.14 186.41H194.57M194.14 187.39H195.54M195.98 189.09V189.5M195.98 189.09H200M195.98 189.5H200M195.73 189.29V189.91M195.73 189.29H195.98M195.73 189.91H200M195.19 188.68V189.6M195.19 188.68H200M195.19 189.6H195.73M194.88 190.32V190.74M194.88 190.32H200M194.88 190.74H200M194.08 190.53V191.15M194.08 190.53H194.88M194.08 191.15H200M193.68 189.14V190.84M193.68 189.14H195.19M193.68 190.84H194.08M193.29 186.9V189.99M193.29 186.9H194.14M193.29 189.99H193.68M196.52 191.56V191.97M196.52 191.56H200M196.52 191.97H200M195.28 191.76V192.38M195.28 191.76H196.52M195.28 192.38H200M194.41 192.07V192.79M194.41 192.07H195.28M194.41 192.79H200M193 188.44V192.43M193 188.44H193.29M193 192.43H194.41M195.83 175.63V176.06M195.83 175.63H200M195.83 176.06H200M194.64 175.21V175.85M194.64 175.21H200M194.64 175.85H195.83M194.33 175.53V176.48M194.33 175.53H194.64M194.33 176.48H200M196.52 177.75V178.17M196.52 177.75H200M196.52 178.17H200M195.45 177.96V178.6M195.45 177.96H196.52M195.45 178.6H200M195.18 177.33V178.28M195.18 177.33H200M195.18 178.28H195.45M193.49 176.9V177.8M193.49 176.9H200M193.49 177.8H195.18M192.63 176V177.35M192.63 176H194.33M192.63 177.35H193.49M195.18 179.02V179.44M195.18 179.02H200M195.18 179.44H200M195.31 179.87V180.29M195.31 179.87H200M195.31 180.29H200M194.67 179.23V180.08M194.67 179.23H195.18M194.67 180.08H195.31M196.37 180.71V181.13M196.37 180.71H200M196.37 181.13H200M197.23 181.98V182.4M197.23 181.98H200M197.23 182.4H200M196.74 181.56V182.19M196.74 181.56H200M196.74 182.19H197.23M196.77 182.83V183.25M196.77 182.83H200M196.77 183.25H200M195.83 181.88V183.04M195.83 181.88H196.74M195.83 183.04H196.77M194.99 180.92V182.46M194.99 180.92H196.37M194.99 182.46H195.83M196.76 184.1V184.52M196.76 184.1H200M196.76 184.52H200M195.78 183.67V184.31M195.78 183.67H200M195.78 184.31H196.76M195.8 184.94V185.37M195.8 184.94H200M195.8 185.37H200M195.37 183.99V185.15M195.37 183.99H195.78M195.37 185.15H195.8M194.54 184.57V185.79M194.54 184.57H195.37M194.54 185.79H200M194.03 181.69V185.18M194.03 181.69H194.99M194.03 185.18H194.54M193.41 179.65V183.44M193.41 179.65H194.67M193.41 183.44H194.03M191.5 176.68V181.54M191.5 176.68H192.63M191.5 181.54H193.41M196.5 206.74V201.62M196.5 206.74H197.5M196.5 201.62H196.5M194 204.18V195.61M194 204.18H196.5M194 195.61H195M191.5 199.89V190.44M191.5 199.89H194M191.5 190.44H193M189 195.17V179.11M189 195.17H191.5M189 179.11H191.5M183.9 167.82V187.14M183.9 167.82H187M183.9 187.14H189M182.8 149.61V177.48M182.8 149.61H188M182.8 177.48H183.9M181.5 133.01V163.55M181.5 133.01H186.7M181.5 163.55H182.8M180.8 121.2V148.28M180.8 121.2H185.6M180.8 148.28H181.5M179.2 96.25V134.74M179.2 96.25H180.6M179.2 134.74H180.8" stroke="#000" stroke-width="0.5" fill="none"/><text x="315" y="60.7" font-size="5.6" font-family='"Liberation Sans", sans-serif' text-anchor="start" fill="#000" >Group</text><defs><linearGradient id="gb" x1="0" y1="0" x2="0" y2="1"><stop offset="0" stop-color="#ff0000"/><stop offset="0.5" stop-color="#ffffff"/><stop offset="1" stop-color="#0000ff"/></linearGradient></defs><rect x="315.7" y="62.9" width="3.9" height="71.9" fill="url(#gb)"/><text x="321.4" y="70.6" font-size="5" font-family='"Liberation Sans", sans-serif' text-anchor="start" fill="#222" >1.5</text><text x="321.4" y="80.87" font-size="5" font-family='"Liberation Sans", sans-serif' text-anchor="start" fill="#222" >1</text><text x="321.4" y="91.14" font-size="5" font-family='"Liberation Sans", sans-serif' text-anchor="start" fill="#222" >0.5</text><text x="321.4" y="101.41" font-size="5" font-family='"Liberation Sans", sans-serif' text-anchor="start" fill="#222" >0</text><text x="321.4" y="111.68" font-size="5" font-family='"Liberation Sans", sans-serif' text-anchor="start" fill="#222" >-0.5</text><text x="321.4" y="121.95" font-size="5" font-family='"Liberation Sans", sans-serif' text-anchor="start" fill="#222" >-1</text><text x="321.4" y="132.22" font-size="5" font-family='"Liberation Sans", sans-serif' text-anchor="start" fill="#222" >-1.5</text><text x="330.8" y="66.7" font-size="7.6" font-family='"Liberation Serif", serif' text-anchor="start" fill="#000" >CLW</text><rect x="333.8" y="69" width="6.9" height="8.6" fill="#16c8cc"/><rect x="333.8" y="77.6" width="6.9" height="8" fill="#f88a80"/><text x="330.7" y="93.6" font-size="7.6" font-family='"Liberation Serif", serif' text-anchor="start" fill="#000" >CON</text><text x="209.3" y="220.6" font-size="7.2" font-family='"Liberation Serif", serif' text-anchor="middle" fill="#111" >CLW1</text><text x="234.3" y="220.6" font-size="7.2" font-family='"Liberation Serif", serif' text-anchor="middle" fill="#111" >CLW2</text><text x="257.5" y="220.6" font-size="7.2" font-family='"Liberation Serif", serif' text-anchor="middle" fill="#111" >CON1</text><text x="280.7" y="220.6" font-size="7.2" font-family='"Liberation Serif", serif' text-anchor="middle" fill="#111" >CON2</text><text x="304" y="220.6" font-size="7.2" font-family='"Liberation Serif", serif' text-anchor="middle" fill="#111" >CON3</text><text x="191.6" y="275.2" font-size="7.3" font-family='"Liberation Sans", sans-serif' text-anchor="start" fill="#000" >(d)</text><text x="245.4" y="277.4" font-size="7.7" font-family='"Liberation Serif", serif' text-anchor="start" fill="#000" >H1650</text><path d="M232.6 315.6V299H279.6V316 M218.6 316.6V315.6H247V325 M209 325V316.6H228V325 M265.4 325V316H293V317.4 M284 325V317.4H303V325" stroke="#555" stroke-width="0.65" fill="none"/><rect x="200" y="325" width="56" height="5.4" fill="#16c8cc"/><rect x="256" y="325" width="55.6" height="5.4" fill="#f88a80"/><rect x="200" y="331.7" width="18.6" height="2.05" fill="rgb(255,115,115)"/><rect x="200" y="333.7" width="18.6" height="3.35" fill="rgb(255,118,118)"/><rect x="200" y="337" width="18.6" height="1.55" fill="rgb(255,94,94)"/><rect x="200" y="338.5" width="18.6" height="3.05" fill="rgb(255,102,102)"/><rect x="200" y="341.5" width="18.6" height="2.55" fill="rgb(255,107,107)"/><rect x="200" y="344" width="18.6" height="1.45" fill="rgb(255,96,96)"/><rect x="200" y="345.4" width="18.6" height="2.55" fill="rgb(255,131,131)"/><rect x="200" y="347.9" width="18.6" height="1.15" fill="rgb(255,141,141)"/><rect x="200" y="349" width="18.6" height="2.55" fill="rgb(255,96,96)"/><rect x="200" y="351.5" width="18.6" height="1.55" fill="rgb(255,107,107)"/><rect x="200" y="353" width="18.6" height="2.75" fill="rgb(255,107,107)"/><rect x="200" y="355.7" width="18.6" height="2.05" fill="rgb(255,78,78)"/><rect x="200" y="357.7" width="18.6" height="2.55" fill="rgb(255,87,87)"/><rect x="200" y="360.2" width="18.6" height="0.85" fill="rgb(255,77,77)"/><rect x="200" y="361" width="18.6" height="2.55" fill="rgb(255,139,139)"/><rect x="200" y="363.5" width="18.6" height="0.85" fill="rgb(255,130,130)"/><rect x="200" y="364.3" width="18.6" height="3.05" fill="rgb(255,98,98)"/><rect x="200" y="367.3" width="18.6" height="2.55" fill="rgb(255,93,93)"/><rect x="200" y="369.8" width="18.6" height="1.25" fill="rgb(255,103,103)"/><rect x="200" y="371" width="18.6" height="2.55" fill="rgb(255,74,74)"/><rect x="200" y="373.5" width="18.6" height="2.05" fill="rgb(255,66,66)"/><rect x="200" y="375.5" width="18.6" height="1.55" fill="rgb(255,66,66)"/><rect x="200" y="377" width="18.6" height="2.05" fill="rgb(255,114,114)"/><rect x="200" y="379" width="18.6" height="2.45" fill="rgb(255,124,124)"/><rect x="200" y="381.4" width="18.6" height="1.55" fill="rgb(255,128,128)"/><rect x="200" y="382.9" width="18.6" height="3.75" fill="rgb(255,138,138)"/><rect x="200" y="386.6" width="18.6" height="2.55" fill="rgb(255,204,204)"/><rect x="200" y="389.1" width="18.6" height="1.95" fill="rgb(255,207,207)"/><rect x="200" y="391" width="18.6" height="2.05" fill="rgb(255,127,127)"/><rect x="200" y="393" width="18.6" height="2.05" fill="rgb(255,111,111)"/><rect x="200" y="395" width="18.6" height="2.75" fill="rgb(255,121,121)"/><rect x="200" y="397.7" width="18.6" height="2.65" fill="rgb(199,199,255)"/><rect x="200" y="400.3" width="18.6" height="2.55" fill="rgb(117,117,255)"/><rect x="200" y="402.8" width="18.6" height="2.55" fill="rgb(121,121,255)"/><rect x="200" y="405.3" width="18.6" height="2.05" fill="rgb(126,126,255)"/><rect x="200" y="407.3" width="18.6" height="1.55" fill="rgb(125,125,255)"/><rect x="200" y="408.8" width="18.6" height="2.05" fill="rgb(114,114,255)"/><rect x="200" y="410.8" width="18.6" height="2.05" fill="rgb(112,112,255)"/><rect x="200" y="412.8" width="18.6" height="2.05" fill="rgb(115,115,255)"/><rect x="200" y="414.8" width="18.6" height="2.25" fill="rgb(110,110,255)"/><rect x="200" y="417" width="18.6" height="1.55" fill="rgb(109,109,255)"/><rect x="200" y="418.5" width="18.6" height="2.55" fill="rgb(106,106,255)"/><rect x="200" y="421" width="18.6" height="1.05" fill="rgb(93,93,255)"/><rect x="200" y="422" width="18.6" height="2.55" fill="rgb(115,115,255)"/><rect x="200" y="424.5" width="18.6" height="2.05" fill="rgb(123,123,255)"/><rect x="200" y="426.5" width="18.6" height="2.55" fill="rgb(125,125,255)"/><rect x="200" y="429" width="18.6" height="1.55" fill="rgb(132,132,255)"/><rect x="200" y="430.5" width="18.6" height="2.05" fill="rgb(143,143,255)"/><rect x="200" y="432.5" width="18.6" height="2.55" fill="rgb(129,129,255)"/><rect x="200" y="435" width="18.6" height="1.05" fill="rgb(137,137,255)"/><rect x="200" y="436" width="18.6" height="2.05" fill="rgb(115,115,255)"/><rect x="200" y="438" width="18.6" height="1.55" fill="rgb(116,116,255)"/><rect x="200" y="439.5" width="18.6" height="3.05" fill="rgb(113,113,255)"/><rect x="200" y="442.5" width="18.6" height="2.15" fill="rgb(127,127,255)"/><rect x="200" y="444.6" width="18.6" height="1.55" fill="rgb(151,151,255)"/><rect x="200" y="446.1" width="18.6" height="2.05" fill="rgb(151,151,255)"/><rect x="200" y="448.1" width="18.6" height="1.65" fill="rgb(146,146,255)"/><rect x="200" y="449.7" width="18.6" height="1.55" fill="rgb(93,93,255)"/><rect x="200" y="451.2" width="18.6" height="2.05" fill="rgb(103,103,255)"/><rect x="200" y="453.2" width="18.6" height="2.05" fill="rgb(103,103,255)"/><rect x="200" y="455.2" width="18.6" height="3.05" fill="rgb(103,103,255)"/><rect x="200" y="458.2" width="18.6" height="1.85" fill="rgb(110,110,255)"/><rect x="200" y="460" width="18.6" height="1.55" fill="rgb(125,125,255)"/><rect x="200" y="461.5" width="18.6" height="2.55" fill="rgb(123,123,255)"/><rect x="200" y="464" width="18.6" height="3.05" fill="rgb(121,121,255)"/><rect x="200" y="467" width="18.6" height="1.65" fill="rgb(118,118,255)"/><rect x="200" y="468.6" width="18.6" height="2.05" fill="rgb(134,134,255)"/><rect x="200" y="470.6" width="18.6" height="3.05" fill="rgb(127,127,255)"/><rect x="200" y="473.6" width="18.6" height="3.05" fill="rgb(134,134,255)"/><rect x="200" y="476.6" width="18.6" height="1.45" fill="rgb(141,141,255)"/><rect x="218.6" y="331.7" width="18.6" height="3.05" fill="rgb(255,113,113)"/><rect x="218.6" y="334.7" width="18.6" height="1.55" fill="rgb(255,114,114)"/><rect x="218.6" y="336.2" width="18.6" height="2.05" fill="rgb(255,119,119)"/><rect x="218.6" y="338.2" width="18.6" height="1.85" fill="rgb(255,117,117)"/><rect x="218.6" y="340" width="18.6" height="2.55" fill="rgb(255,129,129)"/><rect x="218.6" y="342.5" width="18.6" height="1.55" fill="rgb(255,143,143)"/><rect x="218.6" y="344" width="18.6" height="2.05" fill="rgb(255,137,137)"/><rect x="218.6" y="346" width="18.6" height="3.05" fill="rgb(255,110,110)"/><rect x="218.6" y="349" width="18.6" height="1.55" fill="rgb(255,101,101)"/><rect x="218.6" y="350.5" width="18.6" height="1.55" fill="rgb(255,100,100)"/><rect x="218.6" y="352" width="18.6" height="2.05" fill="rgb(255,133,133)"/><rect x="218.6" y="354" width="18.6" height="3.05" fill="rgb(255,141,141)"/><rect x="218.6" y="357" width="18.6" height="1.05" fill="rgb(255,141,141)"/><rect x="218.6" y="358" width="18.6" height="2.05" fill="rgb(255,104,104)"/><rect x="218.6" y="360" width="18.6" height="2.55" fill="rgb(255,99,99)"/><rect x="218.6" y="362.5" width="18.6" height="1.55" fill="rgb(255,110,110)"/><rect x="218.6" y="364" width="18.6" height="1.55" fill="rgb(255,227,227)"/><rect x="218.6" y="365.5" width="18.6" height="2.55" fill="rgb(255,229,229)"/><rect x="218.6" y="368" width="18.6" height="1.05" fill="rgb(255,212,212)"/><rect x="218.6" y="369" width="18.6" height="2.05" fill="rgb(255,174,174)"/><rect x="218.6" y="371" width="18.6" height="2.75" fill="rgb(255,173,173)"/><rect x="218.6" y="373.7" width="18.6" height="1.55" fill="rgb(255,210,210)"/><rect x="218.6" y="375.2" width="18.6" height="2.85" fill="rgb(255,205,205)"/><rect x="218.6" y="378" width="18.6" height="3.05" fill="rgb(255,75,75)"/><rect x="218.6" y="381" width="18.6" height="2.05" fill="rgb(255,73,73)"/><rect x="218.6" y="383" width="18.6" height="2.05" fill="rgb(255,109,109)"/><rect x="218.6" y="385" width="18.6" height="1.55" fill="rgb(255,103,103)"/><rect x="218.6" y="386.5" width="18.6" height="2.55" fill="rgb(255,95,95)"/><rect x="218.6" y="389" width="18.6" height="1.05" fill="rgb(255,108,108)"/><rect x="218.6" y="390" width="18.6" height="1.55" fill="rgb(255,227,227)"/><rect x="218.6" y="391.5" width="18.6" height="2.55" fill="rgb(255,214,214)"/><rect x="218.6" y="394" width="18.6" height="2.55" fill="rgb(243,243,255)"/><rect x="218.6" y="396.5" width="18.6" height="2.15" fill="rgb(245,245,255)"/><rect x="218.6" y="398.6" width="18.6" height="3.05" fill="rgb(127,127,255)"/><rect x="218.6" y="401.6" width="18.6" height="1.55" fill="rgb(139,139,255)"/><rect x="218.6" y="403.1" width="18.6" height="1.55" fill="rgb(135,135,255)"/><rect x="218.6" y="404.6" width="18.6" height="2.55" fill="rgb(137,137,255)"/><rect x="218.6" y="407.1" width="18.6" height="2.05" fill="rgb(127,127,255)"/><rect x="218.6" y="409.1" width="18.6" height="0.95" fill="rgb(140,140,255)"/><rect x="218.6" y="410" width="18.6" height="1.55" fill="rgb(149,149,255)"/><rect x="218.6" y="411.5" width="18.6" height="2.25" fill="rgb(158,158,255)"/><rect x="218.6" y="413.7" width="18.6" height="1.55" fill="rgb(127,127,255)"/><rect x="218.6" y="415.2" width="18.6" height="3.05" fill="rgb(116,116,255)"/><rect x="218.6" y="418.2" width="18.6" height="2.45" fill="rgb(116,116,255)"/><rect x="218.6" y="420.6" width="18.6" height="2.45" fill="rgb(159,159,255)"/><rect x="218.6" y="423" width="18.6" height="3.05" fill="rgb(111,111,255)"/><rect x="218.6" y="426" width="18.6" height="1.55" fill="rgb(126,126,255)"/><rect x="218.6" y="427.5" width="18.6" height="2.55" fill="rgb(119,119,255)"/><rect x="218.6" y="430" width="18.6" height="3.05" fill="rgb(117,117,255)"/><rect x="218.6" y="433" width="18.6" height="3.05" fill="rgb(111,111,255)"/><rect x="218.6" y="436" width="18.6" height="2.05" fill="rgb(121,121,255)"/><rect x="218.6" y="438" width="18.6" height="1.45" fill="rgb(117,117,255)"/><rect x="218.6" y="439.4" width="18.6" height="2.65" fill="rgb(201,201,255)"/><rect x="218.6" y="442" width="18.6" height="2.05" fill="rgb(96,96,255)"/><rect x="218.6" y="444" width="18.6" height="1.45" fill="rgb(98,98,255)"/><rect x="218.6" y="445.4" width="18.6" height="2.65" fill="rgb(216,216,255)"/><rect x="218.6" y="448" width="18.6" height="1.55" fill="rgb(122,122,255)"/><rect x="218.6" y="449.5" width="18.6" height="1.55" fill="rgb(121,121,255)"/><rect x="218.6" y="451" width="18.6" height="1.55" fill="rgb(119,119,255)"/><rect x="218.6" y="452.5" width="18.6" height="3.05" fill="rgb(124,124,255)"/><rect x="218.6" y="455.5" width="18.6" height="3.05" fill="rgb(119,119,255)"/><rect x="218.6" y="458.5" width="18.6" height="2.05" fill="rgb(117,117,255)"/><rect x="218.6" y="460.5" width="18.6" height="2.55" fill="rgb(116,116,255)"/><rect x="218.6" y="463" width="18.6" height="2.05" fill="rgb(127,127,255)"/><rect x="218.6" y="465" width="18.6" height="1.55" fill="rgb(122,122,255)"/><rect x="218.6" y="466.5" width="18.6" height="2.15" fill="rgb(119,119,255)"/><rect x="218.6" y="468.6" width="18.6" height="2.45" fill="rgb(158,158,255)"/><rect x="218.6" y="471" width="18.6" height="2.55" fill="rgb(126,126,255)"/><rect x="218.6" y="473.5" width="18.6" height="3.05" fill="rgb(121,121,255)"/><rect x="218.6" y="476.5" width="18.6" height="1.55" fill="rgb(117,117,255)"/><rect x="237.2" y="331.7" width="18.6" height="2.55" fill="rgb(255,106,106)"/><rect x="237.2" y="334.2" width="18.6" height="2.55" fill="rgb(255,110,110)"/><rect x="237.2" y="336.7" width="18.6" height="2.75" fill="rgb(255,95,95)"/><rect x="237.2" y="339.4" width="18.6" height="1.55" fill="rgb(255,120,120)"/><rect x="237.2" y="340.9" width="18.6" height="2.05" fill="rgb(255,115,115)"/><rect x="237.2" y="342.9" width="18.6" height="2.55" fill="rgb(255,113,113)"/><rect x="237.2" y="345.4" width="18.6" height="1.65" fill="rgb(255,122,122)"/><rect x="237.2" y="347" width="18.6" height="1.55" fill="rgb(255,94,94)"/><rect x="237.2" y="348.5" width="18.6" height="2.05" fill="rgb(255,98,98)"/><rect x="237.2" y="350.5" width="18.6" height="2.55" fill="rgb(255,98,98)"/><rect x="237.2" y="353" width="18.6" height="1.05" fill="rgb(255,108,108)"/><rect x="237.2" y="354" width="18.6" height="1.55" fill="rgb(255,136,136)"/><rect x="237.2" y="355.5" width="18.6" height="1.95" fill="rgb(255,141,141)"/><rect x="237.2" y="357.4" width="18.6" height="1.55" fill="rgb(255,163,163)"/><rect x="237.2" y="358.9" width="18.6" height="3.05" fill="rgb(255,172,172)"/><rect x="237.2" y="361.9" width="18.6" height="1.55" fill="rgb(255,174,174)"/><rect x="237.2" y="363.4" width="18.6" height="0.95" fill="rgb(255,164,164)"/><rect x="237.2" y="364.3" width="18.6" height="3.05" fill="rgb(255,139,139)"/><rect x="237.2" y="367.3" width="18.6" height="2.05" fill="rgb(255,138,138)"/><rect x="237.2" y="369.3" width="18.6" height="1.75" fill="rgb(255,142,142)"/><rect x="237.2" y="371" width="18.6" height="3.05" fill="rgb(244,244,255)"/><rect x="237.2" y="374" width="18.6" height="2.35" fill="rgb(245,245,255)"/><rect x="237.2" y="376.3" width="18.6" height="2.05" fill="rgb(255,217,217)"/><rect x="237.2" y="378.3" width="18.6" height="2.05" fill="rgb(255,225,225)"/><rect x="237.2" y="380.3" width="18.6" height="1.15" fill="rgb(255,228,228)"/><rect x="237.2" y="381.4" width="18.6" height="3.05" fill="rgb(255,136,136)"/><rect x="237.2" y="384.4" width="18.6" height="2.55" fill="rgb(255,132,132)"/><rect x="237.2" y="386.9" width="18.6" height="1.45" fill="rgb(255,137,137)"/><rect x="237.2" y="388.3" width="18.6" height="2.55" fill="rgb(255,45,45)"/><rect x="237.2" y="390.8" width="18.6" height="3.05" fill="rgb(255,54,54)"/><rect x="237.2" y="393.8" width="18.6" height="2.55" fill="rgb(255,49,49)"/><rect x="237.2" y="396.3" width="18.6" height="2.35" fill="rgb(255,53,53)"/><rect x="237.2" y="398.6" width="18.6" height="2.05" fill="rgb(136,136,255)"/><rect x="237.2" y="400.6" width="18.6" height="3.05" fill="rgb(144,144,255)"/><rect x="237.2" y="403.6" width="18.6" height="2.55" fill="rgb(137,137,255)"/><rect x="237.2" y="406.1" width="18.6" height="0.95" fill="rgb(143,143,255)"/><rect x="237.2" y="407" width="18.6" height="2.55" fill="rgb(101,101,255)"/><rect x="237.2" y="409.5" width="18.6" height="3.05" fill="rgb(109,109,255)"/><rect x="237.2" y="412.5" width="18.6" height="1.55" fill="rgb(95,95,255)"/><rect x="237.2" y="414" width="18.6" height="2.05" fill="rgb(94,94,255)"/><rect x="237.2" y="416" width="18.6" height="2.05" fill="rgb(110,110,255)"/><rect x="237.2" y="418" width="18.6" height="2.05" fill="rgb(100,100,255)"/><rect x="237.2" y="420" width="18.6" height="2.55" fill="rgb(93,93,255)"/><rect x="237.2" y="422.5" width="18.6" height="2.05" fill="rgb(95,95,255)"/><rect x="237.2" y="424.5" width="18.6" height="1.55" fill="rgb(96,96,255)"/><rect x="237.2" y="426" width="18.6" height="3.05" fill="rgb(94,94,255)"/><rect x="237.2" y="429" width="18.6" height="2.55" fill="rgb(162,162,255)"/><rect x="237.2" y="431.5" width="18.6" height="1.95" fill="rgb(171,171,255)"/><rect x="237.2" y="433.4" width="18.6" height="2.05" fill="rgb(140,140,255)"/><rect x="237.2" y="435.4" width="18.6" height="3.05" fill="rgb(144,144,255)"/><rect x="237.2" y="438.4" width="18.6" height="1.55" fill="rgb(137,137,255)"/><rect x="237.2" y="439.9" width="18.6" height="1.55" fill="rgb(140,140,255)"/><rect x="237.2" y="441.4" width="18.6" height="2.35" fill="rgb(136,136,255)"/><rect x="237.2" y="443.7" width="18.6" height="2.65" fill="rgb(198,198,255)"/><rect x="237.2" y="446.3" width="18.6" height="2.55" fill="rgb(118,118,255)"/><rect x="237.2" y="448.8" width="18.6" height="1.55" fill="rgb(116,116,255)"/><rect x="237.2" y="450.3" width="18.6" height="2.05" fill="rgb(125,125,255)"/><rect x="237.2" y="452.3" width="18.6" height="2.55" fill="rgb(119,119,255)"/><rect x="237.2" y="454.8" width="18.6" height="2.55" fill="rgb(125,125,255)"/><rect x="237.2" y="457.3" width="18.6" height="2.55" fill="rgb(113,113,255)"/><rect x="237.2" y="459.8" width="18.6" height="1.55" fill="rgb(117,117,255)"/><rect x="237.2" y="461.3" width="18.6" height="1.55" fill="rgb(115,115,255)"/><rect x="237.2" y="462.8" width="18.6" height="1.55" fill="rgb(115,115,255)"/><rect x="237.2" y="464.3" width="18.6" height="2.75" fill="rgb(111,111,255)"/><rect x="237.2" y="467" width="18.6" height="1.55" fill="rgb(91,91,255)"/><rect x="237.2" y="468.5" width="18.6" height="1.55" fill="rgb(80,80,255)"/><rect x="237.2" y="470" width="18.6" height="1.55" fill="rgb(84,84,255)"/><rect x="237.2" y="471.5" width="18.6" height="1.55" fill="rgb(91,91,255)"/><rect x="237.2" y="473" width="18.6" height="3.05" fill="rgb(127,127,255)"/><rect x="237.2" y="476" width="18.6" height="2.05" fill="rgb(116,116,255)"/><rect x="255.8" y="331.7" width="18.6" height="2.05" fill="rgb(125,125,255)"/><rect x="255.8" y="333.7" width="18.6" height="2.05" fill="rgb(111,111,255)"/><rect x="255.8" y="335.7" width="18.6" height="2.55" fill="rgb(115,115,255)"/><rect x="255.8" y="338.2" width="18.6" height="3.05" fill="rgb(120,120,255)"/><rect x="255.8" y="341.2" width="18.6" height="1.55" fill="rgb(124,124,255)"/><rect x="255.8" y="342.7" width="18.6" height="2.05" fill="rgb(114,114,255)"/><rect x="255.8" y="344.7" width="18.6" height="2.55" fill="rgb(124,124,255)"/><rect x="255.8" y="347.2" width="18.6" height="3.45" fill="rgb(121,121,255)"/><rect x="255.8" y="350.6" width="18.6" height="2.55" fill="rgb(90,90,255)"/><rect x="255.8" y="353.1" width="18.6" height="0.95" fill="rgb(92,92,255)"/><rect x="255.8" y="354" width="18.6" height="2.55" fill="rgb(125,125,255)"/><rect x="255.8" y="356.5" width="18.6" height="1.55" fill="rgb(120,120,255)"/><rect x="255.8" y="358" width="18.6" height="3.05" fill="rgb(127,127,255)"/><rect x="255.8" y="361" width="18.6" height="2.45" fill="rgb(126,126,255)"/><rect x="255.8" y="363.4" width="18.6" height="2.05" fill="rgb(156,156,255)"/><rect x="255.8" y="365.4" width="18.6" height="1.65" fill="rgb(153,153,255)"/><rect x="255.8" y="367" width="18.6" height="2.05" fill="rgb(93,93,255)"/><rect x="255.8" y="369" width="18.6" height="1.55" fill="rgb(99,99,255)"/><rect x="255.8" y="370.5" width="18.6" height="1.55" fill="rgb(105,105,255)"/><rect x="255.8" y="372" width="18.6" height="1.55" fill="rgb(136,136,255)"/><rect x="255.8" y="373.5" width="18.6" height="1.55" fill="rgb(128,128,255)"/><rect x="255.8" y="375" width="18.6" height="2.05" fill="rgb(138,138,255)"/><rect x="255.8" y="377" width="18.6" height="1.55" fill="rgb(143,143,255)"/><rect x="255.8" y="378.5" width="18.6" height="1.55" fill="rgb(127,127,255)"/><rect x="255.8" y="380" width="18.6" height="1.45" fill="rgb(130,130,255)"/><rect x="255.8" y="381.4" width="18.6" height="2.05" fill="rgb(228,228,255)"/><rect x="255.8" y="383.4" width="18.6" height="1.65" fill="rgb(226,226,255)"/><rect x="255.8" y="385" width="18.6" height="2.55" fill="rgb(108,108,255)"/><rect x="255.8" y="387.5" width="18.6" height="1.55" fill="rgb(93,93,255)"/><rect x="255.8" y="389" width="18.6" height="3.05" fill="rgb(118,118,255)"/><rect x="255.8" y="392" width="18.6" height="1.55" fill="rgb(123,123,255)"/><rect x="255.8" y="393.5" width="18.6" height="2.55" fill="rgb(120,120,255)"/><rect x="255.8" y="396" width="18.6" height="2.65" fill="rgb(124,124,255)"/><rect x="255.8" y="398.6" width="18.6" height="1.95" fill="rgb(200,200,255)"/><rect x="255.8" y="400.5" width="18.6" height="1.25" fill="rgb(255,59,59)"/><rect x="255.8" y="401.7" width="18.6" height="3.05" fill="rgb(255,92,92)"/><rect x="255.8" y="404.7" width="18.6" height="2.55" fill="rgb(255,81,81)"/><rect x="255.8" y="407.2" width="18.6" height="2.85" fill="rgb(255,93,93)"/><rect x="255.8" y="410" width="18.6" height="3.05" fill="rgb(255,98,98)"/><rect x="255.8" y="413" width="18.6" height="2.05" fill="rgb(255,97,97)"/><rect x="255.8" y="415" width="18.6" height="1.55" fill="rgb(255,93,93)"/><rect x="255.8" y="416.5" width="18.6" height="2.55" fill="rgb(255,103,103)"/><rect x="255.8" y="419" width="18.6" height="2.05" fill="rgb(255,104,104)"/><rect x="255.8" y="421" width="18.6" height="2.55" fill="rgb(255,94,94)"/><rect x="255.8" y="423.5" width="18.6" height="2.05" fill="rgb(255,104,104)"/><rect x="255.8" y="425.5" width="18.6" height="2.05" fill="rgb(255,109,109)"/><rect x="255.8" y="427.5" width="18.6" height="1.55" fill="rgb(255,105,105)"/><rect x="255.8" y="429" width="18.6" height="3.05" fill="rgb(225,225,255)"/><rect x="255.8" y="432" width="18.6" height="2.35" fill="rgb(212,212,255)"/><rect x="255.8" y="434.3" width="18.6" height="2.05" fill="rgb(255,197,197)"/><rect x="255.8" y="436.3" width="18.6" height="2.05" fill="rgb(255,204,204)"/><rect x="255.8" y="438.3" width="18.6" height="1.15" fill="rgb(255,197,197)"/><rect x="255.8" y="439.4" width="18.6" height="2.55" fill="rgb(255,115,115)"/><rect x="255.8" y="441.9" width="18.6" height="2.05" fill="rgb(255,126,126)"/><rect x="255.8" y="443.9" width="18.6" height="1.55" fill="rgb(255,121,121)"/><rect x="255.8" y="445.4" width="18.6" height="2.65" fill="rgb(255,126,126)"/><rect x="255.8" y="448" width="18.6" height="1.55" fill="rgb(255,208,208)"/><rect x="255.8" y="449.5" width="18.6" height="2.05" fill="rgb(255,207,207)"/><rect x="255.8" y="451.5" width="18.6" height="1.55" fill="rgb(255,195,195)"/><rect x="255.8" y="453" width="18.6" height="2.55" fill="rgb(255,121,121)"/><rect x="255.8" y="455.5" width="18.6" height="2.55" fill="rgb(255,127,127)"/><rect x="255.8" y="458" width="18.6" height="2.05" fill="rgb(255,113,113)"/><rect x="255.8" y="460" width="18.6" height="2.05" fill="rgb(255,110,110)"/><rect x="255.8" y="462" width="18.6" height="1.55" fill="rgb(255,127,127)"/><rect x="255.8" y="463.5" width="18.6" height="1.55" fill="rgb(255,122,122)"/><rect x="255.8" y="465" width="18.6" height="2.55" fill="rgb(255,122,122)"/><rect x="255.8" y="467.5" width="18.6" height="3.05" fill="rgb(255,111,111)"/><rect x="255.8" y="470.5" width="18.6" height="2.05" fill="rgb(255,124,124)"/><rect x="255.8" y="472.5" width="18.6" height="3.05" fill="rgb(255,118,118)"/><rect x="255.8" y="475.5" width="18.6" height="2.55" fill="rgb(255,119,119)"/><rect x="274.4" y="331.7" width="18.6" height="2.55" fill="rgb(134,134,255)"/><rect x="274.4" y="334.2" width="18.6" height="3.05" fill="rgb(142,142,255)"/><rect x="274.4" y="337.2" width="18.6" height="1.55" fill="rgb(130,130,255)"/><rect x="274.4" y="338.7" width="18.6" height="1.35" fill="rgb(130,130,255)"/><rect x="274.4" y="340" width="18.6" height="2.05" fill="rgb(116,116,255)"/><rect x="274.4" y="342" width="18.6" height="2.05" fill="rgb(126,126,255)"/><rect x="274.4" y="344" width="18.6" height="3.05" fill="rgb(116,116,255)"/><rect x="274.4" y="347" width="18.6" height="1.55" fill="rgb(143,143,255)"/><rect x="274.4" y="348.5" width="18.6" height="2.05" fill="rgb(144,144,255)"/><rect x="274.4" y="350.5" width="18.6" height="1.55" fill="rgb(144,144,255)"/><rect x="274.4" y="352" width="18.6" height="2.05" fill="rgb(110,110,255)"/><rect x="274.4" y="354" width="18.6" height="1.55" fill="rgb(113,113,255)"/><rect x="274.4" y="355.5" width="18.6" height="2.55" fill="rgb(126,126,255)"/><rect x="274.4" y="358" width="18.6" height="3.05" fill="rgb(126,126,255)"/><rect x="274.4" y="361" width="18.6" height="2.55" fill="rgb(107,107,255)"/><rect x="274.4" y="363.5" width="18.6" height="2.55" fill="rgb(95,95,255)"/><rect x="274.4" y="366" width="18.6" height="3.05" fill="rgb(138,138,255)"/><rect x="274.4" y="369" width="18.6" height="2.55" fill="rgb(133,133,255)"/><rect x="274.4" y="371.5" width="18.6" height="3.15" fill="rgb(139,139,255)"/><rect x="274.4" y="374.6" width="18.6" height="3.05" fill="rgb(110,110,255)"/><rect x="274.4" y="377.6" width="18.6" height="3.05" fill="rgb(113,113,255)"/><rect x="274.4" y="380.6" width="18.6" height="2.45" fill="rgb(115,115,255)"/><rect x="274.4" y="383" width="18.6" height="1.55" fill="rgb(245,245,255)"/><rect x="274.4" y="384.5" width="18.6" height="2.15" fill="rgb(231,231,255)"/><rect x="274.4" y="386.6" width="18.6" height="1.55" fill="rgb(130,130,255)"/><rect x="274.4" y="388.1" width="18.6" height="2.05" fill="rgb(137,137,255)"/><rect x="274.4" y="390.1" width="18.6" height="1.55" fill="rgb(140,140,255)"/><rect x="274.4" y="391.6" width="18.6" height="1.55" fill="rgb(133,133,255)"/><rect x="274.4" y="393.1" width="18.6" height="2.05" fill="rgb(141,141,255)"/><rect x="274.4" y="395.1" width="18.6" height="2.05" fill="rgb(138,138,255)"/><rect x="274.4" y="397.1" width="18.6" height="1.55" fill="rgb(130,130,255)"/><rect x="274.4" y="398.6" width="18.6" height="2.55" fill="rgb(199,199,255)"/><rect x="274.4" y="401.1" width="18.6" height="1.55" fill="rgb(204,204,255)"/><rect x="274.4" y="402.6" width="18.6" height="2.55" fill="rgb(255,113,113)"/><rect x="274.4" y="405.1" width="18.6" height="2.55" fill="rgb(255,126,126)"/><rect x="274.4" y="407.6" width="18.6" height="2.45" fill="rgb(255,114,114)"/><rect x="274.4" y="410" width="18.6" height="2.55" fill="rgb(255,144,144)"/><rect x="274.4" y="412.5" width="18.6" height="1.55" fill="rgb(255,136,136)"/><rect x="274.4" y="414" width="18.6" height="2.55" fill="rgb(255,137,137)"/><rect x="274.4" y="416.5" width="18.6" height="2.05" fill="rgb(255,135,135)"/><rect x="274.4" y="418.5" width="18.6" height="1.55" fill="rgb(255,128,128)"/><rect x="274.4" y="420" width="18.6" height="2.05" fill="rgb(255,144,144)"/><rect x="274.4" y="422" width="18.6" height="2.05" fill="rgb(255,136,136)"/><rect x="274.4" y="424" width="18.6" height="2.05" fill="rgb(255,137,137)"/><rect x="274.4" y="426" width="18.6" height="1.55" fill="rgb(255,136,136)"/><rect x="274.4" y="427.5" width="18.6" height="1.55" fill="rgb(255,142,142)"/><rect x="274.4" y="429" width="18.6" height="1.55" fill="rgb(255,71,71)"/><rect x="274.4" y="430.5" width="18.6" height="1.55" fill="rgb(255,73,73)"/><rect x="274.4" y="432" width="18.6" height="2.05" fill="rgb(255,68,68)"/><rect x="274.4" y="434" width="18.6" height="2.55" fill="rgb(255,70,70)"/><rect x="274.4" y="436.5" width="18.6" height="2.95" fill="rgb(255,67,67)"/><rect x="274.4" y="439.4" width="18.6" height="2.55" fill="rgb(255,232,232)"/><rect x="274.4" y="441.9" width="18.6" height="1.85" fill="rgb(255,242,242)"/><rect x="274.4" y="443.7" width="18.6" height="1.55" fill="rgb(255,108,108)"/><rect x="274.4" y="445.2" width="18.6" height="2.55" fill="rgb(255,109,109)"/><rect x="274.4" y="447.7" width="18.6" height="1.55" fill="rgb(255,93,93)"/><rect x="274.4" y="449.2" width="18.6" height="2.25" fill="rgb(255,94,94)"/><rect x="274.4" y="451.4" width="18.6" height="3.05" fill="rgb(255,156,156)"/><rect x="274.4" y="454.4" width="18.6" height="2.25" fill="rgb(255,158,158)"/><rect x="274.4" y="456.6" width="18.6" height="1.55" fill="rgb(255,98,98)"/><rect x="274.4" y="458.1" width="18.6" height="2.05" fill="rgb(255,107,107)"/><rect x="274.4" y="460.1" width="18.6" height="2.05" fill="rgb(255,105,105)"/><rect x="274.4" y="462.1" width="18.6" height="1.55" fill="rgb(255,110,110)"/><rect x="274.4" y="463.6" width="18.6" height="1.45" fill="rgb(255,108,108)"/><rect x="274.4" y="465" width="18.6" height="2.55" fill="rgb(255,136,136)"/><rect x="274.4" y="467.5" width="18.6" height="3.05" fill="rgb(255,128,128)"/><rect x="274.4" y="470.5" width="18.6" height="2.55" fill="rgb(255,139,139)"/><rect x="274.4" y="473" width="18.6" height="2.05" fill="rgb(255,136,136)"/><rect x="274.4" y="475" width="18.6" height="1.55" fill="rgb(255,139,139)"/><rect x="274.4" y="476.5" width="18.6" height="1.55" fill="rgb(255,129,129)"/><rect x="293" y="331.7" width="18.6" height="2.05" fill="rgb(143,143,255)"/><rect x="293" y="333.7" width="18.6" height="2.55" fill="rgb(136,136,255)"/><rect x="293" y="336.2" width="18.6" height="2.55" fill="rgb(129,129,255)"/><rect x="293" y="338.7" width="18.6" height="1.55" fill="rgb(137,137,255)"/><rect x="293" y="340.2" width="18.6" height="1.55" fill="rgb(137,137,255)"/><rect x="293" y="341.7" width="18.6" height="1.55" fill="rgb(129,129,255)"/><rect x="293" y="343.2" width="18.6" height="2.55" fill="rgb(136,136,255)"/><rect x="293" y="345.7" width="18.6" height="1.35" fill="rgb(140,140,255)"/><rect x="293" y="347" width="18.6" height="2.55" fill="rgb(127,127,255)"/><rect x="293" y="349.5" width="18.6" height="1.15" fill="rgb(119,119,255)"/><rect x="293" y="350.6" width="18.6" height="3.05" fill="rgb(131,131,255)"/><rect x="293" y="353.6" width="18.6" height="3.05" fill="rgb(130,130,255)"/><rect x="293" y="356.6" width="18.6" height="3.05" fill="rgb(144,144,255)"/><rect x="293" y="359.6" width="18.6" height="1.55" fill="rgb(137,137,255)"/><rect x="293" y="361.1" width="18.6" height="2.05" fill="rgb(131,131,255)"/><rect x="293" y="363.1" width="18.6" height="1.25" fill="rgb(143,143,255)"/><rect x="293" y="364.3" width="18.6" height="2.05" fill="rgb(115,115,255)"/><rect x="293" y="366.3" width="18.6" height="3.15" fill="rgb(127,127,255)"/><rect x="293" y="369.4" width="18.6" height="2.55" fill="rgb(139,139,255)"/><rect x="293" y="371.9" width="18.6" height="3.05" fill="rgb(138,138,255)"/><rect x="293" y="374.9" width="18.6" height="2.55" fill="rgb(133,133,255)"/><rect x="293" y="377.4" width="18.6" height="2.05" fill="rgb(132,132,255)"/><rect x="293" y="379.4" width="18.6" height="2.05" fill="rgb(141,141,255)"/><rect x="293" y="381.4" width="18.6" height="2.55" fill="rgb(121,121,255)"/><rect x="293" y="383.9" width="18.6" height="2.75" fill="rgb(113,113,255)"/><rect x="293" y="386.6" width="18.6" height="1.55" fill="rgb(144,144,255)"/><rect x="293" y="388.1" width="18.6" height="2.55" fill="rgb(127,127,255)"/><rect x="293" y="390.6" width="18.6" height="1.55" fill="rgb(127,127,255)"/><rect x="293" y="392.1" width="18.6" height="1.55" fill="rgb(142,142,255)"/><rect x="293" y="393.6" width="18.6" height="2.05" fill="rgb(131,131,255)"/><rect x="293" y="395.6" width="18.6" height="2.05" fill="rgb(133,133,255)"/><rect x="293" y="397.6" width="18.6" height="1.05" fill="rgb(133,133,255)"/><rect x="293" y="398.6" width="18.6" height="3.05" fill="rgb(212,212,255)"/><rect x="293" y="401.6" width="18.6" height="1.85" fill="rgb(200,200,255)"/><rect x="293" y="403.4" width="18.6" height="1.55" fill="rgb(255,235,235)"/><rect x="293" y="404.9" width="18.6" height="1.55" fill="rgb(255,230,230)"/><rect x="293" y="406.4" width="18.6" height="1.35" fill="rgb(255,236,236)"/><rect x="293" y="407.7" width="18.6" height="3.05" fill="rgb(255,144,144)"/><rect x="293" y="410.7" width="18.6" height="3.05" fill="rgb(255,139,139)"/><rect x="293" y="413.7" width="18.6" height="1.55" fill="rgb(255,137,137)"/><rect x="293" y="415.2" width="18.6" height="2.55" fill="rgb(255,133,133)"/><rect x="293" y="417.7" width="18.6" height="2.55" fill="rgb(255,142,142)"/><rect x="293" y="420.2" width="18.6" height="2.05" fill="rgb(255,127,127)"/><rect x="293" y="422.2" width="18.6" height="2.55" fill="rgb(255,128,128)"/><rect x="293" y="424.7" width="18.6" height="3.05" fill="rgb(255,137,137)"/><rect x="293" y="427.7" width="18.6" height="3.35" fill="rgb(255,133,133)"/><rect x="293" y="431" width="18.6" height="3.05" fill="rgb(255,85,85)"/><rect x="293" y="434" width="18.6" height="1.05" fill="rgb(255,83,83)"/><rect x="293" y="435" width="18.6" height="1.55" fill="rgb(255,203,203)"/><rect x="293" y="436.5" width="18.6" height="2.05" fill="rgb(255,208,208)"/><rect x="293" y="438.5" width="18.6" height="1.55" fill="rgb(255,200,200)"/><rect x="293" y="440" width="18.6" height="2.05" fill="rgb(255,78,78)"/><rect x="293" y="442" width="18.6" height="2.65" fill="rgb(255,89,89)"/><rect x="293" y="444.6" width="18.6" height="3.05" fill="rgb(255,115,115)"/><rect x="293" y="447.6" width="18.6" height="2.55" fill="rgb(255,126,126)"/><rect x="293" y="450.1" width="18.6" height="1.35" fill="rgb(255,126,126)"/><rect x="293" y="451.4" width="18.6" height="1.55" fill="rgb(255,90,90)"/><rect x="293" y="452.9" width="18.6" height="2.55" fill="rgb(255,91,91)"/><rect x="293" y="455.4" width="18.6" height="1.25" fill="rgb(255,88,88)"/><rect x="293" y="456.6" width="18.6" height="3.05" fill="rgb(255,127,127)"/><rect x="293" y="459.6" width="18.6" height="2.55" fill="rgb(255,125,125)"/><rect x="293" y="462.1" width="18.6" height="2.05" fill="rgb(255,126,126)"/><rect x="293" y="464.1" width="18.6" height="2.55" fill="rgb(255,112,112)"/><rect x="293" y="466.6" width="18.6" height="1.55" fill="rgb(255,119,119)"/><rect x="293" y="468.1" width="18.6" height="2.05" fill="rgb(255,121,121)"/><rect x="293" y="470.1" width="18.6" height="3.05" fill="rgb(255,114,114)"/><rect x="293" y="473.1" width="18.6" height="2.55" fill="rgb(255,126,126)"/><rect x="293" y="475.6" width="18.6" height="2.45" fill="rgb(255,117,117)"/><path d="M200 331.7L198.9 333.56L198.8 334.89L199 335.41L200 337ZM200 337L198.35 338.75L198.2 339.64L198.5 340.5L200 342ZM200 342L197.8 344.1L197.6 345.31L198 346.2L200 348ZM200 348L197.25 350.1L197 350.1L197.5 352.2L200 354ZM200 354L196.43 356.45L196.1 355.97L196.75 358.9L200 361ZM200 361L195.6 363.45L195.2 364.62L196 365.9L200 368ZM200 368L194.5 370.8L194 370.25L195 373.6L200 376ZM200 376L193.95 378.45L193.4 378.75L194.5 380.9L200 383ZM200 383L193.4 385.45L192.8 386.53L194 387.9L200 390ZM200 390L193.4 393.5L192.8 393.27L194 397L200 400ZM200 400L194.5 401.4L194 402.47L195 402.8L200 404ZM200 404L193.95 406.8L193.4 410.19L194.5 409.6L200 412ZM200 473L199.18 474.75L199.1 475.61L199.25 476.5L200 478ZM200 467L198.35 469.1L198.2 469.27L198.5 471.2L200 473ZM200 461L197.8 463.1L197.6 464.62L198 465.2L200 467ZM200 455L197.25 457.1L197 458.24L197.5 459.2L200 461ZM200 449L196.7 451.1L196.4 453.09L197 453.2L200 455ZM200 441L195.88 443.8L195.5 443.03L196.25 446.6L200 449ZM200 432L195.05 435.15L194.6 434.55L195.5 438.3L200 441ZM200 424L194.5 426.8L194 427.44L195 429.6L200 432ZM200 412L193.95 416.2L193.4 418.51L194.5 420.4L200 424Z" fill="#111"/><path d="M199.07 332.72V333.13M199.07 332.72H200M199.07 333.13H200M198.89 332.92V333.53M198.89 332.92H199.07M198.89 333.53H200M198.79 332.31V333.23M198.79 332.31H200M198.79 333.23H198.89M198.68 332.77V333.94M198.68 332.77H198.79M198.68 333.94H200M198.81 334.35V334.76M198.81 334.35H200M198.81 334.76H200M198.61 333.36V334.55M198.61 333.36H198.68M198.61 334.55H198.81M198.71 335.17V335.57M198.71 335.17H200M198.71 335.57H200M198.4 333.96V335.37M198.4 333.96H198.61M198.4 335.37H198.71M198.1 331.9V334.66M198.1 331.9H200M198.1 334.66H198.4M198.84 335.98V336.39M198.84 335.98H200M198.84 336.39H200M198.54 336.18V336.8M198.54 336.18H198.84M198.54 336.8H200M198 333.28V336.49M198 333.28H198.1M198 336.49H198.54M198.17 337.62V338.04M198.17 337.62H200M198.17 338.04H200M197.89 337.21V337.83M197.89 337.21H200M197.89 337.83H198.17M198.28 338.88V339.29M198.28 338.88H200M198.28 339.29H200M197.97 338.46V339.08M197.97 338.46H200M197.97 339.08H198.28M197.77 337.52V338.77M197.77 337.52H197.89M197.77 338.77H197.97M198.51 339.71V340.12M198.51 339.71H200M198.51 340.12H200M198.74 340.54V340.96M198.74 340.54H200M198.74 340.96H200M198.31 340.75V341.38M198.31 340.75H198.74M198.31 341.38H200M198.05 339.92V341.06M198.05 339.92H198.51M198.05 341.06H198.31M197.34 340.49V341.79M197.34 340.49H198.05M197.34 341.79H200M197 338.15V341.14M197 338.15H197.77M197 341.14H197.34M196.39 342.21V342.64M196.39 342.21H200M196.39 342.64H200M197.91 343.5V343.93M197.91 343.5H200M197.91 343.93H200M197.58 343.07V343.71M197.58 343.07H200M197.58 343.71H197.91M198.33 344.79V345.21M198.33 344.79H200M198.33 345.21H200M197.7 344.36V345M197.7 344.36H200M197.7 345H198.33M196.95 343.39V344.68M196.95 343.39H197.58M196.95 344.68H197.7M196.72 344.04V345.64M196.72 344.04H196.95M196.72 345.64H200M196.2 342.43V344.84M196.2 342.43H196.39M196.2 344.84H196.72M197.56 346.5V346.93M197.56 346.5H200M197.56 346.93H200M197.29 346.07V346.71M197.29 346.07H200M197.29 346.71H197.56M197 347.36V347.79M197 347.36H200M197 347.79H200M196.38 346.39V347.57M196.38 346.39H197.29M196.38 347.57H197M196 343.63V346.98M196 343.63H196.2M196 346.98H196.38M196.36 348.21V348.64M196.36 348.21H200M196.36 348.64H200M197.59 349.07V349.5M197.59 349.07H200M197.59 349.5H200M197.05 349.29V349.93M197.05 349.29H197.59M197.05 349.93H200M198.51 350.79V351.21M198.51 350.79H200M198.51 351.21H200M198.08 350.36V351M198.08 350.36H200M198.08 351H198.51M197.5 350.68V351.64M197.5 350.68H198.08M197.5 351.64H200M196.58 349.61V351.16M196.58 349.61H197.05M196.58 351.16H197.5M198.13 352.5V352.93M198.13 352.5H200M198.13 352.93H200M197.62 352.71V353.36M197.62 352.71H198.13M197.62 353.36H200M196.76 352.07V353.04M196.76 352.07H200M196.76 353.04H197.62M196.47 352.55V353.79M196.47 352.55H196.76M196.47 353.79H200M195.54 350.38V353.17M195.54 350.38H196.58M195.54 353.17H196.47M195 348.43V351.78M195 348.43H196.36M195 351.78H195.54M196.88 355.03V355.44M196.88 355.03H200M196.88 355.44H200M195.92 354.62V355.24M195.92 354.62H200M195.92 355.24H196.88M195.31 354.21V354.93M195.31 354.21H200M195.31 354.93H195.92M196.95 356.26V356.68M196.95 356.26H200M196.95 356.68H200M195.83 355.85V356.47M195.83 355.85H200M195.83 356.47H196.95M197.74 357.91V358.32M197.74 357.91H200M197.74 358.32H200M197.42 357.5V358.12M197.42 357.5H200M197.42 358.12H197.74M196.66 357.09V357.81M196.66 357.09H200M196.66 357.81H197.42M197.49 358.74V359.15M197.49 358.74H200M197.49 359.15H200M198.11 359.56V359.97M198.11 359.56H200M198.11 359.97H200M197.88 359.76V360.38M197.88 359.76H198.11M197.88 360.38H200M197.51 360.07V360.79M197.51 360.07H197.88M197.51 360.79H200M196.99 358.94V360.43M196.99 358.94H197.49M196.99 360.43H197.51M196.19 357.45V359.69M196.19 357.45H196.66M196.19 359.69H196.99M195.14 356.16V358.57M195.14 356.16H195.83M195.14 358.57H196.19M193.5 354.57V357.36M193.5 354.57H195.31M193.5 357.36H195.14M196.05 361.62V362.03M196.05 361.62H200M196.05 362.03H200M196.06 362.44V362.85M196.06 362.44H200M196.06 362.85H200M195.78 361.82V362.65M195.78 361.82H196.05M195.78 362.65H196.06M194.34 361.21V362.24M194.34 361.21H200M194.34 362.24H195.78M195.72 363.26V363.68M195.72 363.26H200M195.72 363.68H200M195.96 364.09V364.5M195.96 364.09H200M195.96 364.5H200M195.21 363.47V364.29M195.21 363.47H195.72M195.21 364.29H195.96M193.83 361.72V363.88M193.83 361.72H194.34M193.83 363.88H195.21M196.65 365.32V365.74M196.65 365.32H200M196.65 365.74H200M195.85 364.91V365.53M195.85 364.91H200M195.85 365.53H196.65M195.05 365.22V366.15M195.05 365.22H195.85M195.05 366.15H200M195.49 366.56V366.97M195.49 366.56H200M195.49 366.97H200M194.83 367.38V367.79M194.83 367.38H200M194.83 367.79H200M194.32 366.76V367.59M194.32 366.76H195.49M194.32 367.59H194.83M193.75 365.68V367.18M193.75 365.68H195.05M193.75 367.18H194.32M192 362.8V366.43M192 362.8H193.83M192 366.43H193.75M195.04 368.21V368.63M195.04 368.21H200M195.04 368.63H200M193.74 368.42V369.05M193.74 368.42H195.04M193.74 369.05H200M192.08 368.74V369.47M192.08 368.74H193.74M192.08 369.47H200M194.36 370.32V370.74M194.36 370.32H200M194.36 370.74H200M194.26 371.16V371.58M194.26 371.16H200M194.26 371.58H200M196.65 372.42V372.84M196.65 372.42H200M196.65 372.84H200M196.08 372.63V373.26M196.08 372.63H196.65M196.08 373.26H200M195.36 372.95V373.68M195.36 372.95H196.08M195.36 373.68H200M194.85 372V373.32M194.85 372H200M194.85 373.32H195.36M193.62 371.37V372.66M193.62 371.37H194.26M193.62 372.66H194.85M193.34 370.53V372.01M193.34 370.53H194.36M193.34 372.01H193.62M197.02 375.37V375.79M197.02 375.37H200M197.02 375.79H200M195.98 374.95V375.58M195.98 374.95H200M195.98 375.58H197.02M194.61 374.53V375.26M194.61 374.53H200M194.61 375.26H195.98M193.96 374.11V374.89M193.96 374.11H200M193.96 374.89H194.61M192.9 371.27V374.5M192.9 371.27H193.34M192.9 374.5H193.96M192.49 369.89V372.88M192.49 369.89H200M192.49 372.88H192.9M190 369.11V371.39M190 369.11H192.08M190 371.39H192.49M197.8 334.89V339.64M197.8 334.89H198M197.8 339.64H197M195.7 337.26V345.31M195.7 337.26H197.8M195.7 345.31H196M193.6 341.29V350.1M193.6 341.29H195.7M193.6 350.1H195M191.5 345.69V355.97M191.5 345.69H193.6M191.5 355.97H193.5M189.5 350.83V364.62M189.5 350.83H191.5M189.5 364.62H192M187.7 357.72V370.25M187.7 357.72H189.5M187.7 370.25H190M196.91 377.85V378.26M196.91 377.85H200M196.91 378.26H200M196.4 378.68V379.09M196.4 378.68H200M196.4 379.09H200M196.03 378.06V378.88M196.03 378.06H196.91M196.03 378.88H196.4M195.75 377.44V378.47M195.75 377.44H200M195.75 378.47H196.03M194.22 377.03V377.96M194.22 377.03H200M194.22 377.96H195.75M193.36 376.62V377.49M193.36 376.62H200M193.36 377.49H194.22M191.69 376.21V377.06M191.69 376.21H200M191.69 377.06H193.36M193.04 379.5V379.91M193.04 379.5H200M193.04 379.91H200M195.06 380.32V380.74M195.06 380.32H200M195.06 380.74H200M195.57 381.15V381.56M195.57 381.15H200M195.57 381.56H200M194.59 380.53V381.35M194.59 380.53H195.06M194.59 381.35H195.57M194.05 380.94V381.97M194.05 380.94H194.59M194.05 381.97H200M194.13 382.38V382.79M194.13 382.38H200M194.13 382.79H200M193.26 381.46V382.59M193.26 381.46H194.05M193.26 382.59H194.13M191.98 379.71V382.02M191.98 379.71H193.04M191.98 382.02H193.26M189 376.63V380.86M189 376.63H191.69M189 380.86H191.98M194.05 383.21V383.62M194.05 383.21H200M194.05 383.62H200M192.48 384.03V384.44M192.48 384.03H200M192.48 384.44H200M191.78 383.41V384.24M191.78 383.41H194.05M191.78 384.24H192.48M195.78 384.85V385.26M195.78 384.85H200M195.78 385.26H200M195.57 386.09V386.5M195.57 386.09H200M195.57 386.5H200M195.09 385.68V386.29M195.09 385.68H200M195.09 386.29H195.57M194.37 385.06V385.99M194.37 385.06H195.78M194.37 385.99H195.09M192.46 385.52V386.91M192.46 385.52H194.37M192.46 386.91H200M190.04 383.82V386.22M190.04 383.82H191.78M190.04 386.22H192.46M195.8 388.15V388.56M195.8 388.15H200M195.8 388.56H200M194.29 387.74V388.35M194.29 387.74H200M194.29 388.35H195.8M194.41 388.97V389.38M194.41 388.97H200M194.41 389.38H200M194.16 389.18V389.79M194.16 389.18H194.41M194.16 389.79H200M193.49 388.04V389.49M193.49 388.04H194.29M193.49 389.49H194.16M191.33 387.32V388.76M191.33 387.32H200M191.33 388.76H193.49M188 385.02V388.04M188 385.02H190.04M188 388.04H191.33M194.25 391.46V391.88M194.25 391.46H200M194.25 391.88H200M193.05 391.04V391.67M193.05 391.04H200M193.05 391.67H194.25M191.55 390.62V391.35M191.55 390.62H200M191.55 391.35H193.05M190.55 390.21V390.99M190.55 390.21H200M190.55 390.99H191.55M195.25 392.29V392.71M195.25 392.29H200M195.25 392.71H200M194.21 392.5V393.12M194.21 392.5H195.25M194.21 393.12H200M196.9 394.38V394.79M196.9 394.38H200M196.9 394.79H200M196 393.96V394.58M196 393.96H200M196 394.58H196.9M194.64 393.54V394.27M194.64 393.54H200M194.64 394.27H196M194.48 395.21V395.62M194.48 395.21H200M194.48 395.62H200M193.61 393.91V395.42M193.61 393.91H194.64M193.61 395.42H194.48M192.07 392.81V394.66M192.07 392.81H194.21M192.07 394.66H193.61M195.17 396.04V396.46M195.17 396.04H200M195.17 396.46H200M195.27 396.88V397.29M195.27 396.88H200M195.27 397.29H200M194.34 396.25V397.08M194.34 396.25H195.17M194.34 397.08H195.27M193.48 396.67V397.71M193.48 396.67H194.34M193.48 397.71H200M196.85 398.12V398.54M196.85 398.12H200M196.85 398.54H200M195.65 398.33V398.96M195.65 398.33H196.85M195.65 398.96H200M195.16 399.38V399.79M195.16 399.38H200M195.16 399.79H200M194.65 398.65V399.58M194.65 398.65H195.65M194.65 399.58H195.16M193.15 397.19V399.11M193.15 397.19H193.48M193.15 399.11H194.65M191.27 393.74V398.15M191.27 393.74H192.07M191.27 398.15H193.15M188 390.6V395.94M188 390.6H190.55M188 395.94H191.27M187.5 378.75V386.53M187.5 378.75H189M187.5 386.53H188M186.5 382.64V393.27M186.5 382.64H187.5M186.5 393.27H188M182.4 363.99V387.96M182.4 363.99H187.7M182.4 387.96H186.5M194.23 400.6V401M194.23 400.6H200M194.23 401H200M192 400.2V400.8M192 400.2H200M192 400.8H194.23M194.33 403V403.4M194.33 403H200M194.33 403.4H200M193.79 402.6V403.2M193.79 402.6H200M193.79 403.2H194.33M193.09 402.2V402.9M193.09 402.2H200M193.09 402.9H193.79M192.24 401.8V402.55M192.24 401.8H200M192.24 402.55H193.09M191.32 401.4V402.17M191.32 401.4H200M191.32 402.17H192.24M190.74 400.5V401.79M190.74 400.5H192M190.74 401.79H191.32M190 401.14V403.8M190 401.14H190.74M190 403.8H200M196.19 404.63V405.05M196.19 404.63H200M196.19 405.05H200M194.83 404.21V404.84M194.83 404.21H200M194.83 404.84H196.19M194.36 404.53V405.47M194.36 404.53H194.83M194.36 405.47H200M197.07 406.32V406.74M197.07 406.32H200M197.07 406.74H200M196.94 406.53V407.16M196.94 406.53H197.07M196.94 407.16H200M196.55 406.84V407.58M196.55 406.84H196.94M196.55 407.58H200M195.6 405.89V407.21M195.6 405.89H200M195.6 407.21H196.55M194.11 405V406.55M194.11 405H194.36M194.11 406.55H195.6M193.67 408.42V408.84M193.67 408.42H200M193.67 408.84H200M193.3 408V408.63M193.3 408H200M193.3 408.63H193.67M192.17 405.78V408.32M192.17 405.78H194.11M192.17 408.32H193.3M195.23 409.26V409.68M195.23 409.26H200M195.23 409.68H200M193.87 409.47V410.11M193.87 409.47H195.23M193.87 410.11H200M191.53 409.79V410.53M191.53 409.79H193.87M191.53 410.53H200M190.94 410.16V410.95M190.94 410.16H191.53M190.94 410.95H200M189.45 407.05V410.55M189.45 407.05H192.17M189.45 410.55H190.94M190.95 411.37V411.79M190.95 411.37H200M190.95 411.79H200M189 408.8V411.58M189 408.8H189.45M189 411.58H190.95M187.5 402.47V410.19M187.5 402.47H190M187.5 410.19H189M199 473.21V473.62M199 473.21H200M199 473.62H200M199.21 474.04V474.46M199.21 474.04H200M199.21 474.46H200M199.11 474.25V474.88M199.11 474.25H199.21M199.11 474.88H200M198.8 473.42V474.56M198.8 473.42H199M198.8 474.56H199.11M199.52 475.71V476.12M199.52 475.71H200M199.52 476.12H200M199.47 475.92V476.54M199.47 475.92H199.52M199.47 476.54H200M199.44 476.23V476.96M199.44 476.23H199.47M199.44 476.96H200M199.31 475.29V476.59M199.31 475.29H200M199.31 476.59H199.44M199.13 475.94V477.38M199.13 475.94H199.31M199.13 477.38H200M198.88 476.66V477.79M198.88 476.66H199.13M198.88 477.79H200M198.5 473.99V477.23M198.5 473.99H198.8M198.5 477.23H198.88M197.51 467.64V468.07M197.51 467.64H200M197.51 468.07H200M197.26 467.21V467.86M197.26 467.21H200M197.26 467.86H197.51M198.65 468.93V469.36M198.65 468.93H200M198.65 469.36H200M198.57 468.5V469.14M198.57 468.5H200M198.57 469.14H198.65M198.07 468.82V469.79M198.07 468.82H198.57M198.07 469.79H200M198.37 470.21V470.64M198.37 470.21H200M198.37 470.64H200M198.19 470.43V471.07M198.19 470.43H198.37M198.19 471.07H200M197.92 469.3V470.75M197.92 469.3H198.07M197.92 470.75H198.19M198.45 471.93V472.36M198.45 471.93H200M198.45 472.36H200M198.3 472.14V472.79M198.3 472.14H198.45M198.3 472.79H200M197.9 471.5V472.46M197.9 471.5H200M197.9 472.46H198.3M197.6 470.03V471.98M197.6 470.03H197.92M197.6 471.98H197.9M197 467.54V471M197 467.54H197.26M197 471H197.6M198.52 462.07V462.5M198.52 462.07H200M198.52 462.5H200M198.21 461.64V462.29M198.21 461.64H200M198.21 462.29H198.52M197.82 461.21V461.96M197.82 461.21H200M197.82 461.96H198.21M198.03 462.93V463.36M198.03 462.93H200M198.03 463.36H200M197.76 463.14V463.79M197.76 463.14H198.03M197.76 463.79H200M197.44 461.59V463.46M197.44 461.59H197.82M197.44 463.46H197.76M197.12 464.21V464.64M197.12 464.21H200M197.12 464.64H200M196.63 462.53V464.43M196.63 462.53H197.44M196.63 464.43H197.12M196.73 465.07V465.5M196.73 465.07H200M196.73 465.5H200M197.7 466.36V466.79M197.7 466.36H200M197.7 466.79H200M197.3 465.93V466.57M197.3 465.93H200M197.3 466.57H197.7M196.51 465.29V466.25M196.51 465.29H196.73M196.51 466.25H197.3M196 463.48V465.77M196 463.48H196.63M196 465.77H196.51M196.91 455.21V455.64M196.91 455.21H200M196.91 455.64H200M196.16 455.43V456.07M196.16 455.43H196.91M196.16 456.07H200M197.03 456.93V457.36M197.03 456.93H200M197.03 457.36H200M196.4 456.5V457.14M196.4 456.5H200M196.4 457.14H197.03M195.21 455.75V456.82M195.21 455.75H196.16M195.21 456.82H196.4M198.1 457.79V458.21M198.1 457.79H200M198.1 458.21H200M197.49 458V458.64M197.49 458H198.1M197.49 458.64H200M197.8 459.5V459.93M197.8 459.5H200M197.8 459.93H200M197.17 459.07V459.71M197.17 459.07H200M197.17 459.71H197.8M196.74 458.32V459.39M196.74 458.32H197.49M196.74 459.39H197.17M196.32 458.86V460.36M196.32 458.86H196.74M196.32 460.36H200M195.68 459.61V460.79M195.68 459.61H196.32M195.68 460.79H200M195 456.29V460.2M195 456.29H195.21M195 460.2H195.68M198.2 450.5V450.93M198.2 450.5H200M198.2 450.93H200M197.51 450.07V450.71M197.51 450.07H200M197.51 450.71H198.2M196.86 449.64V450.39M196.86 449.64H200M196.86 450.39H197.51M195.68 449.21V450.02M195.68 449.21H200M195.68 450.02H196.86M196.87 451.36V451.79M196.87 451.36H200M196.87 451.79H200M196.87 452.21V452.64M196.87 452.21H200M196.87 452.64H200M196.59 453.07V453.5M196.59 453.07H200M196.59 453.5H200M196.29 452.43V453.29M196.29 452.43H196.87M196.29 453.29H196.59M195.95 451.57V452.86M195.95 451.57H196.87M195.95 452.86H196.29M196.9 453.93V454.36M196.9 453.93H200M196.9 454.36H200M195.75 452.21V454.14M195.75 452.21H195.95M195.75 454.14H196.9M195.43 449.62V453.18M195.43 449.62H195.68M195.43 453.18H195.75M194 451.4V454.79M194 451.4H195.43M194 454.79H200M197.55 442.47V442.89M197.55 442.47H200M197.55 442.89H200M197.01 442.05V442.68M197.01 442.05H200M197.01 442.68H197.55M196 441.63V442.37M196 441.63H200M196 442.37H197.01M196.12 443.74V444.16M196.12 443.74H200M196.12 444.16H200M195.78 443.32V443.95M195.78 443.32H200M195.78 443.95H196.12M194.5 442V443.63M194.5 442H196M194.5 443.63H195.78M197.03 445V445.42M197.03 445H200M197.03 445.42H200M196.42 445.21V445.84M196.42 445.21H197.03M196.42 445.84H200M196.18 444.58V445.53M196.18 444.58H200M196.18 445.53H196.42M195.77 446.26V446.68M195.77 446.26H200M195.77 446.68H200M195.3 445.05V446.47M195.3 445.05H196.18M195.3 446.47H195.77M197 447.53V447.95M197 447.53H200M197 447.95H200M196.3 447.11V447.74M196.3 447.11H200M196.3 447.74H197M196.41 448.37V448.79M196.41 448.37H200M196.41 448.79H200M195.09 447.42V448.58M195.09 447.42H196.3M195.09 448.58H196.41M194.83 445.76V448M194.83 445.76H195.3M194.83 448H195.09M194 442.82V446.88M194 442.82H194.5M194 446.88H194.83M192.5 441.21V444.85M192.5 441.21H200M192.5 444.85H194M193.49 432.21V432.64M193.49 432.21H200M193.49 432.64H200M191.72 432.43V433.07M191.72 432.43H193.49M191.72 433.07H200M195.98 434.79V435.21M195.98 434.79H200M195.98 435.21H200M194.9 434.36V435M194.9 434.36H200M194.9 435H195.98M194.07 433.93V434.68M194.07 433.93H200M194.07 434.68H194.9M193.26 433.5V434.3M193.26 433.5H200M193.26 434.3H194.07M197.34 435.64V436.07M197.34 435.64H200M197.34 436.07H200M197.64 436.93V437.36M197.64 436.93H200M197.64 437.36H200M196.98 436.5V437.14M196.98 436.5H200M196.98 437.14H197.64M196.35 435.86V436.82M196.35 435.86H197.34M196.35 436.82H196.98M195.48 436.34V437.79M195.48 436.34H196.35M195.48 437.79H200M194.63 438.21V438.64M194.63 438.21H200M194.63 438.64H200M194.28 437.06V438.43M194.28 437.06H195.48M194.28 438.43H194.63M195.25 439.07V439.5M195.25 439.07H200M195.25 439.5H200M196.23 439.93V440.36M196.23 439.93H200M196.23 440.36H200M195.78 440.14V440.79M195.78 440.14H196.23M195.78 440.79H200M194.2 439.29V440.46M194.2 439.29H195.25M194.2 440.46H195.78M192.79 437.75V439.88M192.79 437.75H194.28M192.79 439.88H194.2M191.42 433.9V438.81M191.42 433.9H193.26M191.42 438.81H192.79M191 432.75V436.36M191 432.75H191.72M191 436.36H191.42M193.93 424.21V424.63M193.93 424.21H200M193.93 424.63H200M193.03 424.42V425.05M193.03 424.42H193.93M193.03 425.05H200M196.91 427.16V427.58M196.91 427.16H200M196.91 427.58H200M196.54 426.74V427.37M196.54 426.74H200M196.54 427.37H196.91M196.19 426.32V427.05M196.19 426.32H200M196.19 427.05H196.54M194.77 425.89V426.68M194.77 425.89H200M194.77 426.68H196.19M192.92 425.47V426.29M192.92 425.47H200M192.92 426.29H194.77M190.84 424.74V425.88M190.84 424.74H193.03M190.84 425.88H192.92M194.95 428V428.42M194.95 428H200M194.95 428.42H200M193.17 428.21V428.84M193.17 428.21H194.95M193.17 428.84H200M195.99 429.26V429.68M195.99 429.26H200M195.99 429.68H200M194.76 429.47V430.11M194.76 429.47H195.99M194.76 430.11H200M195.8 430.53V430.95M195.8 430.53H200M195.8 430.95H200M194.68 430.74V431.37M194.68 430.74H195.8M194.68 431.37H200M193.73 431.05V431.79M193.73 431.05H194.68M193.73 431.79H200M193.19 429.79V431.42M193.19 429.79H194.76M193.19 431.42H193.73M190.81 428.53V430.61M190.81 428.53H193.17M190.81 430.61H193.19M190 425.31V429.57M190 425.31H190.84M190 429.57H190.81M193.46 412.62V413.03M193.46 412.62H200M193.46 413.03H200M196.02 413.45V413.86M196.02 413.45H200M196.02 413.86H200M194.98 413.66V414.28M194.98 413.66H196.02M194.98 414.28H200M197.22 415.1V415.52M197.22 415.1H200M197.22 415.52H200M197.87 415.93V416.34M197.87 415.93H200M197.87 416.34H200M197.74 416.14V416.76M197.74 416.14H197.87M197.74 416.76H200M197.08 415.31V416.45M197.08 415.31H197.22M197.08 416.45H197.74M196.07 414.69V415.88M196.07 414.69H200M196.07 415.88H197.08M196.33 417.17V417.59M196.33 417.17H200M196.33 417.59H200M195.37 415.28V417.38M195.37 415.28H196.07M195.37 417.38H196.33M196.26 418V418.41M196.26 418H200M196.26 418.41H200M194.98 416.33V418.21M194.98 416.33H195.37M194.98 418.21H196.26M194.11 413.97V417.27M194.11 413.97H194.98M194.11 417.27H194.98M196.8 420.07V420.48M196.8 420.07H200M196.8 420.48H200M196.11 419.66V420.28M196.11 419.66H200M196.11 420.28H196.8M195.13 419.24V419.97M195.13 419.24H200M195.13 419.97H196.11M195.76 420.9V421.31M195.76 420.9H200M195.76 421.31H200M195.55 421.1V421.72M195.55 421.1H195.76M195.55 421.72H200M196.52 422.14V422.55M196.52 422.14H200M196.52 422.55H200M195.22 421.41V422.34M195.22 421.41H195.55M195.22 422.34H196.52M194.34 419.6V421.88M194.34 419.6H195.13M194.34 421.88H195.22M194.07 418.83V420.74M194.07 418.83H200M194.07 420.74H194.34M193.53 415.62V419.78M193.53 415.62H194.11M193.53 419.78H194.07M191.17 412.83V417.7M191.17 412.83H193.46M191.17 417.7H193.53M190.51 412.21V415.26M190.51 412.21H200M190.51 415.26H191.17M192.26 423.38V423.79M192.26 423.38H200M192.26 423.79H200M191.56 422.97V423.59M191.56 422.97H200M191.56 423.59H192.26M189 413.74V423.28M189 413.74H190.51M189 423.28H191.56M196.9 475.61V469.27M196.9 475.61H198.5M196.9 469.27H197M195.3 472.44V464.62M195.3 472.44H196.9M195.3 464.62H196M193.2 468.53V458.24M193.2 468.53H195.3M193.2 458.24H195M191.7 463.39V453.09M191.7 463.39H193.2M191.7 453.09H194M189.6 458.24V443.03M189.6 458.24H191.7M189.6 443.03H192.5M187.8 450.63V434.55M187.8 450.63H189.6M187.8 434.55H191M186.5 442.59V427.44M186.5 442.59H187.8M186.5 427.44H190M185.5 435.02V418.51M185.5 435.02H186.5M185.5 418.51H189M182.8 406.33V426.76M182.8 406.33H187.5M182.8 426.76H185.5M179.7 375.97V416.55M179.7 375.97H182.4M179.7 416.55H182.8" stroke="#000" stroke-width="0.5" fill="none"/><text x="312.9" y="330" font-size="5.6" font-family='"Liberation Sans", sans-serif' text-anchor="start" fill="#000" >Group</text><defs><linearGradient id="gd" x1="0" y1="0" x2="0" y2="1"><stop offset="0" stop-color="#ff0000"/><stop offset="0.5" stop-color="#ffffff"/><stop offset="1" stop-color="#0000ff"/></linearGradient></defs><rect x="314.3" y="331.9" width="3.6" height="71.7" fill="url(#gd)"/><text x="320" y="335.3" font-size="5" font-family='"Liberation Sans", sans-serif' text-anchor="start" fill="#222" >2</text><text x="320" y="352.8" font-size="5" font-family='"Liberation Sans", sans-serif' text-anchor="start" fill="#222" >1</text><text x="320" y="370.4" font-size="5" font-family='"Liberation Sans", sans-serif' text-anchor="start" fill="#222" >0</text><text x="320" y="388" font-size="5" font-family='"Liberation Sans", sans-serif' text-anchor="start" fill="#222" >-1</text><text x="320" y="405.6" font-size="5" font-family='"Liberation Sans", sans-serif' text-anchor="start" fill="#222" >-2</text><text x="325.7" y="335.7" font-size="7.6" font-family='"Liberation Serif", serif' text-anchor="start" fill="#000" >CLW</text><rect x="327.9" y="337.9" width="6.4" height="8.5" fill="#16c8cc"/><rect x="327.9" y="346.4" width="6.4" height="7.9" fill="#f88a80"/><text x="325.7" y="363.6" font-size="7.6" font-family='"Liberation Serif", serif' text-anchor="start" fill="#000" >CON</text><text x="208.8" y="488.3" font-size="7" font-family='"Liberation Serif", serif' text-anchor="middle" fill="#111" >CLW1</text><text x="227.82" y="488.3" font-size="7" font-family='"Liberation Serif", serif' text-anchor="middle" fill="#111" >CLW2</text><text x="246.84" y="488.3" font-size="7" font-family='"Liberation Serif", serif' text-anchor="middle" fill="#111" >CLW3</text><text x="265.86" y="488.3" font-size="7" font-family='"Liberation Serif", serif' text-anchor="middle" fill="#111" >CON1</text><text x="284.88" y="488.3" font-size="7" font-family='"Liberation Serif", serif' text-anchor="middle" fill="#111" >CON2</text><text x="303.9" y="488.3" font-size="7" font-family='"Liberation Serif", serif' text-anchor="middle" fill="#111" >CON3</text></svg></body></html>
